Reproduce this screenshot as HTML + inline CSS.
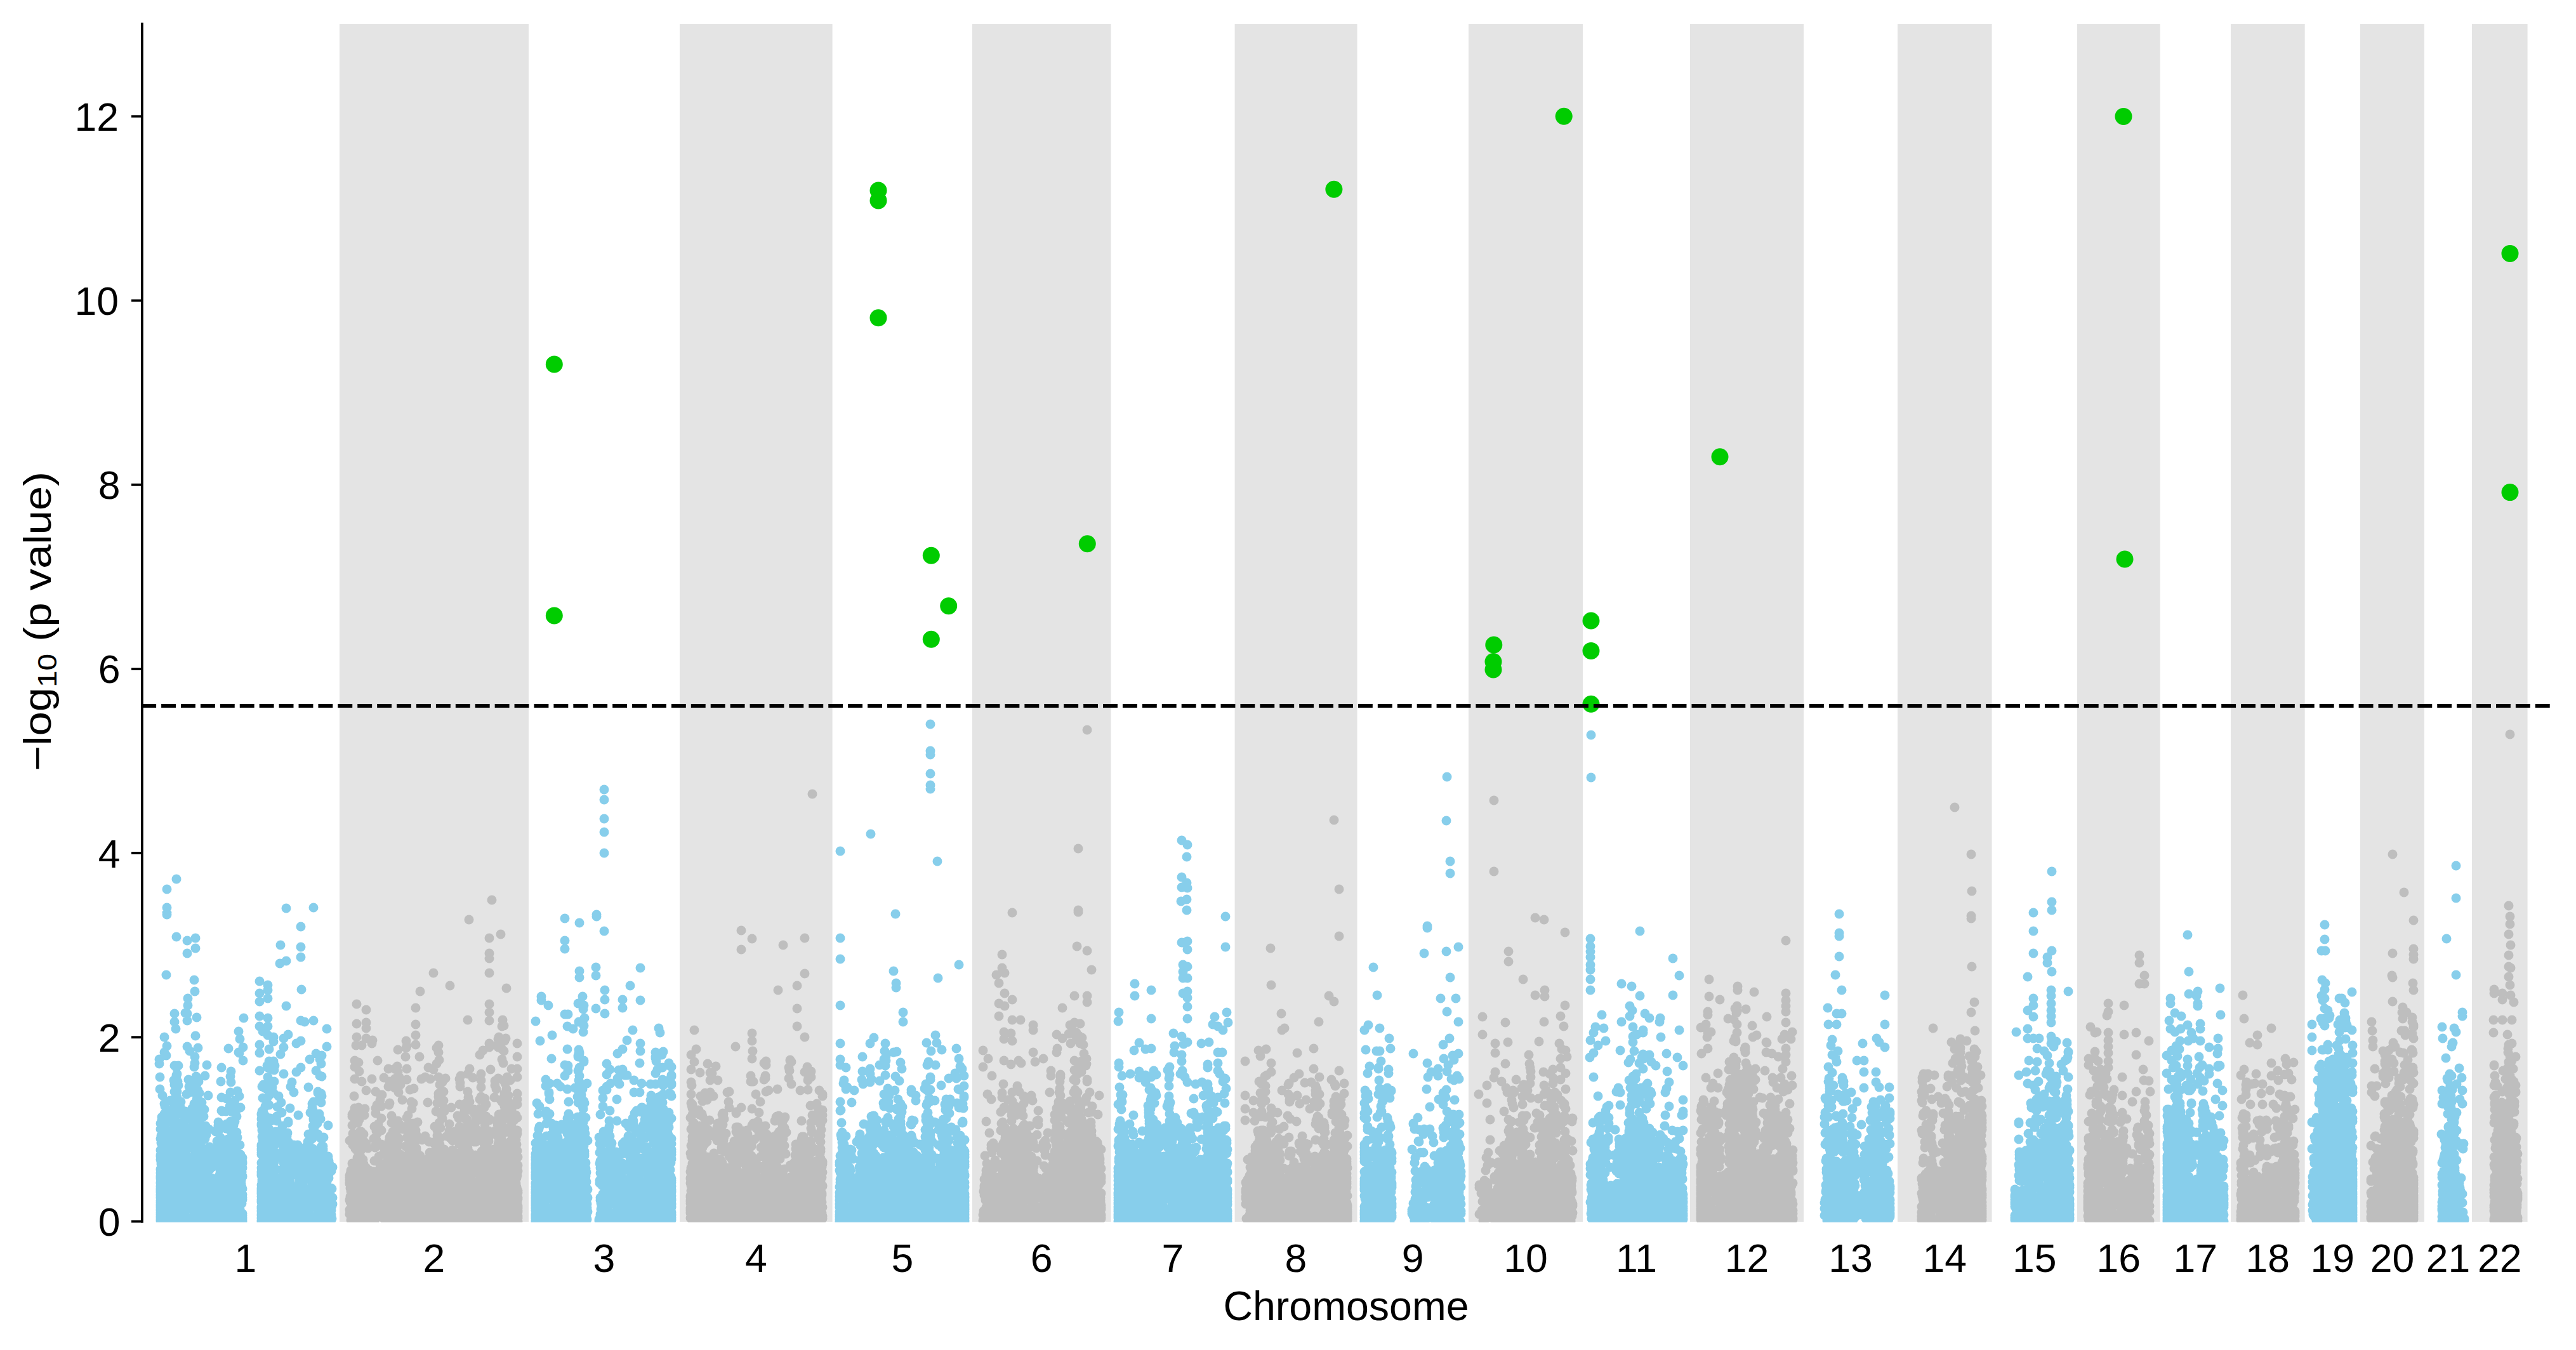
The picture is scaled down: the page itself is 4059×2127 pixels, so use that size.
<!DOCTYPE html><html><head><meta charset="utf-8"><style>html,body{margin:0;padding:0;background:#fff;width:4059px;height:2127px}svg{display:block}text{font-family:"Liberation Sans",sans-serif;fill:#000}</style></head><body><svg width="4059" height="2127" viewBox="0 0 4059 2127"><defs><clipPath id="ax"><rect x="224" y="38" width="3794" height="1887.7"/></clipPath></defs><rect x="535.0" y="38" width="298.0" height="1887.0" fill="#e4e4e4"/><rect x="1071.0" y="38" width="240.6" height="1887.0" fill="#e4e4e4"/><rect x="1532.0" y="38" width="218.5" height="1887.0" fill="#e4e4e4"/><rect x="1945.6" y="38" width="192.9" height="1887.0" fill="#e4e4e4"/><rect x="2314.0" y="38" width="180.0" height="1887.0" fill="#e4e4e4"/><rect x="2663.0" y="38" width="179.0" height="1887.0" fill="#e4e4e4"/><rect x="2990.0" y="38" width="148.6" height="1887.0" fill="#e4e4e4"/><rect x="3273.0" y="38" width="130.7" height="1887.0" fill="#e4e4e4"/><rect x="3515.0" y="38" width="116.7" height="1887.0" fill="#e4e4e4"/><rect x="3719.0" y="38" width="101.0" height="1887.0" fill="#e4e4e4"/><rect x="3895.0" y="38" width="87.6" height="1887.0" fill="#e4e4e4"/><g clip-path="url(#ax)"><path fill="#87ceeb" d=""/><path fill="#bebebe" d=""/><path fill="none" stroke-linecap="round" stroke-width="15" stroke="#87ceeb" d="M278 1385h0M263 1401h0M263 1430h0M263 1438h0M263 1441h0M278 1476h0M295 1482h0M308 1478h0M308 1494h0M295 1502h0M262 1536h0M306 1544h0M307 1562h0M296 1573h0M296 1584h0M295 1597h0M295 1608h0M275 1597h0M275 1610h0M277 1621h0M295 1649h0M262 1663h0M251 1669h0M251 1676h0M252 1697h0M252 1716h0M307 1675h0M326 1678h0M349 1682h0M323 1695h0M348 1704h0M349 1729h0M313 1704h0M384 1604h0M360 1652h0M378 1637h0M383 1650h0M377 1659h0M383 1671h0M451 1431h0M494 1430h0M474 1460h0M442 1489h0M474 1492h0M474 1508h0M451 1514h0M441 1518h0M475 1559h0M409 1546h0M409 1565h0M409 1578h0M409 1601h0M409 1617h0M422 1552h0M422 1560h0M422 1573h0M422 1604h0M422 1617h0M422 1631h0M451 1585h0M474 1608h0M480 1610h0M494 1608h0M515 1621h0M515 1649h0M498 1660h0M447 1636h0M454 1630h0M447 1650h0M467 1644h0M474 1640h0M409 1646h0M409 1659h0M424 1653h0M431 1672h0M409 1687h0M422 1682h0M447 1692h0M467 1689h0M474 1682h0M498 1687h0M506 1676h0M324 1902h0M285 1915h0M423 1914h0M504 1908h0M342 1828h0M373 1808h0M473 1868h0M317 1860h0M479 1911h0M414 1859h0M261 1894h0M279 1712h0M306 1911h0M415 1830h0M500 1921h0M365 1921h0M486 1848h0M457 1807h0M309 1905h0M507 1921h0M278 1910h0M304 1868h0M507 1727h0M254 1868h0M452 1921h0M271 1910h0M369 1859h0M376 1898h0M420 1880h0M254 1897h0M345 1909h0M448 1883h0M268 1904h0M258 1924h0M470 1835h0M289 1879h0M332 1860h0M253 1901h0M280 1888h0M312 1873h0M368 1922h0M304 1849h0M312 1907h0M379 1819h0M293 1816h0M267 1768h0M256 1919h0M280 1873h0M428 1783h0M307 1907h0M291 1904h0M281 1867h0M449 1922h0M261 1897h0M450 1908h0M260 1918h0M309 1912h0M445 1913h0M273 1917h0M312 1891h0M378 1823h0M301 1889h0M368 1888h0M259 1902h0M276 1905h0M372 1890h0M261 1903h0M423 1903h0M451 1916h0M484 1838h0M254 1917h0M282 1897h0M434 1923h0M325 1910h0M298 1872h0M416 1911h0M278 1886h0M255 1914h0M502 1886h0M310 1854h0M280 1777h0M349 1906h0M304 1879h0M413 1916h0M302 1858h0M278 1804h0M438 1923h0M293 1906h0M270 1888h0M428 1917h0M259 1892h0M493 1917h0M280 1921h0M457 1917h0M300 1898h0M485 1799h0M259 1815h0M283 1889h0M307 1923h0M322 1902h0M255 1891h0M292 1924h0M479 1901h0M350 1914h0M426 1793h0M372 1877h0M447 1898h0M330 1864h0M318 1777h0M299 1789h0M498 1916h0M310 1920h0M278 1907h0M487 1873h0M309 1898h0M313 1846h0M281 1899h0M277 1780h0M499 1897h0M285 1900h0M419 1804h0M413 1819h0M253 1919h0M299 1899h0M412 1819h0M328 1906h0M442 1920h0M502 1923h0M448 1868h0M348 1922h0M289 1895h0M273 1851h0M451 1923h0M269 1858h0M502 1905h0M497 1903h0M435 1923h0M416 1814h0M460 1919h0M300 1808h0M376 1876h0M329 1915h0M283 1834h0M365 1860h0M423 1874h0M254 1921h0M281 1894h0M304 1867h0M354 1914h0M433 1858h0M319 1912h0M368 1916h0M418 1785h0M292 1915h0M311 1882h0M264 1923h0M317 1849h0M300 1851h0M276 1920h0M288 1851h0M302 1918h0M301 1882h0M253 1895h0M282 1831h0M277 1853h0M466 1914h0M412 1892h0M511 1910h0M369 1907h0M441 1864h0M470 1886h0M305 1767h0M304 1859h0M497 1888h0M279 1738h0M282 1861h0M354 1901h0M289 1804h0M353 1913h0M417 1714h0M303 1922h0M298 1839h0M372 1919h0M455 1870h0M308 1841h0M447 1882h0M486 1908h0M330 1907h0M330 1909h0M413 1855h0M423 1843h0M306 1864h0M300 1922h0M424 1857h0M488 1895h0M376 1850h0M413 1763h0M414 1750h0M465 1919h0M275 1856h0M424 1923h0M299 1656h0M513 1879h0M321 1921h0M265 1915h0M281 1921h0M254 1841h0M447 1881h0M509 1844h0M272 1858h0M415 1924h0M286 1837h0M428 1826h0M466 1903h0M429 1798h0M255 1837h0M452 1906h0M502 1857h0M422 1854h0M276 1922h0M280 1877h0M429 1902h0M329 1886h0M501 1922h0M308 1840h0M299 1924h0M450 1923h0M371 1884h0M449 1923h0M346 1894h0M274 1844h0M256 1904h0M333 1921h0M506 1723h0M275 1876h0M271 1876h0M292 1810h0M519 1902h0M417 1821h0M275 1904h0M289 1832h0M366 1889h0M450 1846h0M510 1924h0M276 1864h0M512 1887h0M301 1783h0M276 1762h0M290 1894h0M506 1886h0M494 1875h0M282 1864h0M378 1901h0M503 1886h0M286 1890h0M453 1923h0M290 1882h0M357 1830h0M453 1909h0M441 1910h0M355 1870h0M257 1812h0M373 1893h0M296 1802h0M362 1924h0M259 1800h0M298 1840h0M255 1851h0M315 1868h0M342 1897h0M343 1900h0M260 1885h0M288 1874h0M327 1855h0M511 1920h0M296 1924h0M257 1923h0M319 1840h0M314 1923h0M510 1846h0M271 1801h0M423 1901h0M489 1878h0M492 1794h0M293 1858h0M268 1734h0M519 1906h0M449 1811h0M284 1923h0M419 1860h0M276 1769h0M257 1834h0M426 1907h0M253 1899h0M492 1880h0M505 1898h0M330 1817h0M258 1864h0M349 1924h0M280 1807h0M477 1920h0M378 1907h0M351 1924h0M501 1722h0M268 1889h0M259 1924h0M275 1792h0M255 1884h0M437 1905h0M426 1762h0M339 1875h0M275 1838h0M450 1867h0M493 1883h0M282 1923h0M267 1851h0M520 1898h0M292 1811h0M434 1907h0M424 1881h0M376 1746h0M279 1829h0M347 1815h0M319 1885h0M468 1868h0M295 1924h0M367 1916h0M458 1899h0M273 1904h0M337 1883h0M482 1887h0M428 1923h0M466 1907h0M412 1763h0M476 1894h0M286 1779h0M362 1919h0M489 1753h0M292 1861h0M275 1900h0M281 1924h0M377 1888h0M361 1893h0M319 1860h0M336 1876h0M279 1812h0M325 1847h0M279 1749h0M273 1866h0M365 1904h0M414 1890h0M266 1881h0M316 1879h0M502 1839h0M258 1868h0M263 1874h0M257 1860h0M322 1896h0M258 1822h0M429 1801h0M518 1923h0M420 1882h0M423 1887h0M338 1920h0M308 1817h0M497 1883h0M477 1910h0M499 1863h0M333 1890h0M297 1795h0M495 1859h0M377 1822h0M445 1862h0M451 1876h0M413 1919h0M279 1752h0M361 1833h0M282 1805h0M367 1910h0M457 1890h0M334 1831h0M417 1831h0M325 1886h0M413 1903h0M298 1848h0M292 1837h0M523 1920h0M454 1769h0M277 1715h0M437 1919h0M415 1771h0M458 1923h0M277 1840h0M459 1924h0M460 1887h0M363 1696h0M421 1898h0M343 1892h0M306 1822h0M428 1863h0M370 1734h0M369 1887h0M431 1641h0M272 1798h0M430 1866h0M424 1876h0M302 1836h0M345 1924h0M429 1869h0M308 1924h0M318 1837h0M517 1924h0M482 1911h0M432 1901h0M258 1853h0M379 1915h0M520 1902h0M425 1852h0M415 1831h0M423 1924h0M315 1807h0M375 1879h0M376 1920h0M270 1826h0M414 1914h0M337 1882h0M366 1907h0M255 1906h0M463 1893h0M371 1894h0M450 1872h0M501 1787h0M377 1823h0M500 1841h0M420 1838h0M451 1854h0M453 1862h0M357 1882h0M416 1924h0M352 1874h0M364 1877h0M499 1847h0M253 1875h0M427 1924h0M319 1815h0M450 1873h0M360 1887h0M417 1860h0M343 1877h0M447 1877h0M439 1883h0M420 1860h0M287 1924h0M488 1920h0M257 1810h0M449 1800h0M432 1827h0M414 1898h0M501 1923h0M377 1727h0M428 1823h0M276 1924h0M345 1859h0M510 1850h0M376 1868h0M341 1910h0M311 1815h0M253 1887h0M350 1878h0M365 1796h0M297 1836h0M324 1843h0M367 1867h0M338 1875h0M298 1712h0M297 1752h0M421 1893h0M328 1886h0M478 1855h0M359 1863h0M412 1873h0M263 1861h0M279 1843h0M494 1853h0M305 1789h0M445 1854h0M335 1878h0M478 1824h0M305 1768h0M520 1903h0M413 1870h0M324 1923h0M472 1817h0M279 1924h0M306 1681h0M308 1827h0M311 1753h0M331 1924h0M423 1889h0M271 1835h0M347 1884h0M276 1759h0M339 1868h0M285 1736h0M493 1855h0M259 1838h0M286 1840h0M376 1922h0M305 1830h0M513 1881h0M300 1824h0M471 1851h0M462 1887h0M256 1802h0M382 1920h0M298 1777h0M254 1908h0M273 1923h0M279 1826h0M361 1839h0M254 1870h0M519 1895h0M514 1895h0M304 1808h0M447 1923h0M258 1843h0M413 1881h0M348 1833h0M423 1845h0M254 1794h0M413 1878h0M449 1894h0M465 1921h0M447 1848h0M381 1896h0M363 1838h0M256 1861h0M253 1874h0M254 1834h0M284 1770h0M253 1892h0M427 1898h0M289 1781h0M381 1870h0M341 1903h0M285 1785h0M287 1812h0M310 1767h0M303 1924h0M468 1873h0M519 1894h0M323 1897h0M454 1867h0M477 1867h0M488 1923h0M341 1822h0M288 1797h0M412 1880h0M254 1815h0M433 1875h0M278 1814h0M495 1848h0M434 1790h0M313 1762h0M254 1911h0M496 1838h0M471 1856h0M448 1894h0M329 1898h0M310 1802h0M278 1786h0M345 1860h0M254 1801h0M492 1865h0M521 1901h0M436 1900h0M522 1922h0M490 1792h0M412 1890h0M337 1810h0M509 1924h0M444 1802h0M366 1924h0M358 1904h0M278 1713h0M312 1801h0M253 1794h0M309 1924h0M433 1870h0M257 1856h0M276 1815h0M259 1658h0M470 1923h0M379 1921h0M425 1762h0M274 1752h0M304 1791h0M432 1704h0M272 1924h0M293 1827h0M374 1922h0M280 1819h0M272 1748h0M313 1795h0M282 1827h0M337 1829h0M313 1755h0M421 1800h0M507 1663h0M412 1919h0M449 1827h0M428 1898h0M258 1834h0M380 1895h0M522 1845h0M499 1922h0M503 1876h0M291 1818h0M305 1771h0M253 1855h0M274 1924h0M381 1924h0M336 1872h0M429 1890h0M501 1871h0M255 1922h0M445 1774h0M494 1833h0M479 1860h0M328 1844h0M306 1784h0M254 1904h0M353 1899h0M350 1775h0M255 1764h0M318 1737h0M412 1872h0M512 1916h0M418 1924h0M502 1865h0M471 1862h0M446 1791h0M275 1777h0M429 1804h0M412 1852h0M454 1767h0M412 1881h0M277 1725h0M254 1884h0M253 1903h0M431 1855h0M382 1854h0M269 1752h0M382 1887h0M312 1750h0M412 1907h0M302 1795h0M310 1831h0M380 1881h0M485 1829h0M255 1813h0M449 1842h0M323 1924h0M253 1898h0M378 1910h0M312 1722h0M425 1827h0M368 1825h0M492 1812h0M253 1857h0M253 1911h0M370 1846h0M454 1882h0M363 1721h0M439 1898h0M264 1750h0M522 1914h0M360 1858h0M438 1891h0M382 1831h0M414 1793h0M471 1874h0M450 1850h0M455 1863h0M357 1888h0M481 1880h0M374 1792h0M314 1790h0M255 1812h0M434 1886h0M350 1865h0M298 1762h0M412 1875h0M263 1924h0M432 1856h0M382 1873h0M429 1833h0M265 1924h0M412 1904h0M364 1688h0M505 1839h0M361 1840h0M433 1679h0M504 1669h0M305 1756h0M325 1870h0M255 1792h0M456 1858h0M360 1838h0M464 1841h0M429 1713h0M342 1798h0M330 1807h0M314 1782h0M505 1876h0M454 1923h0M456 1855h0M328 1855h0M362 1854h0M421 1782h0M323 1880h0M328 1810h0M257 1794h0M356 1848h0M414 1815h0M444 1753h0M371 1836h0M420 1850h0M256 1806h0M423 1819h0M492 1837h0M439 1859h0M319 1924h0M445 1872h0M315 1761h0M363 1829h0M493 1810h0M370 1807h0M254 1832h0M270 1786h0M422 1697h0M431 1854h0M269 1844h0M255 1865h0M321 1759h0M412 1804h0M361 1829h0M426 1766h0M256 1924h0M429 1816h0M505 1819h0M257 1830h0M467 1839h0M333 1825h0M367 1740h0M498 1820h0M376 1658h0M442 1661h0M523 1873h0M349 1858h0M452 1811h0M254 1924h0M482 1842h0M448 1813h0M318 1809h0M253 1914h0M424 1711h0M348 1799h0M425 1812h0M275 1741h0M510 1855h0M377 1866h0M412 1851h0M420 1924h0M413 1776h0M446 1785h0M415 1709h0M315 1815h0M452 1790h0M322 1748h0M449 1840h0M310 1725h0M427 1844h0M511 1861h0M484 1920h0M504 1695h0M448 1826h0M350 1751h0M253 1827h0M452 1794h0M417 1837h0M253 1917h0M255 1863h0M345 1819h0M424 1672h0M463 1804h0M413 1768h0M521 1924h0M456 1877h0M482 1807h0M277 1810h0M416 1846h0M313 1802h0M505 1823h0M501 1720h0M382 1824h0M253 1906h0M266 1813h0M494 1782h0M333 1856h0M461 1877h0M455 1800h0M429 1820h0M484 1833h0M253 1910h0M432 1847h0M348 1836h0M456 1860h0M284 1924h0M430 1808h0M368 1745h0M473 1923h0M451 1833h0M413 1915h0M344 1828h0M480 1812h0M364 1751h0M304 1774h0M309 1696h0M479 1857h0M428 1924h0M329 1924h0M506 1794h0M346 1924h0M413 1862h0M433 1800h0M307 1824h0M320 1924h0M452 1846h0M519 1834h0M512 1851h0M466 1924h0M258 1797h0M253 1872h0M485 1857h0M290 1770h0M350 1830h0M439 1727h0M492 1832h0M521 1905h0M381 1915h0M256 1783h0M261 1779h0M412 1756h0M309 1750h0M412 1924h0M255 1822h0M434 1787h0M253 1877h0M267 1760h0M312 1924h0M364 1771h0M437 1744h0M412 1923h0M257 1805h0M378 1905h0M303 1746h0M284 1744h0M450 1840h0M290 1757h0M323 1794h0M509 1812h0M280 1704h0M521 1899h0M524 1897h0M501 1766h0M253 1863h0M412 1848h0M435 1822h0M463 1839h0M279 1729h0M378 1804h0M412 1903h0M279 1692h0M360 1807h0M344 1923h0M415 1824h0M446 1811h0M412 1806h0M356 1778h0M253 1907h0M256 1763h0M339 1782h0M344 1924h0M448 1840h0M445 1796h0M378 1864h0M412 1846h0M307 1665h0M254 1882h0M493 1749h0M253 1879h0M370 1818h0M412 1915h0M364 1783h0M507 1924h0M412 1867h0M461 1851h0M308 1632h0M453 1820h0M522 1872h0M268 1796h0M327 1849h0M253 1842h0M353 1814h0M357 1771h0M412 1893h0M506 1809h0M316 1800h0M485 1921h0M371 1785h0M306 1924h0M433 1924h0M344 1782h0M462 1816h0M516 1870h0M418 1758h0M364 1821h0M337 1836h0M435 1817h0M290 1758h0M382 1853h0M368 1773h0M448 1827h0M499 1827h0M320 1820h0M412 1773h0M504 1834h0M512 1836h0M275 1679h0M498 1814h0M371 1841h0M373 1784h0M507 1696h0M518 1924h0M478 1831h0M455 1924h0M443 1737h0M506 1870h0M415 1752h0M521 1908h0M504 1828h0M329 1841h0M355 1924h0M412 1902h0M506 1807h0M376 1625h0M372 1805h0M493 1774h0M414 1841h0M348 1857h0M364 1813h0M259 1739h0M460 1705h0M377 1836h0M278 1682h0M259 1794h0M278 1694h0M314 1749h0M347 1839h0M313 1924h0M356 1822h0M278 1695h0M347 1847h0M381 1882h0M254 1812h0M423 1727h0M344 1768h0M500 1770h0M522 1894h0M495 1777h0M463 1721h0M367 1750h0M347 1792h0M505 1763h0M492 1739h0M255 1760h0M456 1830h0M313 1734h0M412 1913h0M412 1879h0M517 1773h0M413 1712h0M253 1779h0M417 1769h0M426 1924h0M436 1759h0M344 1773h0M412 1816h0M412 1810h0M479 1822h0M428 1839h0M457 1746h0M354 1808h0M278 1710h0M299 1721h0M513 1888h0M345 1853h0M416 1836h0M254 1800h0M521 1902h0M522 1907h0M310 1603h0M260 1738h0M510 1792h0M481 1847h0M382 1840h0M432 1831h0M472 1828h0M292 1789h0M323 1840h0M271 1924h0M361 1796h0M312 1731h0M432 1686h0M349 1750h0M292 1751h0M476 1923h0M492 1923h0M312 1826h0M412 1812h0M311 1718h0M314 1722h0M352 1924h0M381 1847h0M310 1770h0M382 1924h0M431 1634h0M486 1713h0M459 1826h0M347 1841h0M414 1730h0M434 1842h0M412 1755h0M498 1923h0M507 1820h0M340 1783h0M412 1909h0M515 1862h0M253 1848h0M512 1896h0M495 1823h0M260 1743h0M479 1849h0M494 1762h0M486 1787h0M503 1755h0M435 1783h0M418 1743h0M259 1634h0M510 1831h0M524 1839h0M522 1886h0M266 1789h0M382 1918h0M292 1596h0M494 1764h0M315 1833h0M297 1722h0M378 1923h0M413 1791h0M453 1924h0M356 1751h0M424 1779h0M253 1923h0M447 1844h0M312 1765h0M260 1803h0M253 1812h0M492 1745h0M254 1820h0M517 1825h0M279 1720h0M353 1805h0M314 1766h0M478 1842h0M381 1846h0M415 1829h0M325 1788h0M432 1805h0M331 1829h0M451 1818h0M469 1804h0M471 1924h0M266 1924h0M256 1726h0M414 1797h0M342 1923h0M494 1817h0M431 1722h0M253 1882h0M363 1767h0M517 1822h0M370 1767h0M382 1915h0M509 1810h0M257 1772h0M281 1679h0M317 1772h0M362 1743h0M359 1795h0M429 1722h0M444 1843h0M257 1760h0M381 1850h0M412 1840h0M414 1625h0M253 1853h0M331 1828h0M493 1824h0M380 1865h0M424 1741h0M523 1888h0M493 1823h0M487 1823h0M412 1771h0M494 1736h0M518 1829h0M347 1812h0M255 1776h0M315 1826h0M253 1820h0M470 1924h0M281 1710h0M253 1921h0M318 1798h0M487 1803h0M263 1648h0M523 1887h0M503 1732h0M431 1836h0M505 1924h0M254 1789h0M297 1701h0M306 1703h0M382 1912h0M470 1757h0M412 1920h0M310 1708h0M413 1751h0M435 1924h0M380 1860h0M312 1651h0M312 1718h0M367 1766h0M447 1840h0M414 1834h0M412 1894h0M523 1900h0M310 1732h0M478 1923h0M309 1713h0M357 1731h0M319 1780h0M436 1766h0M336 1838h0M412 1832h0M419 1715h0M346 1806h0M369 1924h0M415 1789h0M443 1824h0M306 1739h0M329 1779h0M382 1922h0M412 1901h0M317 1924h0M524 1887h0M331 1842h0M253 1884h0M518 1856h0M428 1684h0M253 1822h0M324 1774h0M259 1755h0M253 1770h0M413 1781h0M382 1833h0M323 1838h0M374 1719h0M447 1832h0M518 1850h0M465 1825h0M253 1843h0M509 1806h0M274 1702h0M253 1869h0M488 1669h0M320 1830h0M253 1864h0M412 1885h0M422 1739h0M382 1882h0M294 1724h0M458 1712h0M373 1759h0M328 1726h0M382 1890h0M453 1785h0M506 1737h0M379 1745h0M275 1709h0M275 1720h0M412 1877h0M364 1705h0M413 1859h0M421 1679h0M427 1766h0M952 1244h0M952 1260h0M952 1290h0M952 1311h0M952 1344h0M890 1447h0M890 1482h0M890 1495h0M913 1454h0M940 1441h0M940 1444h0M952 1467h0M913 1530h0M913 1540h0M939 1524h0M939 1537h0M1009 1525h0M993 1553h0M853 1570h0M853 1576h0M918 1570h0M911 1581h0M953 1560h0M953 1575h0M939 1589h0M953 1597h0M981 1575h0M981 1588h0M1009 1576h0M890 1598h0M895 1598h0M894 1617h0M903 1621h0M997 1623h0M988 1639h0M981 1653h0M1009 1644h0M1009 1656h0M1038 1620h0M1040 1627h0M894 1653h0M913 1660h0M869 1668h0M890 1678h0M895 1679h0M890 1695h0M895 1687h0M913 1682h0M913 1695h0M860 1701h0M860 1711h0M878 1707h0M961 1685h0M981 1685h0M988 1694h0M999 1702h0M1011 1707h0M999 1721h0M1008 1721h0M1025 1708h0M1036 1685h0M1044 1682h0M1044 1701h0M1058 1681h0M1058 1694h0M1058 1707h0M962 1707h0M906 1714h0M916 1717h0M925 1707h0M950 1718h0M950 1730h0M950 1743h0M972 1732h0M1026 1742h0M1046 1753h0M1018 1766h0M998 1766h0M1007 1782h0M1052 1863h0M865 1889h0M1026 1910h0M1007 1901h0M871 1912h0M851 1855h0M1008 1921h0M1035 1893h0M910 1900h0M911 1885h0M1026 1896h0M1041 1900h0M965 1849h0M1039 1917h0M914 1909h0M1032 1898h0M1033 1898h0M989 1859h0M921 1914h0M881 1890h0M911 1919h0M872 1900h0M1043 1814h0M1044 1885h0M1040 1839h0M1035 1910h0M845 1860h0M891 1867h0M1041 1904h0M897 1922h0M872 1923h0M1038 1911h0M898 1780h0M992 1871h0M969 1896h0M846 1889h0M920 1890h0M893 1871h0M879 1909h0M869 1913h0M848 1902h0M915 1869h0M960 1909h0M981 1906h0M1035 1888h0M847 1918h0M1032 1889h0M1016 1769h0M920 1910h0M1029 1909h0M1054 1891h0M978 1858h0M1030 1922h0M958 1910h0M1039 1870h0M919 1868h0M956 1896h0M891 1917h0M860 1921h0M980 1897h0M845 1901h0M852 1922h0M1054 1904h0M879 1912h0M1042 1882h0M1029 1854h0M1028 1740h0M1045 1918h0M868 1884h0M912 1659h0M979 1921h0M865 1906h0M992 1921h0M961 1812h0M880 1826h0M894 1762h0M1032 1843h0M1045 1912h0M984 1896h0M992 1900h0M918 1905h0M887 1911h0M921 1876h0M1052 1906h0M1022 1859h0M846 1851h0M879 1874h0M876 1903h0M904 1917h0M844 1907h0M1056 1869h0M913 1906h0M1045 1895h0M888 1921h0M1053 1892h0M975 1854h0M894 1911h0M1037 1924h0M946 1916h0M1058 1819h0M907 1873h0M964 1842h0M1032 1803h0M847 1871h0M1039 1922h0M1002 1871h0M844 1924h0M896 1870h0M897 1759h0M868 1913h0M880 1824h0M1058 1696h0M1043 1793h0M1051 1920h0M891 1841h0M1020 1771h0M899 1843h0M883 1828h0M915 1829h0M984 1916h0M1033 1812h0M948 1917h0M1023 1896h0M844 1880h0M921 1921h0M1007 1921h0M858 1898h0M1021 1846h0M1001 1819h0M917 1844h0M971 1887h0M915 1888h0M1050 1908h0M923 1832h0M1048 1888h0M857 1902h0M1054 1902h0M991 1873h0M993 1874h0M865 1768h0M912 1776h0M1012 1864h0M914 1922h0M910 1830h0M918 1901h0M906 1917h0M846 1897h0M896 1861h0M861 1920h0M1044 1921h0M976 1708h0M844 1899h0M893 1911h0M874 1888h0M960 1877h0M908 1910h0M1037 1845h0M1025 1782h0M917 1922h0M911 1881h0M847 1889h0M1056 1903h0M909 1851h0M879 1899h0M913 1775h0M961 1824h0M851 1909h0M959 1884h0M1043 1846h0M920 1850h0M949 1868h0M1043 1662h0M1003 1902h0M981 1813h0M1019 1842h0M1023 1899h0M854 1910h0M1003 1919h0M849 1858h0M872 1872h0M881 1924h0M1042 1864h0M861 1751h0M1032 1881h0M876 1782h0M948 1904h0M882 1893h0M887 1900h0M1050 1876h0M1044 1873h0M953 1836h0M901 1914h0M1037 1767h0M1042 1840h0M888 1823h0M898 1828h0M873 1881h0M877 1880h0M844 1923h0M1051 1781h0M972 1841h0M958 1869h0M909 1863h0M1005 1922h0M966 1920h0M891 1921h0M922 1901h0M860 1819h0M921 1913h0M944 1923h0M910 1904h0M983 1912h0M883 1861h0M912 1610h0M871 1923h0M1028 1836h0M1031 1924h0M1014 1891h0M1037 1745h0M1043 1763h0M1056 1912h0M1058 1876h0M895 1848h0M956 1869h0M869 1923h0M1029 1921h0M878 1924h0M866 1829h0M1019 1849h0M872 1850h0M959 1900h0M957 1889h0M919 1776h0M873 1923h0M1042 1923h0M850 1890h0M986 1911h0M895 1877h0M922 1911h0M874 1865h0M899 1873h0M844 1902h0M987 1843h0M903 1840h0M884 1889h0M1040 1860h0M859 1836h0M1055 1816h0M984 1921h0M844 1801h0M916 1782h0M1011 1745h0M1046 1827h0M868 1809h0M846 1872h0M922 1847h0M953 1865h0M1024 1916h0M898 1815h0M875 1819h0M909 1836h0M891 1897h0M846 1810h0M1041 1825h0M964 1846h0M845 1887h0M1057 1724h0M956 1712h0M1057 1909h0M895 1900h0M978 1849h0M904 1875h0M912 1861h0M897 1819h0M922 1786h0M918 1878h0M1023 1872h0M844 1919h0M1034 1810h0M1013 1889h0M1039 1873h0M992 1876h0M904 1919h0M1021 1918h0M967 1859h0M988 1923h0M945 1860h0M978 1835h0M1023 1895h0M898 1829h0M925 1903h0M1023 1859h0M1018 1917h0M1012 1914h0M919 1836h0M866 1732h0M866 1923h0M923 1868h0M959 1802h0M925 1886h0M923 1882h0M960 1861h0M911 1892h0M899 1820h0M920 1805h0M897 1851h0M844 1839h0M888 1891h0M889 1830h0M1050 1922h0M998 1922h0M854 1815h0M885 1772h0M904 1920h0M1016 1917h0M979 1922h0M1014 1901h0M846 1865h0M945 1920h0M873 1820h0M1021 1923h0M1058 1902h0M1031 1757h0M1038 1867h0M853 1795h0M960 1797h0M1057 1861h0M956 1876h0M844 1898h0M1015 1913h0M969 1872h0M865 1888h0M1056 1843h0M910 1728h0M846 1869h0M911 1897h0M1036 1800h0M945 1816h0M894 1922h0M1036 1858h0M847 1863h0M1030 1891h0M866 1856h0M846 1893h0M866 1840h0M979 1896h0M1006 1904h0M857 1831h0M908 1895h0M904 1851h0M946 1756h0M1047 1836h0M909 1791h0M846 1886h0M909 1923h0M1043 1813h0M846 1857h0M894 1786h0M862 1885h0M956 1924h0M955 1923h0M996 1875h0M994 1900h0M897 1909h0M945 1864h0M1026 1816h0M1040 1850h0M1057 1912h0M920 1735h0M967 1915h0M990 1888h0M892 1924h0M957 1786h0M959 1781h0M1001 1920h0M920 1778h0M845 1913h0M895 1861h0M897 1907h0M1004 1811h0M870 1799h0M1007 1915h0M1034 1832h0M909 1904h0M1028 1891h0M1028 1890h0M869 1883h0M1019 1818h0M1017 1868h0M844 1884h0M915 1923h0M867 1876h0M885 1876h0M920 1893h0M975 1822h0M1047 1842h0M1043 1923h0M874 1852h0M997 1916h0M872 1827h0M1058 1913h0M1047 1754h0M1054 1807h0M1002 1917h0M1040 1818h0M857 1826h0M1020 1833h0M859 1846h0M845 1868h0M993 1921h0M1006 1887h0M904 1923h0M844 1879h0M963 1804h0M1029 1868h0M986 1882h0M872 1836h0M869 1842h0M849 1881h0M902 1895h0M976 1833h0M966 1854h0M976 1891h0M920 1923h0M1049 1861h0M919 1824h0M892 1811h0M874 1784h0M1032 1924h0M1055 1921h0M955 1843h0M893 1924h0M1052 1884h0M1025 1907h0M970 1828h0M1053 1788h0M986 1770h0M871 1810h0M996 1863h0M844 1889h0M917 1758h0M1046 1830h0M846 1738h0M1026 1740h0M885 1844h0M964 1841h0M919 1924h0M862 1818h0M1045 1846h0M865 1723h0M1018 1924h0M967 1827h0M864 1924h0M958 1924h0M993 1845h0M1056 1878h0M1005 1898h0M994 1843h0M1022 1882h0M1005 1847h0M923 1850h0M972 1766h0M855 1817h0M913 1658h0M844 1870h0M1058 1857h0M1043 1808h0M852 1843h0M918 1791h0M1008 1923h0M881 1820h0M1004 1877h0M1050 1858h0M905 1829h0M948 1846h0M995 1895h0M923 1872h0M917 1856h0M998 1909h0M975 1911h0M965 1838h0M1000 1820h0M1033 1814h0M849 1880h0M964 1801h0M918 1858h0M910 1890h0M874 1782h0M870 1869h0M981 1923h0M1058 1914h0M1011 1923h0M1056 1920h0M876 1779h0M972 1899h0M918 1862h0M901 1817h0M1040 1786h0M1033 1785h0M1054 1830h0M1009 1848h0M921 1919h0M973 1903h0M851 1840h0M994 1817h0M907 1855h0M957 1887h0M1057 1887h0M1037 1799h0M1055 1851h0M851 1922h0M987 1866h0M926 1874h0M1046 1726h0M921 1858h0M923 1847h0M851 1923h0M1055 1722h0M1019 1860h0M973 1906h0M847 1923h0M962 1880h0M1058 1896h0M851 1640h0M924 1910h0M910 1760h0M1034 1672h0M865 1805h0M862 1809h0M1054 1924h0M1011 1836h0M859 1885h0M900 1784h0M947 1912h0M1009 1842h0M914 1815h0M871 1843h0M844 1887h0M1007 1858h0M872 1800h0M956 1791h0M1050 1825h0M1020 1831h0M1057 1871h0M981 1833h0M908 1892h0M975 1886h0M861 1864h0M988 1867h0M1035 1924h0M920 1840h0M921 1818h0M915 1818h0M1030 1769h0M901 1815h0M881 1850h0M1045 1924h0M997 1888h0M848 1828h0M849 1865h0M1004 1784h0M919 1590h0M913 1923h0M858 1921h0M848 1755h0M844 1864h0M906 1826h0M919 1801h0M1051 1923h0M975 1864h0M846 1853h0M950 1900h0M849 1823h0M845 1837h0M1023 1828h0M969 1920h0M981 1818h0M1040 1924h0M908 1882h0M954 1892h0M966 1825h0M1058 1762h0M945 1802h0M953 1844h0M1033 1751h0M962 1811h0M863 1852h0M1052 1785h0M1043 1924h0M1058 1922h0M918 1808h0M961 1826h0M865 1877h0M897 1774h0M899 1773h0M971 1821h0M1039 1793h0M975 1686h0M849 1779h0M1021 1871h0M920 1924h0M958 1861h0M1058 1897h0M961 1858h0M859 1884h0M921 1896h0M1009 1779h0M896 1855h0M846 1854h0M920 1823h0M960 1848h0M923 1761h0M895 1882h0M849 1818h0M857 1871h0M1008 1859h0M1057 1923h0M1045 1724h0M893 1778h0M1019 1807h0M886 1863h0M1018 1876h0M864 1584h0M902 1800h0M1017 1877h0M991 1922h0M993 1842h0M882 1803h0M1058 1919h0M971 1874h0M875 1847h0M1014 1923h0M1034 1831h0M920 1798h0M1054 1827h0M844 1827h0M1038 1823h0M924 1920h0M989 1817h0M991 1776h0M846 1834h0M855 1923h0M872 1924h0M1057 1886h0M952 1886h0M918 1716h0M844 1851h0M1028 1737h0M988 1859h0M996 1923h0M913 1705h0M946 1840h0M1057 1893h0M1052 1804h0M908 1890h0M954 1924h0M848 1923h0M997 1855h0M946 1800h0M1057 1803h0M1057 1809h0M848 1789h0M980 1886h0M890 1815h0M871 1811h0M850 1775h0M1026 1922h0M884 1779h0M875 1796h0M848 1790h0M998 1776h0M894 1896h0M919 1768h0M1054 1795h0M1058 1869h0M844 1917h0M915 1764h0M845 1833h0M993 1824h0M968 1924h0M947 1809h0M917 1806h0M896 1736h0M1058 1910h0M858 1923h0M1054 1675h0M946 1829h0M1019 1827h0M1010 1802h0M995 1811h0M990 1819h0M917 1742h0M916 1767h0M919 1747h0M1010 1825h0M1040 1784h0M997 1762h0M1044 1737h0M874 1811h0M906 1923h0M990 1790h0M1058 1811h0M898 1894h0M921 1788h0M959 1855h0M973 1820h0M1053 1838h0M1057 1799h0M957 1827h0M978 1864h0M1057 1888h0M1028 1924h0M922 1891h0M925 1907h0M911 1803h0M946 1891h0M957 1861h0M891 1805h0M845 1857h0M879 1808h0M1033 1658h0M1058 1874h0M883 1843h0M1017 1882h0M875 1924h0M896 1923h0M971 1815h0M871 1786h0M1033 1763h0M1010 1780h0M1035 1781h0M976 1880h0M911 1663h0M898 1868h0M1034 1821h0M923 1841h0M922 1895h0M949 1856h0M894 1924h0M949 1900h0M1002 1832h0M948 1897h0M866 1707h0M846 1824h0M844 1878h0M924 1898h0M845 1856h0M1058 1709h0M997 1796h0M1045 1751h0M905 1924h0M912 1702h0M1019 1924h0M982 1805h0M923 1862h0M1058 1877h0M1052 1771h0M1049 1923h0M844 1904h0M984 1694h0M921 1821h0M944 1792h0M896 1889h0M979 1923h0M956 1676h0M949 1888h0M1057 1884h0M1030 1798h0M845 1821h0M999 1778h0M1025 1746h0M844 1835h0M922 1855h0M904 1800h0M1023 1761h0M1000 1754h0M920 1796h0M891 1804h0M967 1924h0M920 1739h0M975 1874h0M889 1850h0M921 1796h0M1057 1883h0M902 1923h0M921 1778h0M906 1781h0M911 1718h0M944 1922h0M908 1776h0M1054 1762h0M1038 1801h0M1025 1744h0M960 1775h0M844 1896h0M861 1790h0M844 1847h0M1058 1901h0M1058 1727h0M844 1915h0M844 1823h0M1006 1924h0M1010 1875h0M860 1755h0M1055 1679h0M924 1862h0M866 1755h0M870 1631h0M912 1734h0M844 1914h0M847 1789h0M1020 1749h0M1025 1733h0M1014 1772h0M1009 1783h0M990 1813h0M978 1869h0M970 1924h0M844 1892h0M1005 1801h0M844 1841h0M995 1806h0M973 1699h0M912 1736h0M887 1836h0M1033 1665h0M1049 1924h0M862 1759h0M1058 1863h0M894 1716h0M1002 1843h0M946 1913h0M899 1924h0M1057 1828h0M999 1773h0M918 1610h0M1026 1726h0M979 1852h0M1033 1691h0M948 1901h0M903 1814h0M876 1773h0M844 1894h0M1058 1794h0M1035 1771h0M924 1877h0M886 1801h0M993 1830h0M1058 1915h0M844 1856h0M1030 1786h0M844 1913h0M1025 1787h0M947 1857h0M845 1810h0M1050 1801h0M884 1836h0M844 1824h0M944 1921h0M894 1807h0M1041 1727h0M849 1812h0M896 1762h0M973 1660h0M990 1841h0M1021 1779h0M851 1811h0M1008 1675h0M849 1800h0M961 1750h0M946 1887h0M920 1673h0M1057 1906h0M844 1865h0M922 1837h0M1045 1750h0M1053 1758h0M1033 1667h0M1044 1756h0M1023 1924h0M956 1693h0M844 1836h0M1054 1753h0M920 1616h0M844 1874h0M951 1783h0M916 1725h0M872 1778h0M1053 1835h0M1010 1752h0M945 1833h0M926 1887h0M860 1805h0M911 1687h0M1058 1815h0M947 1814h0M1058 1860h0M1050 1774h0M911 1737h0M946 1848h0M1016 1768h0M895 1797h0M911 1665h0M861 1770h0M987 1873h0M953 1819h0M897 1758h0M920 1814h0M904 1772h0M865 1721h0M925 1909h0M1013 1810h0M871 1924h0M924 1893h0M921 1814h0M1058 1878h0M1058 1884h0M1025 1924h0M926 1797h0M1003 1750h0M1051 1775h0M950 1886h0M920 1671h0M921 1738h0M1036 1777h0M867 1789h0M845 1924h0M1045 1767h0M919 1626h0M1010 1796h0M950 1881h0M845 1818h0M844 1833h0M1058 1891h0M1018 1792h0M900 1924h0M866 1924h0M1058 1898h0M913 1610h0M1037 1729h0M1019 1760h0M1057 1832h0M846 1924h0M924 1847h0M947 1896h0M984 1799h0M850 1743h0M1016 1764h0M912 1654h0M852 1923h0M924 1922h0M844 1818h0M923 1859h0M994 1850h0M844 1853h0M978 1924h0M882 1924h0M1058 1802h0M844 1609h0M920 1584h0M981 1802h0M945 1923h0M925 1897h0M1058 1918h0M876 1789h0M896 1755h0M1013 1924h0M1045 1710h0M1055 1701h0M947 1905h0M1002 1783h0M1045 1747h0M1058 1889h0M924 1915h0M883 1712h0M1058 1826h0M1054 1776h0M1045 1657h0M902 1795h0M926 1909h0M923 1853h0M923 1844h0M956 1717h0M961 1790h0M921 1604h0M869 1770h0M1054 1767h0M925 1921h0M844 1920h0M1057 1854h0M1033 1708h0M1033 1737h0M1012 1745h0M960 1766h0M879 1792h0M1466 1141h0M1466 1183h0M1466 1189h0M1466 1219h0M1466 1237h0M1466 1243h0M1372 1314h0M1324 1341h0M1477 1357h0M1411 1440h0M1324 1478h0M1324 1511h0M1511 1520h0M1478 1541h0M1408 1530h0M1412 1549h0M1412 1556h0M1324 1584h0M1423 1595h0M1423 1610h0M1324 1644h0M1371 1644h0M1395 1644h0M1408 1658h0M1460 1643h0M1474 1631h0M1467 1656h0M1474 1678h0M1324 1669h0M1324 1678h0M1333 1682h0M1371 1684h0M1371 1692h0M1371 1705h0M1358 1701h0M1386 1678h0M1396 1671h0M1466 1697h0M1466 1701h0M1483 1710h0M1466 1717h0M1330 1702h0M1333 1716h0M1346 1718h0M1410 1718h0M1443 1734h0M1519 1729h0M1511 1745h0M1324 1736h0M1324 1750h0M1342 1737h0M1491 1732h0M1497 1732h0M1339 1844h0M1332 1823h0M1457 1913h0M1328 1874h0M1403 1858h0M1373 1906h0M1372 1856h0M1373 1874h0M1372 1837h0M1394 1920h0M1371 1904h0M1373 1914h0M1507 1882h0M1373 1922h0M1477 1903h0M1327 1913h0M1487 1909h0M1457 1903h0M1476 1909h0M1510 1846h0M1461 1757h0M1509 1882h0M1519 1852h0M1464 1924h0M1372 1853h0M1466 1907h0M1373 1880h0M1417 1801h0M1451 1855h0M1325 1883h0M1500 1882h0M1334 1923h0M1392 1864h0M1491 1824h0M1363 1899h0M1498 1866h0M1509 1831h0M1461 1836h0M1358 1902h0M1416 1903h0M1515 1804h0M1489 1924h0M1517 1902h0M1461 1913h0M1370 1774h0M1500 1910h0M1325 1823h0M1396 1769h0M1501 1863h0M1412 1915h0M1467 1920h0M1482 1846h0M1490 1870h0M1327 1884h0M1517 1914h0M1377 1908h0M1396 1911h0M1409 1883h0M1465 1908h0M1458 1908h0M1398 1896h0M1367 1901h0M1466 1904h0M1328 1862h0M1517 1916h0M1441 1864h0M1374 1919h0M1424 1887h0M1459 1870h0M1373 1907h0M1420 1888h0M1376 1904h0M1373 1913h0M1516 1915h0M1410 1896h0M1422 1918h0M1472 1892h0M1419 1923h0M1428 1876h0M1421 1886h0M1458 1860h0M1323 1835h0M1465 1845h0M1433 1838h0M1366 1898h0M1375 1844h0M1393 1924h0M1520 1893h0M1405 1896h0M1477 1880h0M1470 1924h0M1357 1910h0M1375 1819h0M1501 1887h0M1445 1912h0M1518 1913h0M1445 1923h0M1461 1796h0M1418 1917h0M1517 1887h0M1372 1909h0M1420 1904h0M1483 1907h0M1421 1839h0M1487 1911h0M1330 1815h0M1409 1889h0M1495 1915h0M1518 1875h0M1415 1883h0M1478 1916h0M1496 1839h0M1434 1859h0M1400 1890h0M1391 1922h0M1514 1919h0M1421 1904h0M1421 1855h0M1376 1892h0M1428 1881h0M1440 1920h0M1484 1878h0M1434 1866h0M1436 1924h0M1461 1834h0M1482 1890h0M1382 1918h0M1465 1834h0M1399 1836h0M1464 1882h0M1384 1905h0M1512 1863h0M1377 1865h0M1363 1864h0M1519 1851h0M1337 1918h0M1511 1832h0M1387 1876h0M1486 1881h0M1380 1877h0M1428 1902h0M1507 1831h0M1488 1873h0M1409 1905h0M1344 1898h0M1363 1921h0M1412 1921h0M1375 1922h0M1340 1811h0M1452 1910h0M1515 1916h0M1500 1861h0M1366 1878h0M1407 1917h0M1371 1897h0M1498 1865h0M1366 1920h0M1509 1818h0M1391 1920h0M1389 1917h0M1515 1920h0M1453 1830h0M1492 1902h0M1330 1895h0M1520 1886h0M1328 1808h0M1456 1915h0M1367 1824h0M1462 1874h0M1439 1886h0M1508 1912h0M1401 1866h0M1476 1920h0M1429 1895h0M1440 1883h0M1471 1889h0M1361 1893h0M1374 1887h0M1367 1879h0M1507 1873h0M1375 1900h0M1376 1890h0M1490 1892h0M1334 1830h0M1520 1905h0M1458 1812h0M1486 1885h0M1485 1896h0M1423 1921h0M1418 1811h0M1399 1823h0M1518 1746h0M1420 1895h0M1392 1923h0M1434 1924h0M1395 1694h0M1420 1910h0M1412 1922h0M1345 1890h0M1462 1901h0M1393 1899h0M1508 1863h0M1375 1898h0M1336 1886h0M1362 1859h0M1418 1795h0M1433 1869h0M1373 1791h0M1346 1921h0M1385 1903h0M1357 1839h0M1461 1920h0M1377 1922h0M1507 1921h0M1349 1906h0M1448 1916h0M1496 1923h0M1372 1812h0M1435 1921h0M1373 1867h0M1447 1898h0M1393 1833h0M1346 1922h0M1359 1896h0M1391 1878h0M1516 1920h0M1515 1895h0M1397 1911h0M1501 1869h0M1415 1856h0M1482 1835h0M1398 1901h0M1368 1884h0M1492 1892h0M1355 1839h0M1350 1914h0M1440 1897h0M1374 1853h0M1367 1916h0M1331 1866h0M1445 1890h0M1422 1878h0M1514 1898h0M1379 1895h0M1392 1862h0M1468 1924h0M1409 1829h0M1409 1851h0M1393 1808h0M1368 1909h0M1396 1923h0M1359 1688h0M1400 1882h0M1324 1895h0M1381 1891h0M1457 1875h0M1391 1845h0M1436 1822h0M1327 1861h0M1438 1911h0M1520 1891h0M1399 1811h0M1359 1857h0M1383 1899h0M1359 1899h0M1463 1883h0M1500 1889h0M1458 1872h0M1452 1919h0M1417 1875h0M1326 1769h0M1492 1893h0M1371 1843h0M1395 1892h0M1495 1896h0M1339 1879h0M1518 1896h0M1515 1849h0M1331 1909h0M1485 1790h0M1508 1833h0M1375 1924h0M1366 1888h0M1392 1845h0M1515 1856h0M1468 1879h0M1513 1904h0M1444 1837h0M1376 1841h0M1519 1711h0M1476 1874h0M1421 1915h0M1467 1873h0M1519 1919h0M1511 1899h0M1434 1873h0M1443 1923h0M1490 1917h0M1328 1905h0M1323 1917h0M1466 1896h0M1493 1865h0M1358 1841h0M1490 1871h0M1452 1852h0M1489 1866h0M1467 1841h0M1512 1823h0M1440 1900h0M1326 1860h0M1358 1888h0M1507 1855h0M1476 1849h0M1509 1828h0M1482 1920h0M1498 1844h0M1329 1859h0M1395 1802h0M1421 1924h0M1488 1850h0M1326 1922h0M1331 1848h0M1498 1862h0M1515 1865h0M1489 1840h0M1385 1834h0M1479 1780h0M1454 1858h0M1377 1859h0M1506 1888h0M1432 1924h0M1332 1907h0M1389 1878h0M1407 1864h0M1378 1923h0M1390 1860h0M1442 1837h0M1517 1880h0M1493 1902h0M1488 1822h0M1331 1874h0M1378 1886h0M1353 1913h0M1325 1923h0M1330 1857h0M1440 1882h0M1463 1867h0M1326 1901h0M1453 1874h0M1465 1736h0M1465 1858h0M1372 1773h0M1487 1855h0M1371 1789h0M1354 1901h0M1518 1860h0M1441 1832h0M1393 1743h0M1510 1902h0M1491 1924h0M1454 1924h0M1323 1870h0M1397 1845h0M1465 1832h0M1382 1797h0M1417 1798h0M1420 1778h0M1467 1857h0M1459 1884h0M1496 1783h0M1467 1849h0M1342 1812h0M1390 1892h0M1463 1855h0M1442 1877h0M1519 1908h0M1460 1900h0M1497 1875h0M1399 1715h0M1385 1861h0M1490 1749h0M1500 1922h0M1459 1759h0M1368 1921h0M1355 1844h0M1423 1924h0M1430 1793h0M1390 1923h0M1459 1898h0M1393 1854h0M1371 1814h0M1375 1836h0M1448 1924h0M1398 1887h0M1440 1861h0M1394 1656h0M1472 1860h0M1494 1899h0M1502 1847h0M1376 1835h0M1434 1862h0M1327 1839h0M1374 1807h0M1329 1809h0M1428 1854h0M1423 1907h0M1356 1854h0M1520 1885h0M1392 1738h0M1467 1833h0M1399 1879h0M1460 1788h0M1331 1904h0M1394 1827h0M1412 1780h0M1401 1837h0M1456 1870h0M1338 1878h0M1461 1817h0M1518 1920h0M1485 1866h0M1518 1922h0M1383 1920h0M1377 1817h0M1467 1868h0M1484 1788h0M1508 1834h0M1444 1869h0M1498 1812h0M1419 1815h0M1489 1850h0M1377 1635h0M1487 1832h0M1381 1848h0M1426 1918h0M1355 1848h0M1373 1777h0M1510 1921h0M1430 1907h0M1458 1897h0M1324 1858h0M1426 1870h0M1400 1853h0M1485 1787h0M1458 1824h0M1382 1872h0M1495 1796h0M1520 1924h0M1326 1793h0M1428 1838h0M1391 1924h0M1475 1846h0M1360 1831h0M1408 1775h0M1470 1864h0M1415 1732h0M1338 1877h0M1461 1823h0M1492 1803h0M1520 1918h0M1453 1803h0M1485 1864h0M1505 1909h0M1446 1924h0M1484 1824h0M1439 1924h0M1466 1836h0M1460 1807h0M1323 1879h0M1373 1797h0M1518 1858h0M1376 1828h0M1482 1870h0M1470 1827h0M1443 1885h0M1359 1875h0M1512 1717h0M1427 1817h0M1486 1924h0M1425 1817h0M1392 1889h0M1393 1870h0M1408 1869h0M1505 1834h0M1464 1807h0M1366 1831h0M1463 1673h0M1386 1830h0M1489 1821h0M1419 1759h0M1374 1789h0M1358 1890h0M1417 1839h0M1326 1902h0M1361 1797h0M1519 1913h0M1408 1871h0M1467 1796h0M1464 1819h0M1435 1843h0M1399 1922h0M1506 1780h0M1345 1922h0M1520 1906h0M1461 1842h0M1485 1863h0M1452 1899h0M1452 1860h0M1509 1822h0M1495 1797h0M1457 1924h0M1520 1838h0M1378 1800h0M1520 1851h0M1378 1780h0M1413 1865h0M1358 1840h0M1421 1847h0M1412 1770h0M1416 1746h0M1401 1921h0M1447 1892h0M1327 1800h0M1485 1861h0M1375 1766h0M1422 1830h0M1372 1787h0M1325 1866h0M1379 1884h0M1420 1825h0M1459 1842h0M1419 1864h0M1484 1862h0M1479 1842h0M1433 1792h0M1468 1819h0M1420 1861h0M1499 1858h0M1517 1863h0M1433 1882h0M1444 1887h0M1461 1762h0M1356 1850h0M1518 1867h0M1380 1923h0M1440 1857h0M1323 1914h0M1413 1924h0M1386 1826h0M1406 1845h0M1371 1849h0M1398 1924h0M1329 1802h0M1384 1791h0M1375 1774h0M1509 1922h0M1332 1902h0M1394 1786h0M1500 1907h0M1338 1849h0M1354 1916h0M1461 1738h0M1464 1771h0M1360 1877h0M1359 1848h0M1501 1924h0M1514 1817h0M1467 1924h0M1474 1924h0M1419 1780h0M1440 1766h0M1493 1820h0M1374 1806h0M1437 1765h0M1513 1789h0M1493 1924h0M1362 1870h0M1324 1863h0M1436 1789h0M1510 1897h0M1508 1901h0M1349 1894h0M1393 1799h0M1361 1771h0M1403 1922h0M1459 1892h0M1370 1923h0M1466 1789h0M1434 1836h0M1332 1866h0M1462 1768h0M1392 1825h0M1359 1665h0M1323 1924h0M1509 1824h0M1512 1810h0M1507 1826h0M1518 1862h0M1457 1837h0M1367 1805h0M1416 1763h0M1444 1847h0M1488 1816h0M1378 1924h0M1456 1847h0M1520 1909h0M1327 1849h0M1399 1924h0M1458 1822h0M1396 1664h0M1509 1801h0M1485 1856h0M1400 1736h0M1495 1743h0M1395 1679h0M1520 1796h0M1508 1698h0M1400 1824h0M1419 1771h0M1436 1800h0M1435 1855h0M1420 1824h0M1458 1889h0M1519 1846h0M1346 1871h0M1324 1924h0M1415 1799h0M1490 1787h0M1325 1788h0M1517 1739h0M1324 1911h0M1323 1885h0M1519 1871h0M1338 1916h0M1444 1885h0M1326 1905h0M1410 1841h0M1497 1820h0M1325 1906h0M1369 1821h0M1458 1885h0M1492 1829h0M1511 1922h0M1373 1700h0M1396 1766h0M1507 1652h0M1341 1888h0M1486 1764h0M1485 1830h0M1349 1859h0M1456 1883h0M1393 1724h0M1323 1844h0M1519 1898h0M1508 1791h0M1417 1703h0M1476 1643h0M1520 1835h0M1461 1718h0M1404 1807h0M1339 1883h0M1520 1923h0M1327 1816h0M1340 1865h0M1373 1759h0M1520 1920h0M1462 1753h0M1508 1923h0M1358 1919h0M1511 1668h0M1484 1924h0M1515 1812h0M1430 1824h0M1444 1924h0M1369 1792h0M1520 1913h0M1416 1923h0M1350 1885h0M1421 1752h0M1462 1770h0M1435 1771h0M1358 1817h0M1323 1897h0M1384 1799h0M1415 1807h0M1520 1903h0M1333 1908h0M1328 1923h0M1355 1873h0M1412 1923h0M1325 1749h0M1508 1738h0M1511 1828h0M1417 1804h0M1490 1782h0M1323 1909h0M1359 1865h0M1459 1708h0M1453 1827h0M1520 1823h0M1520 1819h0M1446 1847h0M1436 1721h0M1417 1826h0M1381 1775h0M1409 1924h0M1338 1843h0M1355 1846h0M1515 1806h0M1332 1923h0M1368 1809h0M1419 1767h0M1473 1734h0M1404 1923h0M1461 1770h0M1437 1793h0M1462 1924h0M1451 1843h0M1461 1678h0M1484 1808h0M1371 1924h0M1520 1900h0M1338 1904h0M1464 1813h0M1517 1769h0M1375 1805h0M1520 1870h0M1336 1908h0M1419 1794h0M1458 1780h0M1419 1786h0M1476 1825h0M1333 1790h0M1330 1808h0M1460 1741h0M1346 1856h0M1423 1788h0M1431 1800h0M1354 1877h0M1327 1808h0M1384 1800h0M1419 1674h0M1396 1924h0M1406 1797h0M1401 1796h0M1485 1806h0M1461 1786h0M1473 1768h0M1465 1788h0M1486 1777h0M1339 1840h0M1400 1924h0M1520 1887h0M1520 1863h0M1329 1924h0M1360 1708h0M1412 1817h0M1519 1727h0M1471 1924h0M1490 1748h0M1457 1715h0M1520 1914h0M1360 1807h0M1323 1831h0M1465 1772h0M1445 1821h0M1413 1746h0M1325 1856h0M1386 1703h0M1371 1779h0M1380 1821h0M1520 1899h0M1405 1817h0M1436 1717h0M1510 1716h0M1519 1695h0M1469 1799h0M1495 1699h0M1486 1768h0M1520 1814h0M1496 1754h0M1443 1726h0M1329 1794h0M1520 1830h0M1377 1802h0M1499 1776h0M1519 1875h0M1399 1761h0M1459 1779h0M1489 1802h0M1453 1924h0M1339 1915h0M1413 1748h0M1436 1821h0M1394 1671h0M1436 1772h0M1356 1805h0M1373 1924h0M1509 1809h0M1510 1924h0M1485 1792h0M1463 1784h0M1392 1824h0M1491 1762h0M1500 1924h0M1505 1826h0M1382 1765h0M1413 1657h0M1335 1713h0M1489 1740h0M1340 1844h0M1398 1769h0M1441 1800h0M1507 1699h0M1419 1809h0M1390 1804h0M1393 1781h0M1421 1684h0M1355 1828h0M1459 1797h0M1464 1730h0M1341 1820h0M1426 1810h0M1357 1921h0M1434 1820h0M1411 1696h0M1458 1924h0M1402 1746h0M1455 1805h0M1516 1684h0M1438 1818h0M1355 1787h0M1324 1847h0M1340 1861h0M1459 1765h0M1374 1765h0M1344 1826h0M1382 1789h0M1324 1821h0M1323 1902h0M1479 1804h0M1505 1691h0M1439 1815h0M1401 1726h0M1354 1839h0M1329 1707h0M1460 1792h0M1420 1783h0M1353 1798h0M1358 1921h0M1466 1784h0M1323 1921h0M1454 1806h0M1376 1758h0M1350 1799h0M1459 1796h0M1417 1785h0M1323 1891h0M1484 1654h0M1449 1803h0M1330 1803h0M1520 1881h0M1519 1812h0M1393 1669h0M1516 1769h0M1377 1758h0M1517 1923h0M1458 1791h0M1486 1771h0M1354 1793h0M1464 1763h0M1520 1853h0M1432 1804h0M1405 1788h0M1419 1739h0M1365 1923h0M1422 1744h0M1382 1786h0M1520 1897h0M1402 1769h0M1327 1784h0M1513 1680h0M1517 1767h0M1862 1324h0M1871 1331h0M1870 1350h0M1862 1382h0M1870 1391h0M1862 1398h0M1871 1399h0M1861 1420h0M1870 1417h0M1870 1434h0M1862 1485h0M1871 1483h0M1871 1496h0M1864 1520h0M1871 1523h0M1864 1531h0M1864 1541h0M1871 1541h0M1864 1565h0M1871 1562h0M1871 1572h0M1871 1586h0M1871 1605h0M1931 1444h0M1931 1492h0M1788 1550h0M1788 1569h0M1814 1560h0M1814 1605h0M1914 1602h0M1911 1614h0M1919 1617h0M1927 1623h0M1933 1595h0M1935 1611h0M1849 1628h0M1862 1633h0M1871 1642h0M1795 1643h0M1787 1655h0M1805 1653h0M1814 1652h0M1893 1644h0M1862 1662h0M1862 1672h0M1860 1692h0M1763 1675h0M1763 1681h0M1768 1695h0M1781 1692h0M1795 1688h0M1795 1698h0M1805 1694h0M1805 1705h0M1814 1697h0M1903 1682h0M1919 1658h0M1926 1658h0M1919 1675h0M1919 1687h0M1931 1700h0M1764 1713h0M1842 1727h0M1871 1705h0M1884 1708h0M1894 1705h0M1903 1708h0M1896 1726h0M1909 1727h0M1919 1729h0M1929 1723h0M1896 1924h0M1925 1895h0M1768 1923h0M1879 1874h0M1897 1904h0M1903 1742h0M1828 1892h0M1821 1913h0M1870 1923h0M1853 1786h0M1917 1902h0M1882 1924h0M1927 1811h0M1762 1891h0M1845 1831h0M1888 1922h0M1780 1893h0M1928 1917h0M1781 1828h0M1843 1850h0M1813 1922h0M1914 1894h0M1870 1902h0M1813 1921h0M1930 1887h0M1864 1923h0M1928 1873h0M1922 1912h0M1913 1916h0M1908 1794h0M1864 1862h0M1837 1884h0M1844 1888h0M1909 1897h0M1862 1921h0M1857 1903h0M1762 1918h0M1910 1885h0M1780 1871h0M1822 1923h0M1849 1907h0M1928 1908h0M1907 1831h0M1843 1921h0M1774 1911h0M1902 1747h0M1851 1856h0M1829 1908h0M1910 1923h0M1820 1923h0M1813 1874h0M1866 1838h0M1914 1884h0M1766 1910h0M1774 1889h0M1842 1913h0M1843 1755h0M1893 1795h0M1920 1892h0M1847 1871h0M1892 1921h0M1934 1811h0M1903 1904h0M1815 1912h0M1933 1837h0M1920 1818h0M1824 1917h0M1793 1823h0M1794 1916h0M1920 1914h0M1767 1922h0M1908 1734h0M1843 1914h0M1902 1804h0M1833 1858h0M1864 1883h0M1783 1901h0M1869 1822h0M1912 1856h0M1842 1711h0M1818 1896h0M1885 1900h0M1876 1914h0M1762 1902h0M1850 1912h0M1899 1921h0M1911 1920h0M1769 1832h0M1926 1840h0M1778 1900h0M1775 1877h0M1925 1880h0M1772 1911h0M1814 1895h0M1772 1921h0M1824 1847h0M1829 1914h0M1762 1852h0M1903 1912h0M1763 1873h0M1810 1924h0M1910 1893h0M1900 1916h0M1808 1923h0M1831 1922h0M1804 1882h0M1770 1886h0M1928 1897h0M1913 1800h0M1851 1832h0M1772 1868h0M1762 1914h0M1826 1876h0M1852 1923h0M1879 1923h0M1890 1909h0M1933 1801h0M1905 1924h0M1931 1774h0M1925 1838h0M1812 1909h0M1914 1919h0M1862 1880h0M1776 1877h0M1765 1883h0M1823 1832h0M1849 1924h0M1800 1782h0M1934 1915h0M1818 1821h0M1815 1911h0M1904 1878h0M1908 1800h0M1800 1877h0M1902 1909h0M1779 1892h0M1827 1896h0M1808 1924h0M1928 1896h0M1858 1868h0M1833 1908h0M1851 1902h0M1819 1838h0M1841 1882h0M1852 1902h0M1915 1781h0M1863 1900h0M1882 1848h0M1813 1887h0M1813 1714h0M1904 1796h0M1800 1881h0M1822 1726h0M1772 1902h0M1819 1793h0M1866 1918h0M1906 1804h0M1812 1897h0M1811 1805h0M1880 1922h0M1767 1924h0M1923 1865h0M1872 1883h0M1915 1841h0M1779 1906h0M1835 1832h0M1874 1922h0M1822 1881h0M1764 1901h0M1821 1826h0M1864 1907h0M1827 1892h0M1782 1865h0M1814 1888h0M1762 1841h0M1763 1798h0M1907 1860h0M1912 1908h0M1787 1898h0M1808 1906h0M1847 1897h0M1875 1890h0M1824 1924h0M1874 1840h0M1832 1898h0M1816 1877h0M1796 1867h0M1929 1891h0M1875 1860h0M1926 1916h0M1822 1874h0M1887 1901h0M1899 1889h0M1782 1912h0M1886 1913h0M1822 1863h0M1807 1862h0M1907 1865h0M1927 1900h0M1864 1853h0M1925 1924h0M1861 1900h0M1858 1881h0M1873 1835h0M1763 1922h0M1934 1897h0M1840 1882h0M1871 1923h0M1924 1869h0M1806 1889h0M1773 1897h0M1934 1912h0M1921 1922h0M1905 1870h0M1917 1923h0M1799 1861h0M1784 1819h0M1842 1905h0M1913 1883h0M1842 1683h0M1774 1885h0M1827 1910h0M1838 1889h0M1863 1889h0M1886 1866h0M1862 1916h0M1774 1844h0M1869 1845h0M1813 1914h0M1818 1900h0M1813 1856h0M1771 1786h0M1785 1881h0M1911 1817h0M1921 1838h0M1869 1791h0M1850 1658h0M1877 1908h0M1763 1899h0M1888 1878h0M1900 1896h0M1860 1861h0M1817 1841h0M1881 1753h0M1862 1899h0M1909 1868h0M1796 1844h0M1810 1800h0M1854 1811h0M1834 1837h0M1934 1916h0M1906 1852h0M1795 1877h0M1921 1864h0M1836 1869h0M1810 1748h0M1870 1852h0M1932 1887h0M1783 1916h0M1833 1854h0M1769 1794h0M1842 1746h0M1903 1882h0M1904 1795h0M1774 1855h0M1932 1715h0M1875 1869h0M1791 1831h0M1848 1850h0M1848 1840h0M1810 1864h0M1779 1921h0M1804 1892h0M1869 1883h0M1781 1806h0M1884 1896h0M1768 1855h0M1776 1855h0M1768 1924h0M1779 1888h0M1847 1845h0M1855 1897h0M1854 1886h0M1781 1921h0M1872 1923h0M1853 1874h0M1908 1882h0M1923 1877h0M1806 1878h0M1904 1740h0M1769 1829h0M1867 1863h0M1845 1854h0M1841 1802h0M1858 1921h0M1777 1851h0M1763 1830h0M1792 1905h0M1846 1860h0M1924 1842h0M1763 1924h0M1764 1905h0M1766 1924h0M1905 1878h0M1845 1824h0M1824 1823h0M1805 1840h0M1780 1924h0M1810 1753h0M1792 1823h0M1891 1922h0M1846 1792h0M1871 1880h0M1905 1827h0M1904 1716h0M1808 1914h0M1874 1879h0M1912 1923h0M1930 1919h0M1880 1879h0M1877 1887h0M1762 1897h0M1838 1787h0M1884 1893h0M1846 1795h0M1806 1902h0M1889 1767h0M1822 1776h0M1782 1826h0M1864 1866h0M1915 1874h0M1785 1858h0M1785 1819h0M1801 1855h0M1903 1825h0M1874 1905h0M1868 1801h0M1926 1855h0M1928 1869h0M1887 1867h0M1926 1844h0M1811 1866h0M1792 1894h0M1790 1889h0M1901 1713h0M1825 1796h0M1868 1901h0M1880 1833h0M1867 1872h0M1913 1924h0M1763 1905h0M1828 1806h0M1928 1829h0M1870 1895h0M1847 1860h0M1835 1881h0M1770 1923h0M1866 1825h0M1877 1900h0M1811 1780h0M1796 1883h0M1764 1815h0M1854 1885h0M1910 1756h0M1815 1840h0M1811 1797h0M1763 1877h0M1934 1874h0M1810 1831h0M1878 1923h0M1891 1827h0M1816 1841h0M1811 1794h0M1824 1862h0M1825 1871h0M1921 1810h0M1765 1855h0M1897 1895h0M1824 1810h0M1771 1782h0M1803 1902h0M1839 1743h0M1762 1873h0M1817 1922h0M1811 1766h0M1762 1905h0M1858 1922h0M1868 1825h0M1863 1845h0M1932 1868h0M1838 1857h0M1900 1825h0M1910 1853h0M1887 1924h0M1770 1816h0M1902 1869h0M1764 1863h0M1861 1778h0M1884 1891h0M1889 1855h0M1844 1883h0M1888 1856h0M1873 1923h0M1874 1924h0M1922 1859h0M1822 1804h0M1809 1742h0M1804 1823h0M1867 1697h0M1790 1924h0M1762 1908h0M1852 1817h0M1921 1923h0M1918 1846h0M1920 1831h0M1762 1887h0M1770 1838h0M1932 1918h0M1822 1856h0M1762 1806h0M1836 1792h0M1790 1866h0M1845 1846h0M1843 1848h0M1844 1821h0M1904 1837h0M1823 1772h0M1855 1819h0M1930 1852h0M1907 1841h0M1903 1880h0M1812 1777h0M1902 1923h0M1932 1862h0M1842 1844h0M1801 1877h0M1887 1776h0M1835 1827h0M1843 1766h0M1930 1905h0M1762 1846h0M1865 1820h0M1765 1799h0M1934 1898h0M1799 1907h0M1930 1738h0M1807 1802h0M1762 1880h0M1762 1840h0M1762 1924h0M1933 1922h0M1880 1845h0M1863 1815h0M1764 1771h0M1762 1901h0M1922 1820h0M1854 1821h0M1933 1817h0M1805 1806h0M1902 1870h0M1810 1749h0M1905 1642h0M1888 1854h0M1773 1832h0M1887 1875h0M1886 1767h0M1766 1776h0M1840 1920h0M1810 1819h0M1934 1876h0M1922 1924h0M1823 1816h0M1892 1890h0M1901 1865h0M1765 1766h0M1762 1895h0M1903 1863h0M1917 1830h0M1845 1809h0M1805 1921h0M1762 1854h0M1822 1812h0M1908 1803h0M1844 1922h0M1893 1859h0M1843 1807h0M1801 1866h0M1822 1693h0M1907 1924h0M1762 1881h0M1808 1816h0M1901 1776h0M1934 1909h0M1910 1757h0M1909 1924h0M1851 1648h0M1803 1805h0M1932 1796h0M1886 1845h0M1810 1855h0M1820 1851h0M1843 1693h0M1847 1789h0M1836 1777h0M1763 1863h0M1767 1733h0M1886 1924h0M1934 1920h0M1904 1818h0M1763 1595h0M1901 1923h0M1903 1771h0M1864 1826h0M1783 1817h0M1847 1777h0M1811 1791h0M1888 1874h0M1884 1843h0M1810 1816h0M1865 1645h0M1934 1919h0M1865 1799h0M1897 1850h0M1821 1924h0M1762 1879h0M1861 1923h0M1848 1924h0M1884 1924h0M1864 1832h0M1775 1830h0M1764 1807h0M1878 1828h0M1782 1872h0M1763 1857h0M1876 1924h0M1863 1802h0M1781 1840h0M1770 1821h0M1864 1849h0M1791 1839h0M1931 1842h0M1924 1789h0M1787 1860h0M1891 1848h0M1800 1852h0M1762 1916h0M1762 1609h0M1762 1867h0M1766 1773h0M1762 1919h0M1834 1849h0M1895 1760h0M1846 1924h0M1933 1797h0M1897 1924h0M1817 1778h0M1888 1837h0M1911 1762h0M1818 1687h0M1879 1794h0M1823 1779h0M1762 1913h0M1817 1781h0M1852 1761h0M1773 1922h0M1766 1725h0M1885 1808h0M1912 1753h0M1811 1924h0M1908 1825h0M1799 1837h0M1856 1811h0M1880 1924h0M1795 1823h0M1796 1835h0M1870 1804h0M1841 1809h0M1901 1810h0M1904 1771h0M1812 1754h0M1806 1801h0M1852 1809h0M1816 1924h0M1780 1855h0M1867 1819h0M1764 1803h0M1814 1924h0M1920 1810h0M1823 1845h0M1859 1833h0M1842 1742h0M1901 1843h0M1763 1825h0M1812 1774h0M1853 1790h0M1766 1811h0M1858 1923h0M1811 1756h0M1885 1775h0M1807 1923h0M1934 1908h0M1817 1770h0M1820 1781h0M1894 1866h0M1863 1687h0M1888 1886h0M1763 1796h0M1895 1889h0M1762 1909h0M1835 1922h0M1762 1883h0M1811 1770h0M1843 1740h0M1914 1754h0M1832 1845h0M1768 1736h0M1840 1922h0M1932 1880h0M1816 1719h0M1897 1886h0M1772 1793h0M1934 1893h0M1780 1771h0M1901 1924h0M1903 1784h0M1852 1856h0M1844 1737h0M1867 1817h0M1908 1812h0M1928 1781h0M1841 1924h0M1842 1803h0M1901 1743h0M1777 1802h0M1852 1844h0M1847 1798h0M1807 1855h0M1915 1789h0M1934 1887h0M1864 1784h0M1851 1854h0M1871 1825h0M1829 1837h0M1842 1824h0M1911 1924h0M1843 1681h0M1930 1778h0M1821 1722h0M1811 1717h0M1811 1777h0M1920 1777h0M1814 1729h0M1916 1795h0M1933 1845h0M1904 1757h0M1893 1840h0M1902 1874h0M1902 1875h0M1926 1807h0M1786 1757h0M1877 1823h0M1836 1783h0M1819 1782h0M1795 1802h0M1805 1824h0M1933 1903h0M1903 1790h0M1877 1816h0M1881 1731h0M1901 1742h0M1774 1803h0M1878 1924h0M1910 1781h0M1824 1789h0M1785 1783h0M1882 1757h0M1930 1699h0M1928 1924h0M1934 1846h0M1800 1815h0M1783 1849h0M1786 1788h0M1934 1859h0M1934 1924h0M1917 1794h0M1770 1810h0M1934 1881h0M1767 1748h0M1767 1791h0M1916 1751h0M1823 1817h0M1918 1752h0M1827 1798h0M1875 1777h0M1929 1924h0M1820 1924h0M1880 1810h0M1813 1747h0M1841 1737h0M1779 1924h0M1834 1822h0M1763 1860h0M1817 1848h0M1772 1774h0M1780 1816h0M1840 1686h0M1762 1740h0M1934 1847h0M1878 1820h0M1924 1798h0M1875 1782h0M1876 1788h0M1808 1850h0M1817 1764h0M1810 1794h0M1863 1795h0M1769 1725h0M1810 1759h0M1853 1774h0M1866 1923h0M1886 1760h0M1931 1778h0M1934 1907h0M1762 1805h0M1921 1924h0M1903 1677h0M1880 1809h0M1929 1774h0M1912 1738h0M1927 1825h0M1843 1811h0M1884 1830h0M1883 1814h0M1892 1831h0M1813 1733h0M1934 1862h0M1877 1754h0M1855 1769h0M1904 1721h0M1934 1833h0M1904 1924h0M1762 1779h0M1801 1920h0M1842 1699h0M1819 1738h0M1795 1800h0M1762 1860h0M1773 1924h0M1922 1692h0M1784 1803h0M1787 1813h0M1899 1924h0M1927 1704h0M1793 1849h0M2280 1224h0M2279 1293h0M2285 1357h0M2285 1376h0M2249 1459h0M2249 1462h0M2244 1502h0M2279 1499h0M2298 1492h0M2285 1540h0M2270 1573h0M2294 1573h0M2280 1594h0M2298 1610h0M2284 1636h0M2274 1646h0M2298 1660h0M2164 1524h0M2170 1568h0M2156 1615h0M2150 1623h0M2174 1620h0M2189 1636h0M2169 1656h0M2174 1656h0M2155 1691h0M2172 1682h0M2188 1685h0M2188 1691h0M2173 1702h0M2155 1723h0M2172 1724h0M2186 1714h0M2192 1718h0M2227 1660h0M2249 1675h0M2266 1684h0M2250 1697h0M2266 1695h0M2248 1716h0M2267 1732h0M2282 1678h0M2296 1695h0M2299 1700h0M2150 1761h0M2155 1775h0M2234 1761h0M2227 1771h0M2170 1880h0M2295 1877h0M2165 1915h0M2180 1857h0M2183 1867h0M2151 1884h0M2287 1836h0M2282 1892h0M2286 1881h0M2191 1919h0M2154 1889h0M2296 1875h0M2190 1822h0M2167 1919h0M2286 1816h0M2157 1923h0M2289 1916h0M2161 1890h0M2290 1756h0M2255 1916h0M2192 1848h0M2270 1900h0M2156 1915h0M2191 1879h0M2176 1900h0M2154 1797h0M2249 1919h0M2286 1899h0M2171 1878h0M2244 1863h0M2271 1900h0M2290 1910h0M2292 1818h0M2183 1921h0M2169 1898h0M2271 1903h0M2297 1911h0M2152 1880h0M2160 1897h0M2171 1909h0M2267 1907h0M2288 1887h0M2295 1905h0M2153 1892h0M2278 1902h0M2276 1920h0M2190 1878h0M2277 1921h0M2178 1919h0M2186 1912h0M2180 1899h0M2278 1859h0M2266 1901h0M2169 1907h0M2177 1923h0M2285 1912h0M2265 1902h0M2154 1917h0M2291 1702h0M2295 1865h0M2160 1883h0M2280 1878h0M2228 1908h0M2253 1903h0M2175 1847h0M2188 1901h0M2275 1895h0M2290 1900h0M2193 1916h0M2155 1872h0M2296 1921h0M2261 1877h0M2261 1887h0M2157 1842h0M2268 1874h0M2258 1868h0M2182 1891h0M2280 1916h0M2155 1907h0M2151 1889h0M2235 1914h0M2184 1907h0M2290 1849h0M2178 1858h0M2230 1878h0M2190 1839h0M2170 1923h0M2192 1814h0M2296 1923h0M2301 1836h0M2293 1885h0M2250 1859h0M2171 1874h0M2189 1869h0M2270 1815h0M2173 1910h0M2174 1924h0M2153 1911h0M2232 1901h0M2298 1893h0M2294 1872h0M2158 1923h0M2279 1876h0M2262 1885h0M2163 1869h0M2277 1775h0M2281 1883h0M2150 1814h0M2263 1899h0M2296 1880h0M2230 1908h0M2267 1888h0M2162 1854h0M2153 1924h0M2171 1866h0M2150 1808h0M2275 1891h0M2298 1921h0M2298 1914h0M2297 1910h0M2264 1907h0M2174 1891h0M2177 1845h0M2280 1911h0M2302 1853h0M2150 1830h0M2155 1780h0M2176 1890h0M2177 1924h0M2169 1865h0M2175 1874h0M2287 1811h0M2150 1866h0M2154 1898h0M2294 1861h0M2151 1924h0M2150 1910h0M2279 1922h0M2171 1858h0M2157 1902h0M2268 1923h0M2265 1913h0M2296 1897h0M2271 1878h0M2289 1837h0M2292 1820h0M2158 1924h0M2291 1791h0M2292 1865h0M2183 1826h0M2192 1865h0M2168 1923h0M2259 1800h0M2151 1905h0M2280 1923h0M2277 1911h0M2193 1830h0M2181 1869h0M2266 1838h0M2192 1856h0M2173 1924h0M2192 1878h0M2187 1788h0M2296 1901h0M2151 1902h0M2300 1909h0M2296 1861h0M2185 1873h0M2179 1891h0M2178 1736h0M2175 1888h0M2172 1879h0M2192 1907h0M2292 1816h0M2274 1777h0M2185 1877h0M2150 1738h0M2165 1844h0M2294 1859h0M2279 1717h0M2187 1795h0M2256 1877h0M2182 1894h0M2228 1915h0M2299 1878h0M2153 1763h0M2189 1897h0M2278 1924h0M2234 1903h0M2264 1859h0M2295 1866h0M2297 1892h0M2298 1816h0M2271 1876h0M2231 1915h0M2257 1903h0M2300 1831h0M2156 1924h0M2169 1844h0M2254 1848h0M2151 1851h0M2260 1821h0M2183 1886h0M2298 1919h0M2173 1827h0M2243 1856h0M2152 1654h0M2190 1856h0M2289 1830h0M2287 1872h0M2227 1896h0M2181 1850h0M2294 1857h0M2151 1830h0M2169 1813h0M2150 1923h0M2266 1832h0M2299 1770h0M2225 1909h0M2283 1874h0M2186 1821h0M2151 1899h0M2189 1891h0M2250 1886h0M2250 1915h0M2255 1689h0M2297 1801h0M2243 1816h0M2264 1851h0M2151 1762h0M2281 1833h0M2291 1844h0M2238 1816h0M2252 1918h0M2159 1924h0M2245 1855h0M2230 1889h0M2233 1857h0M2243 1846h0M2192 1896h0M2296 1865h0M2156 1853h0M2235 1919h0M2150 1912h0M2183 1840h0M2287 1830h0M2189 1812h0M2247 1909h0M2293 1822h0M2159 1864h0M2253 1779h0M2266 1855h0M2275 1862h0M2279 1856h0M2297 1788h0M2292 1733h0M2150 1913h0M2300 1787h0M2275 1924h0M2280 1688h0M2301 1908h0M2278 1873h0M2234 1905h0M2172 1841h0M2247 1919h0M2268 1838h0M2298 1888h0M2235 1798h0M2191 1888h0M2175 1793h0M2229 1832h0M2150 1861h0M2264 1922h0M2242 1891h0M2192 1918h0M2152 1827h0M2172 1826h0M2257 1853h0M2192 1816h0M2280 1868h0M2275 1839h0M2230 1923h0M2243 1787h0M2150 1803h0M2188 1790h0M2288 1860h0M2241 1890h0M2278 1788h0M2179 1731h0M2192 1872h0M2190 1803h0M2191 1861h0M2170 1806h0M2156 1731h0M2297 1899h0M2295 1839h0M2233 1861h0M2271 1872h0M2270 1867h0M2170 1760h0M2152 1869h0M2231 1924h0M2297 1800h0M2297 1876h0M2193 1900h0M2159 1814h0M2173 1835h0M2301 1888h0M2256 1874h0M2274 1778h0M2150 1924h0M2171 1836h0M2232 1869h0M2242 1904h0M2267 1844h0M2274 1740h0M2150 1872h0M2236 1780h0M2193 1915h0M2298 1917h0M2190 1924h0M2295 1850h0M2161 1782h0M2270 1852h0M2193 1870h0M2225 1811h0M2236 1879h0M2269 1924h0M2278 1729h0M2189 1776h0M2249 1868h0M2171 1784h0M2150 1815h0M2237 1890h0M2294 1805h0M2293 1782h0M2193 1902h0M2300 1904h0M2152 1727h0M2192 1919h0M2276 1816h0M2183 1835h0M2289 1918h0M2190 1730h0M2293 1778h0M2176 1672h0M2150 1819h0M2245 1876h0M2299 1892h0M2248 1842h0M2236 1799h0M2279 1826h0M2158 1817h0M2274 1828h0M2294 1757h0M2290 1922h0M2245 1901h0M2193 1897h0M2261 1899h0M2193 1867h0M2297 1841h0M2190 1772h0M2178 1823h0M2299 1900h0M2150 1857h0M2177 1751h0M2260 1897h0M2192 1854h0M2238 1879h0M2242 1852h0M2266 1843h0M2296 1870h0M2193 1871h0M2172 1684h0M2230 1824h0M2266 1923h0M2187 1766h0M2296 1924h0M2270 1850h0M2257 1790h0M2170 1924h0M2193 1918h0M2261 1846h0M2301 1809h0M2193 1825h0M2287 1848h0M2152 1746h0M2287 1766h0M2275 1854h0M2150 1864h0M2291 1670h0M2150 1868h0M2299 1921h0M2150 1901h0M2289 1793h0M2302 1897h0M2297 1825h0M2289 1839h0M2265 1923h0M2260 1844h0M2232 1866h0M2293 1805h0M2169 1797h0M2178 1924h0M2281 1783h0M2193 1864h0M2192 1847h0M2168 1807h0M2150 1907h0M2242 1849h0M2177 1776h0M2275 1784h0M2170 1830h0M2150 1884h0M2231 1859h0M2163 1794h0M2291 1769h0M2192 1719h0M2150 1875h0M2298 1869h0M2225 1906h0M2225 1912h0M2183 1812h0M2298 1825h0M2193 1847h0M2289 1663h0M2299 1882h0M2242 1864h0M2193 1889h0M2281 1923h0M2299 1804h0M2229 1779h0M2286 1805h0M2282 1764h0M2176 1743h0M2173 1823h0M2153 1844h0M2300 1860h0M2180 1720h0M2151 1718h0M2229 1919h0M2229 1923h0M2150 1914h0M2175 1753h0M2179 1735h0M2155 1751h0M2245 1838h0M2285 1843h0M2192 1861h0M2232 1923h0M2227 1770h0M2154 1830h0M2299 1915h0M2299 1756h0M2150 1846h0M2230 1845h0M2280 1841h0M2239 1921h0M2193 1817h0M2253 1744h0M2302 1912h0M2302 1870h0M2287 1700h0M2158 1824h0M2275 1792h0M2191 1776h0M2297 1843h0M2150 1825h0M2302 1908h0M2301 1924h0M2191 1652h0M2193 1896h0M2301 1857h0M2262 1924h0M2278 1773h0M2244 1779h0M2242 1844h0M2302 1846h0M2150 1918h0M2173 1819h0M2280 1751h0M2172 1799h0M2174 1715h0M2193 1816h0M2227 1916h0M2163 1842h0M2186 1761h0M2180 1717h0M2263 1822h0M2158 1680h0M2279 1813h0M2274 1722h0M2300 1769h0M2275 1668h0M2170 1815h0M2298 1801h0M2161 1817h0M2161 1838h0M2150 1754h0M2244 1785h0M2193 1911h0M2298 1789h0M2231 1869h0M2507 1158h0M2507 1225h0M2584 1467h0M2506 1479h0M2506 1491h0M2506 1499h0M2506 1508h0M2506 1520h0M2506 1528h0M2506 1543h0M2506 1560h0M2636 1510h0M2646 1537h0M2555 1550h0M2571 1554h0M2584 1569h0M2636 1568h0M2568 1585h0M2572 1592h0M2568 1601h0M2524 1599h0M2555 1610h0M2599 1604h0M2616 1604h0M2615 1610h0M2646 1623h0M2514 1618h0M2511 1627h0M2527 1620h0M2506 1639h0M2530 1640h0M2518 1647h0M2573 1618h0M2573 1633h0M2579 1630h0M2573 1642h0M2617 1634h0M2553 1655h0M2643 1666h0M2575 1656h0M2569 1669h0M2587 1666h0M2583 1675h0M2609 1679h0M2511 1659h0M2505 1666h0M2553 1721h0M2630 1705h0M2652 1733h0M2625 1923h0M2575 1887h0M2553 1905h0M2511 1913h0M2530 1750h0M2574 1829h0M2601 1892h0M2568 1878h0M2637 1921h0M2515 1888h0M2630 1902h0M2579 1839h0M2575 1815h0M2652 1901h0M2520 1845h0M2525 1898h0M2652 1882h0M2535 1742h0M2615 1908h0M2578 1903h0M2587 1878h0M2578 1891h0M2529 1878h0M2622 1907h0M2621 1920h0M2512 1882h0M2628 1908h0M2575 1814h0M2603 1874h0M2508 1910h0M2573 1882h0M2572 1919h0M2580 1904h0M2623 1923h0M2523 1859h0M2586 1900h0M2591 1916h0M2587 1909h0M2621 1794h0M2594 1868h0M2607 1880h0M2610 1863h0M2615 1904h0M2526 1902h0M2602 1898h0M2624 1894h0M2607 1921h0M2555 1921h0M2552 1916h0M2557 1883h0M2514 1924h0M2583 1919h0M2652 1907h0M2586 1882h0M2599 1778h0M2607 1893h0M2616 1911h0M2595 1849h0M2644 1922h0M2531 1920h0M2578 1869h0M2592 1861h0M2576 1793h0M2574 1814h0M2510 1907h0M2586 1905h0M2648 1915h0M2581 1910h0M2550 1892h0M2581 1851h0M2510 1879h0M2600 1833h0M2550 1847h0M2508 1901h0M2575 1912h0M2566 1914h0M2598 1921h0M2577 1907h0M2648 1900h0M2567 1834h0M2593 1902h0M2526 1906h0M2589 1908h0M2551 1902h0M2576 1905h0M2630 1921h0M2609 1873h0M2616 1871h0M2568 1920h0M2523 1887h0M2586 1897h0M2645 1862h0M2568 1879h0M2651 1879h0M2575 1881h0M2568 1834h0M2651 1872h0M2506 1834h0M2633 1897h0M2580 1922h0M2566 1824h0M2511 1903h0M2509 1829h0M2516 1886h0M2594 1863h0M2652 1914h0M2632 1901h0M2519 1850h0M2523 1872h0M2509 1914h0M2611 1884h0M2525 1884h0M2648 1920h0M2515 1862h0M2625 1881h0M2580 1721h0M2615 1881h0M2522 1871h0M2588 1897h0M2573 1862h0M2650 1757h0M2542 1905h0M2634 1916h0M2579 1781h0M2530 1908h0M2566 1908h0M2572 1848h0M2516 1924h0M2650 1900h0M2521 1893h0M2590 1916h0M2621 1885h0M2588 1922h0M2524 1897h0M2553 1922h0M2514 1884h0M2529 1914h0M2527 1908h0M2567 1785h0M2636 1869h0M2600 1846h0M2532 1916h0M2589 1775h0M2512 1888h0M2625 1874h0M2591 1922h0M2509 1920h0M2570 1796h0M2562 1822h0M2552 1923h0M2630 1909h0M2588 1848h0M2527 1912h0M2612 1896h0M2619 1862h0M2569 1771h0M2603 1857h0M2647 1913h0M2531 1821h0M2567 1823h0M2570 1877h0M2516 1910h0M2604 1908h0M2596 1707h0M2559 1915h0M2606 1885h0M2605 1872h0M2636 1887h0M2633 1923h0M2526 1923h0M2520 1769h0M2573 1924h0M2574 1841h0M2594 1907h0M2568 1841h0M2514 1890h0M2523 1862h0M2579 1869h0M2641 1856h0M2590 1876h0M2649 1859h0M2514 1895h0M2525 1879h0M2593 1803h0M2640 1909h0M2587 1870h0M2529 1808h0M2581 1774h0M2627 1886h0M2632 1876h0M2514 1873h0M2537 1898h0M2574 1828h0M2579 1892h0M2575 1871h0M2652 1904h0M2612 1917h0M2586 1886h0M2517 1791h0M2634 1843h0M2527 1913h0M2588 1794h0M2612 1918h0M2523 1921h0M2600 1917h0M2512 1809h0M2583 1851h0M2569 1818h0M2620 1865h0M2579 1851h0M2568 1921h0M2579 1852h0M2528 1896h0M2598 1881h0M2521 1845h0M2650 1919h0M2513 1874h0M2568 1852h0M2574 1924h0M2522 1850h0M2552 1919h0M2650 1884h0M2573 1696h0M2573 1907h0M2633 1804h0M2545 1917h0M2612 1845h0M2522 1900h0M2588 1808h0M2572 1763h0M2507 1867h0M2529 1812h0M2574 1897h0M2568 1753h0M2622 1924h0M2635 1841h0M2524 1923h0M2575 1859h0M2575 1775h0M2512 1811h0M2640 1905h0M2584 1837h0M2652 1893h0M2576 1862h0M2622 1860h0M2566 1860h0M2587 1922h0M2520 1833h0M2643 1849h0M2560 1849h0M2638 1880h0M2565 1806h0M2522 1836h0M2569 1795h0M2527 1810h0M2536 1882h0M2508 1896h0M2603 1845h0M2576 1791h0M2559 1858h0M2563 1804h0M2575 1870h0M2560 1919h0M2607 1897h0M2555 1874h0M2536 1897h0M2510 1838h0M2571 1895h0M2517 1924h0M2586 1714h0M2592 1922h0M2640 1849h0M2652 1756h0M2537 1883h0M2521 1805h0M2561 1869h0M2624 1841h0M2603 1868h0M2532 1894h0M2586 1887h0M2522 1835h0M2572 1887h0M2614 1839h0M2531 1922h0M2615 1922h0M2600 1843h0M2616 1859h0M2614 1922h0M2600 1821h0M2551 1849h0M2590 1723h0M2553 1924h0M2550 1883h0M2575 1795h0M2517 1820h0M2543 1820h0M2593 1711h0M2649 1877h0M2636 1829h0M2550 1885h0M2595 1923h0M2570 1889h0M2600 1883h0M2650 1832h0M2626 1862h0M2560 1824h0M2644 1840h0M2568 1905h0M2594 1892h0M2561 1846h0M2578 1864h0M2581 1864h0M2617 1823h0M2580 1855h0M2540 1876h0M2602 1673h0M2552 1900h0M2519 1800h0M2631 1923h0M2547 1845h0M2563 1828h0M2621 1924h0M2594 1747h0M2605 1921h0M2604 1832h0M2633 1894h0M2641 1810h0M2648 1921h0M2647 1826h0M2585 1762h0M2573 1717h0M2642 1924h0M2649 1898h0M2518 1924h0M2533 1922h0M2576 1731h0M2641 1896h0M2593 1804h0M2590 1769h0M2547 1904h0M2630 1860h0M2639 1880h0M2546 1921h0M2537 1913h0M2571 1897h0M2517 1848h0M2541 1877h0M2508 1906h0M2527 1801h0M2629 1855h0M2522 1869h0M2555 1886h0M2566 1769h0M2579 1923h0M2563 1793h0M2519 1761h0M2602 1923h0M2601 1720h0M2562 1905h0M2644 1866h0M2510 1769h0M2603 1923h0M2541 1891h0M2553 1836h0M2598 1730h0M2508 1864h0M2537 1839h0M2583 1753h0M2522 1793h0M2510 1893h0M2560 1905h0M2592 1809h0M2576 1817h0M2534 1797h0M2589 1627h0M2629 1828h0M2652 1679h0M2589 1825h0M2613 1922h0M2636 1890h0M2594 1923h0M2639 1887h0M2588 1786h0M2597 1834h0M2573 1813h0M2532 1744h0M2550 1843h0M2522 1811h0M2651 1825h0M2647 1831h0M2545 1875h0M2570 1884h0M2652 1915h0M2562 1922h0M2510 1890h0M2531 1800h0M2543 1874h0M2626 1924h0M2550 1835h0M2511 1697h0M2511 1860h0M2566 1833h0M2602 1786h0M2523 1924h0M2520 1784h0M2586 1811h0M2652 1912h0M2652 1916h0M2651 1857h0M2557 1901h0M2613 1823h0M2602 1787h0M2585 1827h0M2591 1923h0M2602 1723h0M2587 1842h0M2572 1767h0M2567 1782h0M2594 1794h0M2561 1865h0M2552 1802h0M2571 1732h0M2508 1920h0M2606 1813h0M2624 1721h0M2632 1852h0M2561 1922h0M2592 1597h0M2546 1869h0M2603 1815h0M2626 1660h0M2532 1817h0M2552 1806h0M2529 1867h0M2576 1715h0M2600 1739h0M2652 1895h0M2579 1819h0M2614 1923h0M2569 1900h0M2605 1853h0M2585 1923h0M2569 1888h0M2570 1893h0M2605 1807h0M2635 1781h0M2578 1692h0M2554 1868h0M2568 1754h0M2599 1662h0M2613 1924h0M2650 1842h0M2583 1733h0M2530 1832h0M2533 1778h0M2548 1865h0M2530 1759h0M2534 1792h0M2508 1888h0M2615 1808h0M2589 1623h0M2612 1847h0M2629 1810h0M2634 1808h0M2506 1851h0M2526 1859h0M2604 1784h0M2644 1879h0M2569 1714h0M2522 1833h0M2651 1858h0M2520 1819h0M2614 1816h0M2524 1845h0M2548 1832h0M2648 1814h0M2614 1851h0M2551 1795h0M2575 1924h0M2556 1889h0M2589 1661h0M2567 1837h0M2529 1848h0M2649 1839h0M2589 1684h0M2561 1822h0M2651 1833h0M2538 1868h0M2576 1802h0M2520 1924h0M2507 1800h0M2599 1784h0M2508 1909h0M2560 1804h0M2563 1811h0M2567 1922h0M2563 1900h0M2532 1765h0M2630 1842h0M2509 1880h0M2630 1743h0M2508 1889h0M2512 1799h0M2519 1825h0M2521 1759h0M2607 1922h0M2562 1811h0M2594 1821h0M2626 1715h0M2630 1823h0M2650 1848h0M2588 1762h0M2569 1923h0M2623 1774h0M2614 1813h0M2529 1828h0M2579 1739h0M2582 1803h0M2652 1888h0M2623 1924h0M2568 1777h0M2510 1795h0M2616 1788h0M2545 1780h0M2508 1887h0M2511 1873h0M2600 1827h0M2532 1822h0M2567 1702h0M2571 1726h0M2561 1794h0M2551 1829h0M2610 1923h0M2627 1688h0M2568 1747h0M2652 1834h0M2595 1924h0M2632 1845h0M2549 1923h0M2610 1924h0M2651 1837h0M2610 1798h0M2614 1807h0M2571 1741h0M2535 1761h0M2637 1924h0M2566 1674h0M2650 1923h0M2589 1923h0M2560 1823h0M2632 1924h0M2604 1923h0M2618 1845h0M2525 1856h0M2577 1700h0M2514 1814h0M2595 1806h0M2550 1714h0M2652 1781h0M2652 1921h0M2510 1824h0M2506 1841h0M2552 1823h0M2590 1668h0M2535 1770h0M2531 1923h0M2637 1809h0M2640 1799h0M2626 1830h0M2633 1924h0M2551 1814h0M2614 1804h0M2511 1857h0M2547 1720h0M2518 1727h0M2652 1751h0M2522 1778h0M2628 1851h0M2520 1785h0M2646 1794h0M2603 1804h0M2539 1919h0M2629 1924h0M2605 1923h0M2652 1920h0M2601 1799h0M2643 1783h0M2593 1924h0M2553 1741h0M2622 1823h0M2613 1824h0M2624 1757h0M2568 1755h0M2549 1924h0M2549 1816h0M2593 1741h0M2627 1800h0M2506 1894h0M2507 1874h0M2574 1711h0M2529 1807h0M2628 1819h0M2507 1912h0M2626 1832h0M2898 1440h0M2898 1470h0M2898 1475h0M2898 1507h0M2892 1536h0M2902 1560h0M2880 1588h0M2894 1597h0M2902 1597h0M2881 1614h0M2894 1614h0M2970 1568h0M2970 1614h0M2957 1636h0M2961 1642h0M2935 1644h0M2896 1656h0M2892 1666h0M2894 1673h0M2926 1671h0M2937 1671h0M2937 1689h0M2956 1689h0M2881 1704h0M2889 1710h0M2903 1704h0M2937 1714h0M2961 1713h0M2977 1713h0M2877 1732h0M2896 1724h0M2906 1729h0M2926 1736h0M2919 1747h0M2952 1736h0M2963 1733h0M2977 1730h0M2957 1752h0M2933 1772h0M2926 1788h0M2945 1795h0M2974 1907h0M2883 1711h0M2916 1903h0M2938 1888h0M2968 1906h0M2885 1848h0M2970 1917h0M2949 1922h0M2885 1915h0M2888 1911h0M2967 1887h0M2917 1903h0M2951 1832h0M2951 1891h0M2978 1755h0M2971 1742h0M2893 1865h0M2976 1921h0M2893 1905h0M2885 1847h0M2959 1919h0M2978 1891h0M2894 1901h0M2878 1847h0M2972 1806h0M2952 1900h0M2956 1901h0M2887 1899h0M2920 1833h0M2877 1890h0M2895 1913h0M2894 1909h0M2893 1895h0M2969 1748h0M2966 1810h0M2881 1829h0M2958 1899h0M2950 1923h0M2890 1809h0M2973 1844h0M2885 1841h0M2950 1914h0M2908 1864h0M2886 1920h0M2961 1812h0M2882 1859h0M2958 1905h0M2967 1917h0M2896 1915h0M2896 1904h0M2913 1901h0M2934 1830h0M2876 1753h0M2959 1846h0M2952 1815h0M2951 1750h0M2919 1857h0M2969 1891h0M2903 1791h0M2897 1875h0M2972 1874h0M2912 1879h0M2917 1901h0M2885 1919h0M2882 1699h0M2883 1844h0M2905 1874h0M2964 1923h0M2952 1822h0M2880 1896h0M2894 1860h0M2886 1923h0M2881 1760h0M2888 1893h0M2905 1807h0M2888 1886h0M2948 1837h0M2937 1851h0M2879 1895h0M2977 1902h0M2885 1781h0M2939 1916h0M2916 1891h0M2954 1896h0M2953 1883h0M2965 1924h0M2918 1896h0M2916 1873h0M2904 1735h0M2885 1838h0M2921 1786h0M2887 1908h0M2916 1893h0M2955 1884h0M2903 1920h0M2946 1919h0M2960 1879h0M2938 1883h0M2915 1907h0M2908 1723h0M2893 1918h0M2978 1903h0M2959 1804h0M2908 1732h0M2889 1889h0M2941 1890h0M2970 1894h0M2896 1902h0M2954 1922h0M2885 1917h0M2894 1894h0M2976 1823h0M2885 1889h0M2883 1889h0M2885 1871h0M2977 1913h0M2892 1884h0M2965 1899h0M2889 1922h0M2961 1910h0M2910 1889h0M2936 1892h0M2878 1873h0M2954 1793h0M2977 1789h0M2962 1759h0M2954 1909h0M2920 1916h0M2970 1803h0M2940 1859h0M2957 1874h0M2886 1910h0M2883 1900h0M2963 1797h0M2919 1803h0M2968 1877h0M2883 1798h0M2953 1904h0M2978 1870h0M2886 1875h0M2901 1894h0M2962 1819h0M2974 1922h0M2973 1922h0M2962 1834h0M2887 1690h0M2887 1638h0M2919 1882h0M2903 1918h0M2950 1903h0M2919 1907h0M2941 1905h0M2978 1869h0M2963 1851h0M2884 1906h0M2955 1811h0M2915 1816h0M2904 1881h0M2920 1874h0M2917 1859h0M2899 1880h0M2974 1868h0M2936 1842h0M2883 1800h0M2905 1710h0M2949 1843h0M2964 1865h0M2948 1923h0M2922 1864h0M2957 1855h0M2922 1919h0M2951 1900h0M2881 1902h0M2885 1914h0M2923 1914h0M2947 1832h0M2970 1922h0M2916 1908h0M2978 1762h0M2905 1704h0M2918 1904h0M2973 1924h0M2971 1754h0M2933 1845h0M2978 1913h0M2879 1923h0M2910 1913h0M2921 1842h0M2918 1924h0M2978 1907h0M2939 1906h0M2888 1861h0M2881 1910h0M2978 1915h0M2976 1896h0M2893 1805h0M2885 1924h0M2894 1919h0M2912 1914h0M2879 1871h0M2956 1832h0M2921 1785h0M2905 1865h0M2921 1901h0M2884 1814h0M2880 1898h0M2917 1833h0M2967 1893h0M2972 1883h0M2977 1761h0M2898 1854h0M2974 1762h0M2928 1889h0M2919 1924h0M2947 1765h0M2960 1776h0M2961 1780h0M2875 1904h0M2878 1867h0M2953 1871h0M2968 1923h0M2903 1769h0M2877 1892h0M2890 1796h0M2955 1887h0M2910 1907h0M2928 1906h0M2907 1919h0M2949 1797h0M2959 1840h0M2953 1867h0M2886 1887h0M2878 1868h0M2958 1791h0M2919 1841h0M2875 1760h0M2896 1911h0M2910 1734h0M2947 1807h0M2939 1911h0M2944 1905h0M2900 1919h0M2884 1853h0M2882 1830h0M2898 1833h0M2942 1847h0M2882 1826h0M2942 1869h0M2969 1924h0M2878 1842h0M2972 1810h0M2923 1868h0M2881 1921h0M2914 1861h0M2906 1853h0M2880 1850h0M2939 1896h0M2978 1802h0M2893 1758h0M2922 1902h0M2882 1828h0M2879 1920h0M2965 1855h0M2888 1779h0M2882 1834h0M2965 1843h0M2876 1890h0M2964 1924h0M2929 1914h0M2953 1873h0M2965 1857h0M2905 1853h0M2977 1861h0M2904 1797h0M2932 1903h0M2895 1808h0M2907 1894h0M2884 1820h0M2978 1873h0M2953 1866h0M2930 1884h0M2880 1879h0M2920 1881h0M2905 1924h0M2923 1896h0M2975 1889h0M2954 1764h0M2915 1839h0M2904 1815h0M2978 1905h0M2903 1842h0M2875 1771h0M2925 1848h0M2917 1721h0M2973 1849h0M2956 1922h0M2904 1911h0M2958 1777h0M2915 1775h0M2919 1791h0M2879 1850h0M2923 1852h0M2915 1805h0M2940 1824h0M2939 1868h0M2959 1773h0M2917 1787h0M2975 1823h0M2894 1920h0M2955 1771h0M2940 1920h0M2970 1820h0M2963 1825h0M2900 1845h0M2887 1662h0M2891 1777h0M2891 1796h0M2892 1849h0M2977 1880h0M2881 1681h0M2972 1822h0M2923 1848h0M2920 1801h0M2884 1795h0M2975 1849h0M2961 1791h0M2962 1783h0M2938 1819h0M2879 1856h0M2976 1778h0M2875 1915h0M2903 1698h0M2919 1850h0M2978 1912h0M2971 1826h0M2946 1807h0M2921 1815h0M2919 1799h0M2916 1923h0M2877 1877h0M2899 1837h0M2978 1902h0M2939 1842h0M2938 1806h0M2939 1862h0M2918 1846h0M2978 1890h0M2877 1878h0M2949 1744h0M2953 1851h0M2954 1860h0M2961 1923h0M2955 1924h0M2959 1785h0M2942 1871h0M2955 1743h0M2918 1784h0M2890 1815h0M2952 1858h0M2895 1784h0M2912 1900h0M2934 1844h0M2972 1769h0M2882 1833h0M2953 1788h0M2894 1759h0M2924 1837h0M2938 1858h0M2918 1761h0M2878 1825h0M2978 1911h0M2901 1837h0M2975 1922h0M2885 1745h0M2950 1784h0M2949 1886h0M2885 1832h0M2942 1819h0M2888 1840h0M2893 1786h0M2875 1895h0M2901 1905h0M2966 1834h0M2977 1877h0M2883 1715h0M2938 1878h0M2956 1705h0M2876 1785h0M2970 1650h0M2978 1917h0M2886 1924h0M2924 1803h0M2900 1922h0M2881 1742h0M2886 1734h0M2960 1924h0M2977 1788h0M2955 1777h0M2977 1897h0M2935 1849h0M2970 1745h0M2878 1887h0M2947 1878h0M2899 1729h0M2884 1924h0M2883 1810h0M2904 1755h0M2950 1762h0M2882 1807h0M2905 1786h0M2892 1924h0M2877 1829h0M2908 1828h0M2880 1834h0M2948 1780h0M2926 1884h0M2915 1826h0M2876 1803h0M2879 1799h0M2963 1924h0M2883 1720h0M2894 1830h0M2885 1715h0M2937 1852h0M2978 1752h0M2978 1879h0M2908 1924h0M2970 1784h0M2941 1828h0M2921 1873h0M2978 1896h0M2876 1730h0M2956 1924h0M2923 1824h0M2885 1647h0M2904 1844h0M2895 1776h0M2950 1753h0M2937 1859h0M2886 1744h0M2877 1867h0M2905 1775h0M2906 1735h0M3233 1373h0M3233 1421h0M3233 1434h0M3204 1438h0M3204 1467h0M3204 1502h0M3233 1498h0M3226 1508h0M3226 1517h0M3233 1531h0M3195 1539h0M3232 1560h0M3232 1569h0M3232 1581h0M3232 1592h0M3232 1601h0M3232 1611h0M3232 1633h0M3232 1644h0M3259 1562h0M3204 1573h0M3204 1584h0M3195 1592h0M3204 1602h0M3177 1626h0M3195 1621h0M3195 1636h0M3204 1636h0M3213 1636h0M3259 1658h0M3257 1669h0M3259 1697h0M3197 1671h0M3210 1673h0M3226 1663h0M3229 1675h0M3226 1687h0M3231 1697h0M3231 1710h0M3181 1694h0M3193 1689h0M3195 1707h0M3212 1704h0M3231 1878h0M3255 1743h0M3198 1917h0M3247 1914h0M3216 1923h0M3212 1863h0M3249 1913h0M3195 1861h0M3214 1833h0M3212 1840h0M3237 1902h0M3260 1892h0M3254 1867h0M3230 1859h0M3216 1886h0M3218 1849h0M3260 1851h0M3247 1912h0M3206 1886h0M3234 1795h0M3195 1907h0M3209 1869h0M3197 1850h0M3251 1899h0M3224 1897h0M3201 1923h0M3212 1861h0M3223 1895h0M3250 1868h0M3241 1844h0M3204 1811h0M3232 1920h0M3202 1888h0M3249 1878h0M3253 1857h0M3240 1906h0M3199 1870h0M3253 1905h0M3228 1690h0M3243 1914h0M3255 1880h0M3231 1920h0M3250 1917h0M3233 1773h0M3243 1892h0M3237 1906h0M3205 1909h0M3234 1886h0M3229 1880h0M3240 1833h0M3195 1916h0M3209 1868h0M3225 1839h0M3198 1893h0M3203 1886h0M3232 1833h0M3236 1874h0M3208 1846h0M3202 1874h0M3231 1918h0M3235 1923h0M3208 1854h0M3233 1893h0M3216 1913h0M3197 1836h0M3244 1920h0M3255 1825h0M3204 1857h0M3218 1809h0M3257 1854h0M3225 1789h0M3256 1904h0M3227 1876h0M3208 1891h0M3252 1897h0M3181 1768h0M3254 1906h0M3216 1870h0M3207 1911h0M3255 1898h0M3254 1868h0M3255 1914h0M3199 1892h0M3248 1874h0M3233 1892h0M3258 1875h0M3215 1907h0M3232 1915h0M3256 1847h0M3211 1893h0M3205 1922h0M3195 1855h0M3259 1923h0M3217 1902h0M3234 1873h0M3255 1913h0M3235 1871h0M3181 1923h0M3190 1888h0M3210 1733h0M3217 1883h0M3235 1883h0M3259 1784h0M3237 1780h0M3208 1921h0M3203 1805h0M3259 1888h0M3260 1894h0M3248 1882h0M3239 1864h0M3249 1823h0M3239 1803h0M3225 1923h0M3208 1892h0M3206 1908h0M3198 1896h0M3199 1901h0M3254 1852h0M3260 1918h0M3220 1799h0M3234 1899h0M3189 1893h0M3227 1899h0M3261 1813h0M3251 1810h0M3207 1923h0M3247 1887h0M3184 1855h0M3259 1887h0M3196 1924h0M3188 1854h0M3231 1746h0M3258 1819h0M3225 1798h0M3231 1846h0M3249 1847h0M3221 1907h0M3252 1853h0M3213 1906h0M3234 1842h0M3261 1856h0M3201 1881h0M3181 1892h0M3221 1882h0M3242 1847h0M3225 1906h0M3225 1844h0M3202 1924h0M3214 1871h0M3222 1911h0M3245 1923h0M3203 1874h0M3218 1870h0M3228 1874h0M3214 1885h0M3196 1864h0M3248 1776h0M3248 1856h0M3256 1912h0M3254 1865h0M3201 1877h0M3260 1888h0M3231 1853h0M3209 1840h0M3239 1805h0M3196 1923h0M3227 1874h0M3224 1815h0M3241 1750h0M3251 1835h0M3209 1871h0M3254 1806h0M3214 1884h0M3259 1657h0M3258 1908h0M3233 1865h0M3181 1852h0M3227 1895h0M3181 1887h0M3196 1850h0M3182 1907h0M3205 1842h0M3209 1923h0M3257 1880h0M3228 1886h0M3199 1819h0M3204 1830h0M3258 1773h0M3184 1835h0M3208 1896h0M3246 1811h0M3247 1827h0M3261 1812h0M3208 1828h0M3254 1922h0M3230 1866h0M3196 1898h0M3176 1922h0M3243 1850h0M3244 1858h0M3258 1914h0M3248 1807h0M3239 1793h0M3199 1831h0M3260 1828h0M3227 1862h0M3220 1922h0M3220 1923h0M3224 1827h0M3260 1901h0M3209 1817h0M3261 1914h0M3175 1921h0M3200 1878h0M3178 1916h0M3197 1874h0M3233 1805h0M3212 1830h0M3198 1832h0M3258 1878h0M3219 1813h0M3203 1807h0M3243 1820h0M3201 1828h0M3237 1830h0M3251 1924h0M3183 1904h0M3208 1802h0M3218 1854h0M3260 1896h0M3244 1923h0M3234 1826h0M3204 1796h0M3256 1805h0M3259 1783h0M3260 1904h0M3259 1871h0M3248 1805h0M3193 1923h0M3258 1870h0M3260 1897h0M3182 1919h0M3213 1923h0M3259 1874h0M3240 1778h0M3178 1914h0M3256 1761h0M3191 1915h0M3209 1737h0M3261 1919h0M3256 1754h0M3175 1919h0M3229 1924h0M3197 1867h0M3204 1710h0M3240 1696h0M3261 1867h0M3175 1915h0M3247 1923h0M3245 1924h0M3234 1923h0M3256 1835h0M3231 1924h0M3175 1890h0M3213 1827h0M3201 1745h0M3256 1837h0M3207 1687h0M3254 1924h0M3196 1836h0M3203 1743h0M3261 1896h0M3210 1747h0M3261 1906h0M3194 1924h0M3181 1897h0M3256 1844h0M3218 1727h0M3199 1845h0M3236 1780h0M3198 1816h0M3221 1797h0M3261 1897h0M3180 1904h0M3249 1798h0M3261 1843h0M3249 1783h0M3203 1924h0M3210 1923h0M3222 1786h0M3258 1716h0M3219 1810h0M3215 1826h0M3182 1815h0M3222 1805h0M3201 1924h0M3261 1921h0M3206 1924h0M3198 1876h0M3199 1799h0M3182 1877h0M3197 1815h0M3193 1844h0M3238 1923h0M3236 1735h0M3197 1811h0M3216 1764h0M3183 1831h0M3182 1839h0M3233 1637h0M3261 1890h0M3198 1883h0M3245 1787h0M3261 1905h0M3260 1790h0M3253 1787h0M3182 1851h0M3253 1771h0M3200 1822h0M3260 1881h0M3246 1814h0M3180 1896h0M3260 1887h0M3182 1843h0M3221 1656h0M3257 1643h0M3253 1798h0M3241 1923h0M3256 1769h0M3218 1742h0M3198 1877h0M3239 1786h0M3210 1924h0M3175 1918h0M3240 1733h0M3227 1779h0M3176 1882h0M3209 1763h0M3196 1878h0M3229 1757h0M3194 1876h0M3259 1774h0M3216 1786h0M3209 1732h0M3213 1727h0M3175 1922h0M3240 1761h0M3240 1710h0M3260 1923h0M3221 1923h0M3182 1819h0M3199 1829h0M3219 1798h0M3183 1855h0M3200 1924h0M3221 1778h0M3259 1751h0M3178 1906h0M3209 1924h0M3229 1735h0M3233 1924h0M3261 1868h0M3182 1860h0M3261 1878h0M3261 1918h0M3239 1815h0M3212 1764h0M3251 1752h0M3195 1833h0M3192 1924h0M3201 1797h0M3261 1901h0M3228 1769h0M3260 1862h0M3261 1889h0M3175 1883h0M3236 1811h0M3237 1720h0M3259 1831h0M3211 1765h0M3253 1745h0M3196 1786h0M3259 1773h0M3219 1744h0M3182 1825h0M3179 1902h0M3229 1714h0M3236 1819h0M3243 1754h0M3254 1756h0M3220 1924h0M3224 1692h0M3181 1770h0M3177 1905h0M3240 1641h0M3257 1745h0M3180 1898h0M3175 1885h0M3261 1899h0M3239 1721h0M3210 1652h0M3185 1861h0M3238 1739h0M3192 1813h0M3257 1740h0M3175 1874h0M3236 1924h0M3208 1800h0M3248 1924h0M3200 1738h0M3236 1649h0M3181 1795h0M3255 1738h0M3254 1671h0M3250 1742h0M3260 1875h0M3188 1875h0M3230 1689h0M3206 1747h0M3175 1875h0M3257 1754h0M3208 1762h0M3221 1735h0M3258 1666h0M3209 1750h0M3210 1768h0M3261 1871h0M3181 1835h0M3261 1913h0M3176 1900h0M3207 1717h0M3256 1804h0M3176 1901h0M3206 1776h0M3248 1677h0M3231 1821h0M3195 1824h0M3260 1850h0M3175 1901h0M3251 1687h0M3199 1769h0M3175 1886h0M3175 1897h0M3257 1734h0M3241 1705h0M3254 1733h0M3221 1724h0M3175 1894h0M3256 1726h0M3259 1787h0M3447 1473h0M3449 1531h0M3498 1557h0M3420 1573h0M3420 1581h0M3449 1566h0M3461 1569h0M3463 1562h0M3463 1581h0M3463 1585h0M3437 1601h0M3499 1599h0M3420 1621h0M3436 1621h0M3447 1615h0M3453 1627h0M3448 1640h0M3467 1613h0M3467 1621h0M3467 1640h0M3481 1650h0M3495 1636h0M3495 1652h0M3494 1660h0M3422 1655h0M3414 1663h0M3422 1671h0M3424 1682h0M3414 1691h0M3422 1701h0M3447 1669h0M3447 1679h0M3447 1691h0M3445 1710h0M3448 1718h0M3465 1665h0M3462 1691h0M3467 1698h0M3463 1708h0M3481 1684h0M3481 1692h0M3495 1679h0M3494 1707h0M3502 1718h0M3431 1875h0M3421 1871h0M3416 1754h0M3416 1901h0M3483 1873h0M3430 1893h0M3416 1914h0M3433 1835h0M3432 1916h0M3430 1903h0M3467 1922h0M3420 1864h0M3415 1825h0M3474 1912h0M3476 1883h0M3498 1894h0M3435 1911h0M3490 1841h0M3417 1914h0M3428 1906h0M3420 1923h0M3491 1894h0M3431 1914h0M3430 1919h0M3435 1891h0M3431 1920h0M3427 1862h0M3417 1913h0M3416 1893h0M3493 1922h0M3416 1820h0M3487 1846h0M3437 1908h0M3428 1921h0M3437 1834h0M3460 1905h0M3436 1868h0M3432 1895h0M3433 1875h0M3463 1922h0M3439 1922h0M3436 1914h0M3437 1910h0M3418 1898h0M3436 1921h0M3419 1908h0M3466 1890h0M3440 1921h0M3473 1794h0M3435 1885h0M3418 1864h0M3467 1906h0M3458 1894h0M3415 1802h0M3432 1854h0M3443 1889h0M3486 1874h0M3475 1889h0M3435 1897h0M3504 1869h0M3417 1904h0M3474 1899h0M3433 1761h0M3474 1752h0M3433 1887h0M3465 1920h0M3416 1911h0M3430 1836h0M3430 1879h0M3432 1886h0M3469 1899h0M3429 1921h0M3467 1812h0M3444 1819h0M3431 1822h0M3423 1863h0M3495 1892h0M3457 1909h0M3417 1863h0M3419 1798h0M3487 1902h0M3415 1823h0M3418 1892h0M3419 1922h0M3421 1885h0M3416 1823h0M3495 1912h0M3435 1872h0M3467 1889h0M3496 1916h0M3453 1862h0M3415 1804h0M3472 1883h0M3432 1796h0M3416 1864h0M3415 1908h0M3437 1864h0M3463 1913h0M3468 1921h0M3485 1918h0M3416 1917h0M3490 1923h0M3471 1774h0M3415 1897h0M3434 1852h0M3420 1843h0M3450 1923h0M3484 1922h0M3485 1860h0M3485 1847h0M3449 1922h0M3416 1891h0M3425 1879h0M3490 1828h0M3457 1898h0M3433 1816h0M3434 1901h0M3442 1892h0M3435 1922h0M3451 1924h0M3452 1701h0M3454 1882h0M3488 1819h0M3487 1898h0M3495 1899h0M3427 1778h0M3416 1888h0M3434 1809h0M3482 1889h0M3415 1893h0M3460 1919h0M3478 1901h0M3484 1901h0M3430 1923h0M3470 1678h0M3431 1810h0M3489 1862h0M3486 1886h0M3468 1888h0M3423 1881h0M3457 1918h0M3434 1884h0M3486 1862h0M3441 1900h0M3447 1901h0M3459 1924h0M3475 1758h0M3417 1923h0M3433 1849h0M3435 1742h0M3504 1873h0M3455 1924h0M3473 1883h0M3495 1920h0M3418 1829h0M3427 1823h0M3475 1911h0M3416 1903h0M3428 1808h0M3416 1877h0M3487 1910h0M3434 1847h0M3489 1874h0M3444 1859h0M3497 1758h0M3435 1852h0M3440 1862h0M3496 1910h0M3487 1922h0M3480 1914h0M3432 1764h0M3450 1915h0M3444 1829h0M3422 1923h0M3475 1915h0M3491 1787h0M3431 1848h0M3447 1908h0M3432 1716h0M3492 1871h0M3455 1892h0M3431 1818h0M3438 1785h0M3417 1885h0M3436 1876h0M3434 1653h0M3478 1840h0M3433 1838h0M3491 1890h0M3449 1924h0M3430 1827h0M3426 1857h0M3432 1727h0M3433 1791h0M3433 1923h0M3477 1923h0M3430 1804h0M3426 1923h0M3434 1846h0M3429 1924h0M3437 1872h0M3472 1867h0M3449 1854h0M3415 1913h0M3428 1836h0M3503 1880h0M3428 1809h0M3495 1879h0M3417 1868h0M3504 1897h0M3470 1857h0M3497 1909h0M3474 1745h0M3427 1810h0M3435 1840h0M3480 1829h0M3415 1862h0M3497 1919h0M3504 1924h0M3436 1815h0M3490 1866h0M3474 1797h0M3441 1886h0M3445 1764h0M3483 1875h0M3430 1816h0M3435 1806h0M3496 1922h0M3435 1738h0M3460 1924h0M3436 1850h0M3428 1745h0M3456 1636h0M3496 1827h0M3453 1882h0M3416 1918h0M3451 1718h0M3415 1907h0M3416 1826h0M3498 1905h0M3418 1856h0M3417 1793h0M3436 1878h0M3430 1847h0M3419 1847h0M3475 1815h0M3455 1866h0M3434 1825h0M3502 1881h0M3466 1880h0M3416 1919h0M3438 1874h0M3452 1802h0M3415 1902h0M3415 1918h0M3415 1850h0M3468 1878h0M3503 1879h0M3417 1813h0M3483 1855h0M3417 1838h0M3438 1867h0M3429 1770h0M3415 1748h0M3436 1922h0M3415 1871h0M3416 1924h0M3437 1842h0M3416 1922h0M3472 1821h0M3416 1881h0M3433 1783h0M3453 1924h0M3433 1760h0M3461 1924h0M3456 1891h0M3427 1596h0M3417 1839h0M3472 1870h0M3487 1923h0M3485 1769h0M3455 1877h0M3415 1915h0M3417 1856h0M3483 1846h0M3436 1757h0M3467 1879h0M3429 1714h0M3417 1814h0M3501 1901h0M3415 1885h0M3493 1856h0M3484 1923h0M3444 1805h0M3497 1923h0M3441 1811h0M3449 1867h0M3472 1836h0M3455 1836h0M3415 1912h0M3438 1923h0M3497 1890h0M3415 1868h0M3454 1871h0M3503 1916h0M3491 1811h0M3471 1863h0M3439 1876h0M3454 1832h0M3452 1781h0M3494 1832h0M3502 1901h0M3502 1909h0M3416 1874h0M3503 1900h0M3489 1853h0M3445 1855h0M3504 1899h0M3494 1822h0M3429 1648h0M3470 1859h0M3437 1924h0M3480 1867h0M3489 1799h0M3430 1708h0M3473 1755h0M3429 1745h0M3479 1825h0M3490 1797h0M3435 1690h0M3502 1838h0M3430 1767h0M3415 1872h0M3501 1924h0M3463 1924h0M3451 1753h0M3489 1783h0M3465 1814h0M3489 1784h0M3502 1854h0M3487 1829h0M3502 1828h0M3427 1728h0M3475 1793h0M3500 1893h0M3415 1839h0M3432 1774h0M3472 1856h0M3435 1924h0M3417 1748h0M3504 1837h0M3415 1827h0M3443 1852h0M3504 1890h0M3496 1838h0M3445 1775h0M3415 1895h0M3425 1792h0M3432 1755h0M3474 1776h0M3503 1843h0M3486 1801h0M3487 1840h0M3416 1854h0M3415 1857h0M3471 1794h0M3453 1738h0M3472 1777h0M3418 1924h0M3433 1924h0M3415 1890h0M3471 1754h0M3432 1761h0M3445 1837h0M3424 1923h0M3415 1898h0M3469 1820h0M3415 1860h0M3417 1767h0M3443 1886h0M3442 1848h0M3468 1850h0M3436 1804h0M3485 1774h0M3415 1841h0M3418 1785h0M3415 1924h0M3415 1911h0M3475 1852h0M3431 1664h0M3435 1718h0M3435 1762h0M3432 1696h0M3417 1716h0M3462 1820h0M3453 1739h0M3504 1797h0M3498 1679h0M3415 1849h0M3443 1885h0M3468 1863h0M3492 1866h0M3415 1778h0M3471 1719h0M3415 1901h0M3415 1903h0M3503 1911h0M3444 1848h0M3443 1874h0M3504 1914h0M3445 1827h0M3487 1815h0M3473 1814h0M3487 1793h0M3469 1870h0M3439 1924h0M3417 1817h0M3449 1826h0M3476 1843h0M3444 1818h0M3503 1882h0M3415 1833h0M3437 1793h0M3496 1849h0M3415 1906h0M3487 1776h0M3444 1808h0M3473 1827h0M3457 1874h0M3435 1640h0M3418 1608h0M3417 1763h0M3468 1868h0M3449 1817h0M3416 1760h0M3448 1796h0M3417 1789h0M3451 1840h0M3476 1803h0M3445 1809h0M3502 1742h0M3446 1786h0M3503 1827h0M3432 1924h0M3415 1845h0M3472 1739h0M3415 1923h0M3415 1922h0M3437 1696h0M3433 1771h0M3461 1858h0M3473 1756h0M3436 1751h0M3476 1789h0M3470 1748h0M3432 1760h0M3415 1920h0M3504 1895h0M3461 1804h0M3415 1848h0M3461 1784h0M3415 1884h0M3415 1883h0M3473 1703h0M3495 1789h0M3417 1784h0M3502 1806h0M3416 1789h0M3451 1814h0M3496 1856h0M3415 1775h0M3496 1869h0M3466 1682h0M3468 1844h0M3458 1924h0M3504 1888h0M3483 1767h0M3476 1807h0M3474 1800h0M3450 1821h0M3415 1829h0M3494 1923h0M3415 1863h0M3476 1923h0M3429 1764h0M3484 1760h0M3471 1767h0M3504 1884h0M3449 1770h0M3483 1806h0M3415 1758h0M3469 1837h0M3495 1681h0M3429 1679h0M3429 1732h0M3491 1732h0M3415 1843h0M3415 1809h0M3470 1831h0M3500 1868h0M3427 1709h0M3504 1902h0M3415 1808h0M3415 1882h0M3415 1783h0M3476 1753h0M3452 1785h0M3502 1827h0M3415 1856h0M3453 1715h0M3499 1785h0M3415 1821h0M3460 1817h0M3431 1701h0M3460 1814h0M3429 1715h0M3427 1626h0M3431 1739h0M3415 1864h0M3415 1886h0M3490 1799h0M3418 1759h0M3427 1756h0M3421 1924h0M3471 1756h0M3663 1457h0M3663 1480h0M3658 1498h0M3664 1498h0M3659 1544h0M3664 1549h0M3663 1559h0M3658 1569h0M3663 1573h0M3660 1576h0M3668 1592h0M3664 1604h0M3657 1605h0M3706 1563h0M3643 1614h0M3643 1634h0M3643 1655h0M3687 1607h0M3686 1626h0M3684 1614h0M3706 1623h0M3696 1637h0M3707 1647h0M3707 1659h0M3707 1675h0M3682 1647h0M3686 1659h0M3682 1678h0M3698 1676h0M3654 1682h0M3652 1702h0M3680 1691h0M3696 1697h0M3704 1707h0M3707 1721h0M3643 1768h0M3647 1791h0M3643 1810h0M3666 1900h0M3668 1897h0M3668 1921h0M3698 1893h0M3703 1841h0M3661 1902h0M3699 1821h0M3677 1866h0M3685 1886h0M3692 1906h0M3664 1872h0M3707 1908h0M3649 1894h0M3661 1882h0M3666 1923h0M3685 1893h0M3697 1922h0M3666 1912h0M3677 1913h0M3699 1851h0M3667 1903h0M3675 1884h0M3661 1908h0M3707 1767h0M3676 1864h0M3707 1910h0M3663 1881h0M3655 1922h0M3653 1912h0M3658 1916h0M3695 1922h0M3671 1795h0M3694 1897h0M3659 1923h0M3702 1914h0M3678 1915h0M3693 1895h0M3689 1857h0M3659 1808h0M3660 1896h0M3652 1898h0M3667 1836h0M3704 1818h0M3659 1892h0M3679 1909h0M3700 1903h0M3662 1924h0M3693 1889h0M3650 1895h0M3670 1859h0M3674 1861h0M3682 1808h0M3673 1907h0M3704 1886h0M3674 1881h0M3658 1838h0M3680 1914h0M3707 1865h0M3687 1886h0M3651 1902h0M3690 1913h0M3684 1898h0M3662 1749h0M3666 1895h0M3698 1875h0M3675 1887h0M3693 1868h0M3671 1889h0M3662 1877h0M3681 1917h0M3687 1922h0M3674 1898h0M3675 1818h0M3664 1856h0M3681 1919h0M3671 1866h0M3677 1881h0M3656 1875h0M3707 1869h0M3687 1809h0M3659 1891h0M3677 1858h0M3671 1923h0M3676 1921h0M3677 1878h0M3655 1865h0M3675 1769h0M3687 1861h0M3674 1852h0M3681 1878h0M3658 1869h0M3697 1878h0M3661 1826h0M3661 1863h0M3672 1870h0M3685 1660h0M3670 1764h0M3701 1803h0M3655 1844h0M3696 1675h0M3686 1882h0M3656 1917h0M3679 1830h0M3690 1922h0M3683 1785h0M3697 1875h0M3655 1924h0M3707 1913h0M3705 1921h0M3645 1905h0M3672 1821h0M3662 1831h0M3703 1924h0M3680 1871h0M3661 1851h0M3676 1831h0M3660 1779h0M3675 1852h0M3690 1834h0M3672 1827h0M3679 1920h0M3684 1800h0M3659 1833h0M3667 1854h0M3698 1853h0M3686 1856h0M3689 1826h0M3653 1919h0M3674 1751h0M3647 1869h0M3692 1828h0M3678 1829h0M3666 1757h0M3693 1765h0M3658 1881h0M3700 1901h0M3697 1847h0M3673 1766h0M3698 1836h0M3663 1851h0M3683 1923h0M3660 1786h0M3690 1877h0M3696 1856h0M3706 1903h0M3686 1820h0M3691 1796h0M3699 1858h0M3675 1840h0M3682 1798h0M3650 1923h0M3677 1847h0M3659 1739h0M3660 1924h0M3697 1666h0M3662 1822h0M3696 1924h0M3667 1775h0M3687 1849h0M3691 1816h0M3662 1737h0M3681 1836h0M3655 1836h0M3700 1825h0M3677 1843h0M3658 1827h0M3656 1881h0M3707 1906h0M3696 1784h0M3699 1814h0M3691 1850h0M3664 1848h0M3682 1924h0M3651 1920h0M3658 1890h0M3662 1819h0M3670 1672h0M3706 1888h0M3661 1855h0M3688 1700h0M3662 1751h0M3659 1858h0M3647 1769h0M3700 1828h0M3676 1922h0M3649 1876h0M3687 1765h0M3695 1758h0M3679 1702h0M3675 1770h0M3653 1913h0M3663 1924h0M3664 1924h0M3705 1920h0M3669 1719h0M3707 1870h0M3706 1922h0M3676 1780h0M3659 1815h0M3698 1800h0M3706 1919h0M3678 1843h0M3687 1846h0M3704 1858h0M3664 1806h0M3673 1738h0M3696 1737h0M3654 1840h0M3698 1813h0M3658 1805h0M3692 1812h0M3663 1766h0M3685 1787h0M3655 1852h0M3691 1923h0M3663 1820h0M3692 1689h0M3707 1920h0M3695 1688h0M3702 1898h0M3653 1890h0M3694 1779h0M3650 1922h0M3674 1924h0M3676 1669h0M3705 1878h0M3686 1728h0M3707 1846h0M3707 1834h0M3687 1716h0M3703 1750h0M3672 1819h0M3696 1609h0M3650 1861h0M3678 1777h0M3675 1789h0M3678 1923h0M3662 1689h0M3660 1788h0M3683 1804h0M3672 1811h0M3705 1746h0M3703 1892h0M3669 1923h0M3704 1882h0M3664 1779h0M3665 1806h0M3659 1692h0M3652 1886h0M3691 1704h0M3664 1756h0M3699 1794h0M3671 1924h0M3676 1924h0M3705 1891h0M3666 1924h0M3707 1833h0M3669 1805h0M3699 1700h0M3660 1729h0M3703 1897h0M3654 1843h0M3707 1873h0M3698 1809h0M3670 1792h0M3707 1918h0M3669 1739h0M3685 1652h0M3679 1724h0M3650 1885h0M3685 1770h0M3656 1823h0M3695 1619h0M3689 1678h0M3679 1704h0M3654 1855h0M3663 1589h0M3704 1897h0M3706 1783h0M3649 1882h0M3690 1923h0M3686 1672h0M3654 1924h0M3673 1805h0M3661 1770h0M3647 1917h0M3645 1895h0M3707 1914h0M3672 1728h0M3705 1923h0M3706 1923h0M3651 1800h0M3707 1714h0M3659 1801h0M3706 1891h0M3677 1924h0M3666 1784h0M3652 1855h0M3654 1826h0M3660 1758h0M3659 1811h0M3685 1783h0M3706 1862h0M3687 1682h0M3667 1695h0M3662 1801h0M3694 1769h0M3689 1923h0M3696 1774h0M3707 1924h0M3705 1881h0M3685 1923h0M3688 1923h0M3655 1795h0M3674 1767h0M3704 1856h0M3654 1852h0M3701 1793h0M3653 1781h0M3698 1762h0M3670 1604h0M3677 1726h0M3655 1831h0M3703 1807h0M3652 1782h0M3679 1755h0M3644 1898h0M3661 1654h0M3707 1885h0M3704 1826h0M3692 1924h0M3645 1910h0M3652 1814h0M3670 1687h0M3646 1860h0M3705 1755h0M3700 1770h0M3707 1867h0M3707 1887h0M3687 1710h0M3662 1744h0M3707 1902h0M3656 1924h0M3705 1823h0M3654 1725h0M3687 1924h0M3690 1743h0M3687 1718h0M3657 1677h0M3703 1781h0M3707 1829h0M3707 1878h0M3679 1716h0M3687 1639h0M3658 1924h0M3685 1924h0M3673 1697h0M3707 1850h0M3696 1604h0M3660 1750h0M3681 1764h0M3701 1924h0M3707 1889h0M3707 1896h0M3702 1773h0M3674 1708h0M3648 1853h0M3653 1831h0M3644 1862h0M3651 1843h0M3670 1699h0M3707 1904h0M3707 1863h0M3661 1769h0M3707 1828h0M3649 1834h0M3694 1924h0M3707 1895h0M3707 1922h0M3700 1799h0M3706 1694h0M3659 1654h0M3707 1898h0M3686 1573h0M3680 1759h0M3699 1924h0M3704 1775h0M3668 1711h0M3676 1747h0M3700 1753h0M3694 1596h0M3677 1739h0M3707 1852h0M3668 1704h0M3682 1686h0M3693 1752h0M3653 1820h0M3651 1814h0M3705 1820h0M3704 1791h0M3659 1720h0M3707 1858h0M3648 1887h0M3707 1848h0M3705 1808h0M3659 1702h0M3694 1742h0M3704 1762h0M3650 1761h0M3668 1646h0M3707 1792h0M3707 1881h0M3668 1924h0M3648 1883h0M3646 1880h0M3693 1736h0M3658 1776h0M3689 1711h0M3707 1762h0M3660 1611h0M3699 1705h0M3681 1678h0M3652 1823h0M3707 1861h0M3647 1833h0M3669 1677h0M3688 1924h0M3698 1671h0M3684 1750h0M3663 1616h0M3689 1924h0M3707 1841h0M3704 1799h0M3663 1718h0M3707 1751h0M3678 1924h0M3698 1615h0M3664 1704h0M3689 1723h0M3707 1894h0M3690 1573h0M3680 1924h0M3646 1825h0M3646 1847h0M3644 1884h0M3655 1732h0M3707 1808h0M3707 1892h0M3705 1924h0M3654 1738h0M3668 1605h0M3668 1654h0M3645 1914h0M3688 1751h0M3706 1814h0M3645 1908h0M3698 1667h0M3697 1716h0M3698 1734h0M3706 1689h0M3678 1733h0M3707 1882h0M3644 1854h0M3661 1766h0M3707 1915h0M3695 1725h0M3671 1600h0M3660 1744h0M3648 1796h0M3658 1716h0M3644 1870h0M3659 1744h0M3689 1663h0M3695 1580h0M3644 1907h0M3707 1830h0M3707 1840h0M3645 1913h0M3658 1710h0M3870 1364h0M3870 1415h0M3855 1479h0M3870 1536h0M3880 1595h0M3880 1601h0M3848 1618h0M3849 1636h0M3867 1620h0M3870 1626h0M3863 1695h0M3879 1698h0M3871 1708h0M3880 1718h0M3848 1718h0M3850 1729h0M3862 1739h0M3876 1732h0M3880 1739h0M3871 1753h0M3847 1787h0M3866 1772h0M3862 1778h0M3865 1833h0M3865 1894h0M3866 1906h0M3861 1850h0M3868 1918h0M3859 1851h0M3858 1807h0M3860 1924h0M3861 1908h0M3861 1883h0M3858 1843h0M3875 1864h0M3880 1805h0M3850 1894h0M3859 1910h0M3866 1924h0M3865 1896h0M3868 1860h0M3850 1872h0M3856 1912h0M3850 1851h0M3864 1896h0M3851 1924h0M3870 1797h0M3852 1819h0M3870 1916h0M3855 1880h0M3858 1868h0M3858 1888h0M3869 1904h0M3867 1874h0M3857 1821h0M3864 1890h0M3857 1907h0M3872 1905h0M3871 1877h0M3857 1903h0M3868 1785h0M3870 1901h0M3865 1893h0M3862 1727h0M3861 1756h0M3867 1857h0M3853 1848h0M3863 1763h0M3871 1902h0M3858 1866h0M3869 1920h0M3850 1915h0M3871 1900h0M3868 1760h0M3854 1878h0M3849 1914h0M3849 1890h0M3867 1884h0M3853 1885h0M3855 1899h0M3858 1832h0M3861 1780h0M3869 1891h0M3871 1910h0M3850 1924h0M3867 1818h0M3874 1876h0M3873 1884h0M3851 1882h0M3870 1918h0M3874 1879h0M3866 1858h0M3848 1907h0M3867 1924h0M3863 1736h0M3850 1922h0M3868 1805h0M3875 1877h0M3862 1786h0M3868 1826h0M3874 1895h0M3864 1847h0M3858 1776h0M3850 1901h0M3848 1906h0M3863 1837h0M3858 1745h0M3883 1920h0M3876 1871h0M3864 1852h0M3873 1889h0M3851 1844h0M3849 1877h0M3881 1924h0M3881 1810h0M3868 1924h0M3875 1683h0M3855 1835h0M3850 1920h0M3868 1830h0M3861 1710h0M3860 1738h0M3874 1883h0M3848 1900h0M3867 1768h0M3872 1918h0M3851 1823h0M3858 1775h0M3848 1917h0M3849 1920h0M3873 1911h0M3848 1901h0M3849 1855h0M3876 1915h0M3874 1906h0M3853 1924h0M3862 1924h0M3854 1667h0M3858 1796h0M3865 1836h0M3854 1802h0M3848 1855h0M3859 1859h0M3861 1714h0M3859 1809h0M3848 1739h0M3850 1867h0M3878 1924h0M3867 1855h0M3860 1692h0M3849 1922h0M3871 1828h0M3869 1856h0M3875 1884h0M3857 1755h0M3848 1924h0M3860 1715h0M3873 1924h0M3864 1644h0M3848 1894h0M3875 1900h0M3851 1826h0M3878 1916h0M3875 1909h0M3849 1851h0M3862 1745h0M3868 1844h0M3848 1905h0M3863 1649h0M3855 1728h0M3859 1784h0M3850 1868h0M3865 1643h0M3883 1922h0M3870 1853h0M3850 1830h0M3848 1867h0M3882 1802h0M3881 1910h0M3856 1699h0M3867 1821h0M3880 1895h0M3848 1904h0M3878 1856h0M3848 1850h0M3865 1924h0M3852 1796h0M3850 1827h0M3869 1850h0M3859 1924h0M3877 1876h0M3882 1923h0M3849 1882h0M3868 1840h0M3857 1702h0M3879 1808h0M3864 1767h0M3853 1808h0M3880 1881h0M3849 1911h0M3871 1781h0M3848 1832h0M3876 1802h0M3858 1924h0M3862 1731h0M3859 1779h0M3864 1717h0M3850 1790h0"/><path fill="none" stroke-linecap="round" stroke-width="15" stroke="#bebebe" d="M775 1418h0M739 1449h0M789 1472h0M771 1478h0M771 1502h0M771 1510h0M771 1533h0M683 1533h0M709 1553h0M798 1557h0M662 1562h0M655 1588h0M655 1614h0M655 1631h0M655 1646h0M661 1665h0M562 1582h0M577 1591h0M562 1613h0M577 1611h0M577 1620h0M562 1634h0M577 1636h0M561 1647h0M570 1647h0M737 1607h0M771 1582h0M771 1595h0M771 1608h0M791 1617h0M786 1634h0M771 1644h0M771 1650h0M756 1662h0M761 1655h0M791 1653h0M791 1669h0M815 1665h0M691 1647h0M595 1671h0M559 1671h0M559 1681h0M559 1700h0M570 1704h0M622 1684h0M627 1689h0M622 1700h0M627 1716h0M605 1698h0M683 1685h0M691 1697h0M699 1700h0M664 1700h0M670 1697h0M737 1692h0M740 1684h0M758 1692h0M758 1702h0M758 1713h0M773 1685h0M806 1684h0M815 1684h0M815 1697h0M646 1717h0M699 1720h0M699 1734h0M577 1718h0M737 1720h0M739 1734h0M815 1723h0M815 1732h0M815 1740h0M815 1761h0M622 1714h0M695 1922h0M583 1894h0M693 1916h0M698 1897h0M698 1921h0M688 1854h0M741 1920h0M763 1902h0M794 1907h0M805 1915h0M597 1910h0M783 1906h0M737 1920h0M763 1763h0M575 1888h0M583 1868h0M795 1874h0M792 1607h0M664 1909h0M688 1910h0M651 1898h0M750 1924h0M809 1891h0M766 1812h0M790 1761h0M651 1914h0M813 1880h0M712 1895h0M641 1904h0M564 1890h0M595 1863h0M801 1909h0M789 1924h0M791 1913h0M766 1902h0M750 1914h0M603 1909h0M785 1921h0M769 1890h0M794 1656h0M772 1903h0M716 1918h0M639 1909h0M555 1859h0M599 1881h0M646 1892h0M706 1914h0M655 1781h0M778 1811h0M658 1884h0M775 1869h0M661 1896h0M565 1800h0M747 1775h0M603 1885h0M591 1869h0M674 1833h0M757 1920h0M793 1859h0M738 1887h0M746 1895h0M763 1882h0M742 1858h0M692 1902h0M652 1778h0M740 1736h0M584 1922h0M787 1847h0M793 1920h0M808 1900h0M792 1922h0M648 1905h0M816 1876h0M706 1899h0M785 1892h0M624 1924h0M665 1905h0M744 1882h0M737 1829h0M721 1758h0M557 1922h0M720 1883h0M646 1885h0M714 1890h0M656 1921h0M648 1889h0M809 1914h0M770 1890h0M784 1923h0M579 1863h0M783 1839h0M772 1896h0M681 1905h0M722 1907h0M723 1918h0M796 1924h0M570 1891h0M737 1809h0M716 1868h0M781 1812h0M644 1897h0M658 1768h0M801 1890h0M714 1882h0M608 1921h0M785 1908h0M635 1916h0M664 1916h0M800 1861h0M616 1843h0M701 1813h0M639 1876h0M647 1912h0M603 1896h0M798 1873h0M650 1892h0M798 1917h0M611 1886h0M719 1880h0M559 1863h0M689 1911h0M763 1814h0M705 1857h0M795 1907h0M697 1901h0M709 1914h0M658 1912h0M653 1922h0M624 1897h0M736 1859h0M750 1889h0M811 1910h0M714 1830h0M778 1885h0M785 1913h0M814 1883h0M696 1831h0M751 1869h0M556 1804h0M737 1774h0M688 1904h0M666 1868h0M602 1915h0M556 1919h0M754 1907h0M738 1789h0M687 1751h0M675 1912h0M732 1831h0M650 1914h0M721 1921h0M795 1830h0M785 1838h0M768 1897h0M612 1684h0M696 1895h0M620 1815h0M557 1901h0M642 1851h0M686 1827h0M810 1883h0M772 1849h0M641 1836h0M701 1832h0M765 1865h0M709 1890h0M632 1888h0M600 1780h0M790 1893h0M738 1913h0M724 1826h0M676 1850h0M653 1860h0M609 1892h0M767 1918h0M793 1870h0M772 1829h0M631 1709h0M750 1882h0M626 1899h0M773 1921h0M786 1924h0M734 1883h0M794 1853h0M805 1918h0M691 1905h0M806 1831h0M693 1893h0M631 1863h0M568 1912h0M764 1883h0M659 1795h0M768 1904h0M783 1847h0M811 1858h0M799 1868h0M789 1902h0M643 1899h0M641 1916h0M606 1807h0M701 1920h0M678 1700h0M808 1922h0M562 1913h0M760 1915h0M735 1921h0M638 1905h0M725 1874h0M689 1738h0M607 1897h0M613 1920h0M811 1881h0M800 1855h0M733 1861h0M659 1885h0M688 1902h0M806 1885h0M756 1786h0M813 1910h0M765 1923h0M789 1733h0M789 1865h0M653 1886h0M691 1923h0M697 1902h0M794 1877h0M795 1891h0M728 1909h0M776 1915h0M627 1881h0M803 1877h0M720 1901h0M757 1921h0M622 1812h0M555 1919h0M568 1882h0M688 1820h0M797 1888h0M767 1917h0M807 1896h0M783 1881h0M780 1860h0M760 1851h0M668 1912h0M720 1872h0M677 1886h0M718 1915h0M794 1900h0M639 1921h0M726 1866h0M712 1905h0M668 1916h0M702 1861h0M673 1831h0M757 1923h0M811 1888h0M782 1893h0M775 1823h0M658 1853h0M625 1828h0M787 1886h0M577 1840h0M737 1780h0M773 1855h0M629 1897h0M794 1854h0M674 1912h0M707 1915h0M804 1924h0M795 1640h0M697 1877h0M691 1885h0M754 1871h0M627 1654h0M765 1899h0M625 1919h0M709 1878h0M814 1916h0M804 1749h0M746 1899h0M691 1793h0M744 1921h0M727 1890h0M769 1835h0M685 1887h0M554 1859h0M580 1809h0M581 1872h0M731 1849h0M739 1879h0M744 1825h0M638 1922h0M652 1790h0M661 1906h0M729 1825h0M723 1924h0M624 1890h0M744 1908h0M741 1893h0M589 1794h0M614 1800h0M726 1901h0M673 1879h0M665 1923h0M722 1886h0M815 1897h0M594 1910h0M759 1865h0M786 1878h0M736 1873h0M733 1794h0M652 1843h0M776 1920h0M694 1793h0M670 1920h0M692 1916h0M771 1878h0M708 1835h0M767 1867h0M786 1825h0M566 1908h0M732 1900h0M780 1857h0M573 1787h0M748 1924h0M632 1858h0M784 1786h0M564 1903h0M665 1851h0M757 1896h0M733 1739h0M739 1878h0M643 1885h0M806 1924h0M750 1863h0M786 1872h0M697 1924h0M611 1870h0M601 1886h0M591 1870h0M622 1884h0M816 1904h0M583 1912h0M806 1817h0M660 1859h0M562 1910h0M715 1870h0M603 1902h0M642 1777h0M692 1724h0M651 1738h0M562 1833h0M640 1870h0M565 1883h0M567 1913h0M688 1921h0M689 1892h0M724 1803h0M606 1839h0M589 1853h0M599 1848h0M557 1863h0M583 1923h0M683 1900h0M721 1924h0M689 1805h0M675 1922h0M551 1797h0M629 1794h0M589 1912h0M697 1869h0M644 1859h0M650 1776h0M565 1918h0M756 1747h0M560 1882h0M697 1887h0M581 1890h0M686 1911h0M691 1856h0M696 1868h0M589 1921h0M579 1859h0M806 1787h0M558 1909h0M669 1903h0M586 1906h0M688 1859h0M740 1920h0M807 1787h0M660 1833h0M678 1858h0M626 1680h0M695 1908h0M686 1850h0M554 1922h0M691 1884h0M785 1897h0M764 1859h0M551 1891h0M566 1880h0M705 1913h0M640 1921h0M685 1919h0M714 1866h0M646 1924h0M749 1869h0M765 1870h0M569 1871h0M625 1876h0M641 1845h0M699 1871h0M724 1924h0M594 1890h0M736 1903h0M634 1924h0M776 1824h0M760 1890h0M761 1824h0M787 1844h0M619 1881h0M711 1924h0M569 1911h0M794 1616h0M662 1893h0M601 1743h0M802 1846h0M636 1898h0M609 1901h0M779 1920h0M556 1857h0M775 1846h0M738 1733h0M767 1843h0M710 1856h0M597 1864h0M690 1883h0M594 1892h0M596 1898h0M601 1876h0M805 1832h0M615 1709h0M608 1902h0M645 1867h0M572 1883h0M807 1817h0M816 1919h0M568 1895h0M597 1848h0M578 1923h0M796 1734h0M630 1924h0M805 1851h0M613 1919h0M689 1797h0M806 1865h0M569 1905h0M797 1848h0M614 1893h0M631 1924h0M634 1917h0M660 1889h0M640 1922h0M554 1893h0M558 1835h0M809 1862h0M634 1733h0M611 1900h0M770 1798h0M574 1799h0M743 1832h0M726 1695h0M573 1874h0M554 1844h0M684 1921h0M794 1805h0M678 1859h0M602 1864h0M592 1873h0M785 1802h0M645 1853h0M619 1921h0M724 1824h0M702 1923h0M586 1900h0M590 1921h0M635 1911h0M816 1889h0M785 1924h0M628 1904h0M694 1924h0M775 1838h0M619 1923h0M692 1857h0M625 1911h0M807 1791h0M618 1832h0M682 1889h0M566 1837h0M560 1800h0M576 1917h0M799 1828h0M758 1855h0M807 1867h0M726 1864h0M608 1909h0M596 1862h0M740 1847h0M700 1837h0M693 1866h0M656 1850h0M785 1821h0M752 1788h0M570 1907h0M677 1901h0M694 1879h0M800 1739h0M568 1805h0M692 1830h0M656 1829h0M653 1845h0M689 1798h0M607 1921h0M646 1867h0M582 1880h0M659 1862h0M761 1846h0M763 1760h0M730 1813h0M772 1831h0M725 1924h0M666 1863h0M567 1921h0M697 1762h0M574 1890h0M596 1771h0M562 1876h0M795 1723h0M705 1878h0M571 1846h0M651 1886h0M800 1813h0M615 1790h0M577 1805h0M655 1884h0M638 1867h0M643 1757h0M811 1863h0M564 1769h0M696 1876h0M768 1816h0M763 1879h0M720 1864h0M764 1772h0M703 1905h0M688 1846h0M704 1847h0M740 1923h0M638 1923h0M604 1881h0M794 1785h0M773 1923h0M815 1813h0M679 1892h0M581 1889h0M679 1923h0M556 1849h0M569 1812h0M748 1755h0M561 1872h0M795 1828h0M752 1924h0M813 1852h0M614 1812h0M732 1823h0M816 1909h0M815 1921h0M754 1827h0M747 1924h0M560 1885h0M658 1869h0M682 1843h0M556 1918h0M553 1853h0M605 1920h0M633 1850h0M673 1878h0M650 1868h0M794 1847h0M599 1857h0M787 1775h0M674 1867h0M553 1863h0M614 1804h0M709 1875h0M560 1873h0M610 1853h0M766 1792h0M722 1861h0M797 1824h0M569 1902h0M722 1841h0M676 1868h0M740 1872h0M646 1884h0M792 1924h0M674 1854h0M692 1820h0M592 1883h0M611 1810h0M814 1789h0M566 1797h0M586 1700h0M719 1844h0M572 1894h0M802 1748h0M639 1844h0M725 1712h0M640 1651h0M756 1847h0M810 1849h0M599 1836h0M555 1907h0M616 1852h0M750 1759h0M650 1880h0M614 1916h0M745 1924h0M713 1857h0M788 1818h0M614 1836h0M579 1846h0M588 1924h0M711 1855h0M815 1900h0M806 1749h0M652 1798h0M695 1869h0M656 1788h0M779 1878h0M794 1924h0M664 1900h0M672 1898h0M689 1874h0M793 1811h0M559 1746h0M813 1829h0M725 1827h0M813 1866h0M560 1861h0M595 1785h0M649 1877h0M661 1889h0M772 1923h0M554 1923h0M674 1924h0M816 1924h0M583 1897h0M799 1803h0M555 1756h0M563 1837h0M616 1835h0M625 1898h0M556 1916h0M807 1832h0M816 1845h0M556 1834h0M591 1860h0M763 1797h0M776 1924h0M735 1777h0M552 1872h0M670 1893h0M553 1848h0M652 1830h0M556 1884h0M812 1762h0M742 1822h0M706 1923h0M761 1923h0M755 1789h0M635 1779h0M576 1893h0M560 1863h0M767 1830h0M727 1858h0M809 1924h0M559 1843h0M699 1819h0M639 1665h0M763 1829h0M554 1909h0M691 1791h0M619 1783h0M815 1852h0M704 1790h0M785 1699h0M567 1859h0M733 1751h0M676 1799h0M619 1897h0M802 1808h0M814 1803h0M577 1802h0M663 1923h0M616 1794h0M790 1795h0M574 1923h0M692 1843h0M682 1922h0M693 1843h0M651 1800h0M626 1806h0M633 1839h0M747 1748h0M712 1924h0M641 1701h0M724 1740h0M784 1782h0M682 1858h0M658 1875h0M726 1834h0M794 1739h0M705 1851h0M577 1852h0M804 1844h0M696 1812h0M615 1923h0M626 1868h0M815 1913h0M799 1840h0M685 1775h0M554 1875h0M653 1798h0M627 1841h0M561 1922h0M554 1885h0M797 1729h0M618 1923h0M608 1851h0M651 1823h0M816 1907h0M725 1843h0M623 1900h0M614 1903h0M788 1790h0M566 1833h0M609 1879h0M622 1864h0M739 1847h0M582 1844h0M671 1877h0M810 1825h0M555 1759h0M619 1795h0M742 1832h0M663 1882h0M700 1847h0M814 1856h0M687 1824h0M579 1898h0M812 1843h0M688 1879h0M708 1870h0M616 1831h0M777 1829h0M750 1848h0M732 1921h0M813 1837h0M691 1869h0M802 1802h0M610 1837h0M738 1773h0M805 1765h0M815 1894h0M572 1900h0M566 1764h0M813 1796h0M551 1855h0M729 1814h0M731 1759h0M565 1745h0M573 1905h0M686 1812h0M815 1781h0M672 1837h0M567 1847h0M621 1909h0M722 1838h0M553 1922h0M689 1789h0M691 1840h0M601 1781h0M816 1887h0M624 1814h0M766 1759h0M813 1867h0M677 1816h0M599 1733h0M725 1706h0M711 1852h0M574 1757h0M747 1783h0M674 1835h0M674 1737h0M551 1906h0M563 1824h0M789 1795h0M649 1747h0M642 1776h0M553 1844h0M675 1682h0M640 1640h0M738 1749h0M703 1923h0M557 1923h0M815 1840h0M558 1727h0M601 1803h0M674 1845h0M639 1806h0M746 1791h0M749 1777h0M613 1741h0M816 1900h0M557 1753h0M668 1839h0M553 1845h0M653 1843h0M566 1816h0M713 1812h0M641 1761h0M816 1902h0M625 1829h0M762 1817h0M799 1923h0M713 1797h0M810 1924h0M686 1838h0M791 1736h0M593 1796h0M700 1746h0M675 1870h0M804 1702h0M697 1705h0M569 1788h0M758 1728h0M694 1777h0M786 1798h0M716 1923h0M551 1852h0M643 1835h0M724 1775h0M687 1806h0M553 1861h0M715 1816h0M816 1879h0M555 1879h0M601 1762h0M792 1787h0M812 1924h0M658 1922h0M565 1923h0M772 1764h0M792 1762h0M678 1883h0M786 1756h0M690 1864h0M708 1771h0M726 1840h0M662 1838h0M724 1799h0M628 1804h0M722 1785h0M563 1755h0M710 1784h0M651 1770h0M813 1817h0M649 1771h0M795 1743h0M795 1777h0M804 1763h0M763 1745h0M753 1924h0M682 1864h0M590 1850h0M628 1825h0M613 1798h0M714 1855h0M749 1820h0M784 1771h0M692 1924h0M762 1811h0M614 1704h0M736 1791h0M644 1802h0M616 1862h0M620 1862h0M631 1848h0M716 1841h0M789 1766h0M740 1816h0M662 1825h0M688 1869h0M652 1715h0M758 1757h0M626 1859h0M641 1684h0M784 1646h0M641 1648h0M815 1874h0M556 1786h0M800 1762h0M656 1813h0M629 1697h0M756 1732h0M627 1878h0M723 1817h0M569 1824h0M759 1843h0M630 1829h0M700 1751h0M569 1851h0M648 1924h0M693 1803h0M758 1923h0M745 1698h0M605 1809h0M756 1784h0M704 1817h0M770 1782h0M632 1831h0M631 1819h0M691 1658h0M626 1853h0M691 1924h0M765 1798h0M778 1784h0M742 1833h0M760 1816h0M552 1892h0M731 1780h0M700 1811h0M566 1848h0M792 1754h0M566 1688h0M642 1773h0M784 1764h0M760 1794h0M709 1822h0M795 1726h0M708 1792h0M738 1729h0M642 1793h0M609 1831h0M771 1923h0M758 1764h0M551 1863h0M692 1769h0M551 1913h0M766 1834h0M560 1923h0M681 1923h0M689 1781h0M762 1838h0M815 1786h0M717 1924h0M670 1790h0M718 1845h0M750 1832h0M594 1741h0M625 1843h0M628 1721h0M565 1674h0M629 1873h0M724 1761h0M796 1707h0M552 1885h0M723 1762h0M815 1644h0M569 1783h0M770 1787h0M732 1750h0M629 1924h0M642 1828h0M799 1697h0M770 1924h0M721 1785h0M759 1814h0M656 1811h0M616 1825h0M807 1777h0M816 1836h0M622 1866h0M793 1702h0M734 1840h0M641 1821h0M725 1845h0M607 1865h0M767 1805h0M604 1834h0M766 1740h0M720 1846h0M782 1716h0M750 1767h0M559 1793h0M771 1790h0M702 1699h0M739 1923h0M691 1723h0M806 1779h0M801 1801h0M592 1720h0M590 1829h0M586 1644h0M589 1846h0M624 1785h0M551 1890h0M609 1922h0M793 1675h0M679 1868h0M587 1639h0M815 1915h0M573 1834h0M675 1878h0M692 1670h0M567 1783h0M627 1766h0M551 1865h0M653 1807h0M763 1923h0M662 1821h0M714 1924h0M595 1783h0M562 1812h0M592 1804h0M590 1924h0M780 1703h0M735 1765h0M686 1825h0M612 1873h0M614 1738h0M682 1800h0M816 1823h0M813 1757h0M651 1817h0M744 1834h0M627 1816h0M555 1773h0M736 1764h0M762 1780h0M675 1924h0M798 1716h0M750 1799h0M802 1800h0M602 1725h0M597 1822h0M562 1766h0M552 1849h0M628 1771h0M763 1802h0M592 1754h0M617 1758h0M566 1748h0M734 1799h0M724 1700h0M643 1809h0M597 1917h0M593 1782h0M649 1785h0M785 1637h0M764 1731h0M590 1775h0M801 1736h0M811 1741h0M695 1756h0M706 1924h0M560 1810h0M814 1870h0M694 1708h0M779 1729h0M688 1676h0M713 1791h0M780 1710h0M708 1782h0M790 1767h0M600 1725h0M711 1745h0M816 1916h0M617 1769h0M814 1924h0M673 1827h0M786 1793h0M813 1806h0M784 1790h0M717 1783h0M691 1728h0M567 1819h0M781 1923h0M748 1835h0M801 1726h0M810 1765h0M553 1877h0M626 1773h0M710 1924h0M797 1636h0M665 1796h0M612 1712h0M653 1804h0M555 1833h0M559 1924h0M572 1827h0M552 1905h0M604 1818h0M771 1924h0M629 1771h0M747 1799h0M625 1790h0M771 1765h0M732 1791h0M614 1792h0M813 1864h0M552 1894h0M781 1781h0M575 1747h0M785 1650h0M592 1746h0M656 1809h0M744 1924h0M591 1808h0M694 1726h0M665 1924h0M693 1709h0M551 1859h0M648 1736h0M688 1651h0M642 1791h0M805 1773h0M1280 1251h0M1168 1466h0M1168 1496h0M1185 1479h0M1234 1489h0M1268 1478h0M1268 1534h0M1226 1560h0M1256 1553h0M1256 1589h0M1256 1617h0M1268 1634h0M1094 1623h0M1185 1628h0M1185 1640h0M1089 1662h0M1094 1673h0M1089 1685h0M1089 1705h0M1090 1710h0M1089 1724h0M1131 1702h0M1183 1695h0M1183 1704h0M1247 1673h0M1247 1708h0M1272 1681h0M1268 1689h0M1276 1691h0M1273 1702h0M1273 1717h0M1261 1718h0M1211 1718h0M1225 1716h0M1191 1724h0M1149 1745h0M1168 1745h0M1287 1739h0M1291 1752h0M1291 1763h0M1090 1889h0M1184 1907h0M1184 1803h0M1205 1887h0M1289 1828h0M1178 1917h0M1107 1735h0M1124 1894h0M1256 1869h0M1100 1918h0M1111 1866h0M1198 1911h0M1154 1924h0M1104 1921h0M1118 1912h0M1140 1888h0M1173 1858h0M1099 1895h0M1103 1834h0M1157 1833h0M1155 1856h0M1227 1899h0M1151 1877h0M1104 1859h0M1130 1916h0M1112 1899h0M1103 1799h0M1179 1888h0M1135 1827h0M1110 1840h0M1293 1754h0M1204 1843h0M1229 1914h0M1105 1904h0M1089 1908h0M1177 1880h0M1115 1874h0M1165 1899h0M1276 1845h0M1098 1895h0M1200 1868h0M1108 1892h0M1119 1702h0M1165 1919h0M1156 1912h0M1092 1915h0M1199 1876h0M1259 1924h0M1271 1899h0M1203 1924h0M1182 1840h0M1133 1890h0M1187 1915h0M1178 1856h0M1092 1920h0M1176 1917h0M1091 1797h0M1128 1922h0M1178 1830h0M1096 1877h0M1276 1873h0M1104 1891h0M1135 1917h0M1188 1894h0M1141 1901h0M1162 1831h0M1216 1919h0M1180 1920h0M1109 1830h0M1094 1916h0M1158 1823h0M1141 1907h0M1271 1901h0M1166 1876h0M1261 1886h0M1143 1905h0M1186 1911h0M1101 1859h0M1089 1890h0M1182 1838h0M1130 1894h0M1230 1924h0M1207 1919h0M1177 1885h0M1274 1915h0M1227 1894h0M1275 1891h0M1289 1906h0M1166 1913h0M1203 1923h0M1222 1910h0M1296 1917h0M1163 1792h0M1090 1919h0M1109 1907h0M1158 1805h0M1248 1891h0M1160 1893h0M1227 1914h0M1173 1865h0M1155 1868h0M1226 1908h0M1243 1682h0M1225 1898h0M1198 1901h0M1194 1900h0M1272 1833h0M1264 1842h0M1148 1901h0M1279 1916h0M1129 1885h0M1198 1916h0M1228 1804h0M1213 1919h0M1159 1815h0M1256 1868h0M1183 1842h0M1097 1887h0M1108 1923h0M1286 1911h0M1116 1780h0M1123 1859h0M1239 1784h0M1230 1886h0M1108 1857h0M1209 1883h0M1153 1907h0M1275 1909h0M1098 1880h0M1278 1899h0M1212 1861h0M1177 1893h0M1276 1863h0M1146 1878h0M1224 1914h0M1172 1913h0M1092 1770h0M1126 1922h0M1159 1908h0M1105 1812h0M1293 1859h0M1177 1792h0M1228 1783h0M1272 1915h0M1265 1824h0M1293 1900h0M1208 1823h0M1098 1916h0M1126 1874h0M1197 1919h0M1287 1924h0M1092 1812h0M1103 1885h0M1169 1882h0M1123 1890h0M1193 1835h0M1093 1856h0M1293 1772h0M1206 1900h0M1229 1915h0M1227 1922h0M1141 1763h0M1267 1917h0M1218 1921h0M1099 1855h0M1203 1872h0M1102 1912h0M1260 1883h0M1210 1862h0M1111 1790h0M1165 1870h0M1186 1883h0M1135 1874h0M1255 1907h0M1121 1879h0M1179 1906h0M1103 1918h0M1138 1832h0M1213 1898h0M1254 1829h0M1113 1906h0M1278 1917h0M1121 1908h0M1184 1841h0M1263 1916h0M1135 1883h0M1152 1913h0M1162 1862h0M1145 1913h0M1223 1891h0M1174 1891h0M1119 1861h0M1179 1898h0M1122 1864h0M1113 1894h0M1296 1847h0M1214 1916h0M1091 1858h0M1286 1894h0M1279 1923h0M1160 1843h0M1116 1912h0M1275 1923h0M1273 1868h0M1274 1831h0M1094 1849h0M1153 1921h0M1114 1883h0M1258 1905h0M1292 1888h0M1293 1880h0M1213 1797h0M1295 1855h0M1119 1918h0M1145 1855h0M1279 1806h0M1090 1899h0M1222 1882h0M1206 1774h0M1106 1830h0M1090 1921h0M1279 1810h0M1213 1870h0M1216 1897h0M1271 1920h0M1197 1860h0M1268 1911h0M1198 1861h0M1215 1833h0M1103 1900h0M1101 1803h0M1088 1846h0M1176 1862h0M1243 1884h0M1094 1920h0M1186 1916h0M1231 1920h0M1215 1898h0M1166 1921h0M1209 1890h0M1101 1832h0M1158 1886h0M1105 1791h0M1296 1830h0M1226 1883h0M1231 1857h0M1130 1913h0M1164 1910h0M1229 1826h0M1177 1793h0M1290 1880h0M1088 1896h0M1099 1897h0M1234 1765h0M1272 1922h0M1165 1891h0M1187 1704h0M1158 1837h0M1214 1921h0M1215 1899h0M1118 1908h0M1114 1880h0M1159 1853h0M1095 1886h0M1205 1908h0M1168 1820h0M1152 1881h0M1209 1893h0M1103 1838h0M1147 1840h0M1203 1859h0M1121 1896h0M1103 1871h0M1091 1756h0M1167 1859h0M1178 1920h0M1173 1919h0M1182 1924h0M1178 1787h0M1276 1923h0M1234 1864h0M1157 1883h0M1207 1851h0M1104 1885h0M1224 1844h0M1113 1915h0M1150 1916h0M1149 1867h0M1124 1727h0M1140 1755h0M1209 1820h0M1200 1882h0M1279 1859h0M1104 1810h0M1127 1873h0M1243 1699h0M1291 1764h0M1178 1921h0M1289 1794h0M1148 1847h0M1115 1921h0M1091 1833h0M1205 1924h0M1171 1852h0M1208 1894h0M1198 1864h0M1273 1840h0M1214 1876h0M1156 1878h0M1138 1908h0M1224 1762h0M1173 1900h0M1195 1919h0M1252 1889h0M1273 1834h0M1228 1906h0M1207 1678h0M1115 1676h0M1112 1851h0M1110 1823h0M1103 1924h0M1244 1908h0M1224 1849h0M1259 1897h0M1163 1808h0M1292 1866h0M1228 1793h0M1111 1883h0M1235 1921h0M1154 1897h0M1107 1845h0M1291 1842h0M1293 1899h0M1133 1871h0M1268 1824h0M1088 1857h0M1165 1922h0M1167 1811h0M1198 1882h0M1198 1880h0M1143 1896h0M1099 1910h0M1230 1912h0M1233 1871h0M1292 1853h0M1246 1877h0M1130 1911h0M1127 1923h0M1145 1894h0M1278 1810h0M1174 1924h0M1130 1922h0M1091 1915h0M1294 1839h0M1245 1671h0M1198 1885h0M1225 1870h0M1119 1789h0M1182 1861h0M1173 1873h0M1265 1923h0M1271 1878h0M1294 1896h0M1229 1766h0M1228 1893h0M1289 1746h0M1223 1924h0M1224 1759h0M1121 1845h0M1198 1858h0M1262 1924h0M1206 1839h0M1120 1851h0M1133 1849h0M1112 1766h0M1184 1831h0M1258 1875h0M1198 1904h0M1262 1885h0M1220 1848h0M1278 1697h0M1258 1853h0M1214 1826h0M1246 1863h0M1290 1885h0M1270 1873h0M1089 1853h0M1088 1911h0M1174 1811h0M1174 1865h0M1130 1864h0M1163 1776h0M1236 1921h0M1198 1889h0M1098 1849h0M1177 1781h0M1278 1853h0M1208 1787h0M1144 1865h0M1294 1889h0M1100 1924h0M1196 1784h0M1108 1835h0M1223 1870h0M1130 1905h0M1276 1807h0M1143 1848h0M1278 1688h0M1227 1758h0M1263 1766h0M1259 1895h0M1213 1913h0M1228 1894h0M1237 1893h0M1177 1864h0M1254 1850h0M1142 1914h0M1225 1839h0M1251 1858h0M1141 1876h0M1089 1822h0M1113 1922h0M1091 1745h0M1211 1924h0M1267 1803h0M1094 1840h0M1293 1861h0M1157 1798h0M1273 1876h0M1181 1830h0M1104 1866h0M1253 1924h0M1261 1862h0M1114 1922h0M1095 1783h0M1275 1874h0M1168 1789h0M1146 1886h0M1101 1749h0M1130 1862h0M1111 1722h0M1104 1794h0M1191 1830h0M1104 1799h0M1140 1852h0M1293 1878h0M1290 1879h0M1244 1687h0M1238 1818h0M1088 1893h0M1232 1895h0M1244 1916h0M1292 1818h0M1091 1867h0M1141 1862h0M1192 1778h0M1265 1852h0M1293 1825h0M1256 1909h0M1272 1924h0M1175 1830h0M1173 1828h0M1183 1878h0M1134 1922h0M1107 1870h0M1290 1837h0M1258 1923h0M1296 1831h0M1247 1876h0M1187 1877h0M1168 1791h0M1221 1845h0M1114 1824h0M1104 1817h0M1296 1749h0M1270 1924h0M1151 1921h0M1206 1695h0M1155 1820h0M1183 1874h0M1088 1919h0M1088 1910h0M1276 1924h0M1182 1851h0M1230 1875h0M1227 1813h0M1184 1821h0M1288 1875h0M1229 1901h0M1106 1755h0M1251 1922h0M1245 1855h0M1288 1867h0M1088 1864h0M1195 1772h0M1105 1805h0M1293 1905h0M1260 1830h0M1200 1872h0M1264 1859h0M1147 1921h0M1272 1894h0M1192 1869h0M1243 1912h0M1273 1890h0M1161 1802h0M1286 1924h0M1190 1826h0M1286 1830h0M1275 1924h0M1254 1803h0M1285 1873h0M1122 1921h0M1274 1841h0M1274 1828h0M1089 1866h0M1257 1876h0M1102 1829h0M1115 1840h0M1096 1776h0M1127 1833h0M1088 1856h0M1225 1853h0M1126 1924h0M1161 1845h0M1184 1850h0M1294 1893h0M1284 1861h0M1097 1782h0M1290 1838h0M1196 1753h0M1128 1680h0M1207 1672h0M1279 1836h0M1273 1886h0M1102 1819h0M1162 1786h0M1209 1857h0M1088 1817h0M1171 1782h0M1131 1922h0M1121 1832h0M1278 1769h0M1185 1924h0M1289 1763h0M1284 1924h0M1204 1844h0M1293 1877h0M1250 1897h0M1204 1799h0M1226 1825h0M1231 1924h0M1119 1721h0M1236 1842h0M1130 1781h0M1278 1924h0M1219 1880h0M1139 1788h0M1110 1803h0M1276 1881h0M1253 1832h0M1279 1816h0M1100 1789h0M1122 1858h0M1245 1670h0M1220 1845h0M1230 1867h0M1234 1923h0M1270 1856h0M1178 1842h0M1169 1805h0M1296 1920h0M1089 1876h0M1282 1892h0M1103 1690h0M1231 1886h0M1272 1819h0M1088 1903h0M1260 1822h0M1276 1884h0M1241 1907h0M1089 1805h0M1233 1896h0M1089 1845h0M1235 1776h0M1227 1803h0M1295 1883h0M1187 1770h0M1089 1916h0M1177 1822h0M1219 1791h0M1115 1823h0M1193 1921h0M1225 1787h0M1109 1778h0M1231 1862h0M1162 1835h0M1294 1907h0M1176 1838h0M1191 1852h0M1291 1718h0M1223 1811h0M1147 1922h0M1193 1922h0M1296 1868h0M1215 1862h0M1279 1830h0M1290 1847h0M1139 1919h0M1191 1923h0M1140 1796h0M1180 1806h0M1293 1874h0M1162 1844h0M1227 1795h0M1223 1869h0M1231 1803h0M1202 1924h0M1278 1778h0M1198 1736h0M1104 1727h0M1131 1784h0M1296 1724h0M1221 1804h0M1227 1924h0M1221 1888h0M1160 1783h0M1252 1831h0M1091 1746h0M1212 1812h0M1200 1857h0M1131 1770h0M1182 1820h0M1234 1924h0M1253 1820h0M1147 1923h0M1129 1794h0M1139 1762h0M1282 1813h0M1090 1871h0M1294 1888h0M1172 1799h0M1185 1747h0M1267 1864h0M1140 1793h0M1189 1868h0M1132 1839h0M1281 1838h0M1139 1784h0M1114 1733h0M1290 1762h0M1223 1760h0M1280 1784h0M1106 1817h0M1114 1799h0M1198 1781h0M1091 1740h0M1247 1872h0M1232 1872h0M1272 1814h0M1289 1767h0M1296 1727h0M1153 1826h0M1238 1868h0M1094 1826h0M1130 1924h0M1195 1843h0M1293 1814h0M1293 1799h0M1137 1783h0M1249 1842h0M1237 1905h0M1266 1791h0M1234 1794h0M1279 1784h0M1144 1786h0M1148 1814h0M1226 1818h0M1089 1738h0M1118 1765h0M1160 1754h0M1140 1764h0M1154 1828h0M1199 1822h0M1144 1845h0M1209 1804h0M1205 1844h0M1173 1848h0M1296 1765h0M1242 1907h0M1185 1668h0M1184 1806h0M1222 1858h0M1129 1783h0M1295 1894h0M1088 1886h0M1149 1720h0M1199 1808h0M1092 1921h0M1206 1924h0M1296 1834h0M1284 1811h0M1088 1907h0M1138 1756h0M1198 1857h0M1206 1699h0M1206 1837h0M1145 1923h0M1207 1819h0M1189 1795h0M1137 1808h0M1122 1923h0M1295 1839h0M1282 1924h0M1258 1837h0M1266 1822h0M1090 1742h0M1279 1924h0M1254 1810h0M1180 1817h0M1139 1754h0M1089 1779h0M1233 1877h0M1097 1653h0M1141 1791h0M1269 1924h0M1089 1849h0M1158 1922h0M1195 1857h0M1092 1749h0M1109 1775h0M1151 1923h0M1097 1787h0M1221 1766h0M1159 1649h0M1177 1924h0M1098 1749h0M1119 1690h0M1133 1923h0M1107 1808h0M1186 1656h0M1264 1791h0M1152 1884h0M1122 1825h0M1236 1777h0M1198 1790h0M1212 1844h0M1237 1760h0M1296 1869h0M1088 1905h0M1089 1868h0M1180 1924h0M1204 1701h0M1163 1924h0M1274 1822h0M1237 1923h0M1194 1767h0M1280 1757h0M1160 1776h0M1089 1840h0M1207 1816h0M1238 1902h0M1088 1761h0M1233 1773h0M1139 1772h0M1220 1811h0M1296 1916h0M1207 1834h0M1148 1816h0M1207 1720h0M1226 1924h0M1274 1698h0M1224 1829h0M1147 1924h0M1142 1808h0M1107 1759h0M1146 1721h0M1185 1773h0M1271 1808h0M1088 1884h0M1264 1814h0M1293 1789h0M1197 1838h0M1130 1797h0M1221 1814h0M1277 1742h0M1293 1810h0M1293 1904h0M1089 1842h0M1140 1803h0M1237 1855h0M1263 1795h0M1125 1817h0M1245 1836h0M1088 1891h0M1093 1769h0M1294 1780h0M1226 1850h0M1248 1920h0M1092 1784h0M1110 1774h0M1296 1902h0M1277 1798h0M1137 1812h0M1295 1911h0M1295 1882h0M1141 1814h0M1152 1806h0M1099 1776h0M1236 1805h0M1108 1924h0M1091 1791h0M1120 1923h0M1148 1736h0M1296 1757h0M1217 1923h0M1122 1691h0M1130 1826h0M1236 1762h0M1106 1815h0M1204 1675h0M1149 1822h0M1127 1924h0M1130 1776h0M1160 1752h0M1102 1774h0M1210 1924h0M1102 1756h0M1295 1880h0M1713 1150h0M1699 1337h0M1595 1438h0M1699 1434h0M1699 1437h0M1697 1491h0M1713 1498h0M1720 1528h0M1579 1504h0M1579 1525h0M1570 1536h0M1583 1533h0M1574 1549h0M1583 1565h0M1574 1581h0M1583 1585h0M1595 1575h0M1574 1601h0M1693 1569h0M1713 1569h0M1713 1579h0M1674 1588h0M1595 1607h0M1608 1607h0M1628 1615h0M1628 1623h0M1582 1626h0M1582 1637h0M1595 1640h0M1686 1615h0M1693 1611h0M1702 1613h0M1696 1627h0M1665 1630h0M1674 1636h0M1687 1644h0M1549 1655h0M1557 1668h0M1549 1681h0M1582 1671h0M1605 1671h0M1609 1675h0M1628 1658h0M1631 1673h0M1644 1668h0M1665 1658h0M1693 1671h0M1704 1672h0M1711 1679h0M1656 1687h0M1656 1695h0M1692 1701h0M1713 1701h0M1556 1724h0M1562 1732h0M1603 1711h0M1606 1720h0M1625 1726h0M1627 1734h0M1654 1721h0M1669 1721h0M1692 1721h0M1717 1721h0M1732 1726h0M1721 1743h0M1700 1737h0M1636 1750h0M1714 1924h0M1702 1910h0M1593 1788h0M1664 1877h0M1690 1912h0M1598 1817h0M1713 1800h0M1638 1875h0M1706 1868h0M1712 1923h0M1608 1915h0M1668 1906h0M1595 1876h0M1706 1909h0M1585 1811h0M1725 1893h0M1689 1908h0M1731 1892h0M1586 1921h0M1657 1909h0M1588 1912h0M1705 1906h0M1689 1892h0M1700 1917h0M1589 1907h0M1628 1800h0M1715 1874h0M1647 1909h0M1682 1859h0M1606 1832h0M1608 1924h0M1720 1835h0M1619 1806h0M1583 1885h0M1716 1891h0M1629 1892h0M1699 1879h0M1725 1896h0M1584 1923h0M1586 1907h0M1724 1869h0M1683 1795h0M1638 1920h0M1729 1807h0M1681 1913h0M1581 1852h0M1575 1924h0M1677 1838h0M1730 1821h0M1722 1878h0M1692 1895h0M1709 1921h0M1586 1862h0M1687 1791h0M1697 1874h0M1686 1863h0M1688 1921h0M1640 1881h0M1612 1890h0M1585 1831h0M1721 1824h0M1612 1908h0M1588 1829h0M1715 1871h0M1709 1883h0M1641 1909h0M1629 1837h0M1712 1920h0M1674 1815h0M1611 1880h0M1707 1915h0M1712 1870h0M1683 1798h0M1633 1809h0M1666 1870h0M1718 1907h0M1683 1910h0M1591 1818h0M1698 1865h0M1676 1907h0M1555 1924h0M1697 1638h0M1578 1897h0M1582 1882h0M1550 1877h0M1715 1918h0M1708 1820h0M1696 1728h0M1706 1876h0M1702 1885h0M1612 1866h0M1695 1880h0M1696 1813h0M1711 1735h0M1685 1898h0M1705 1885h0M1652 1899h0M1591 1878h0M1584 1823h0M1688 1877h0M1730 1884h0M1596 1885h0M1698 1814h0M1592 1917h0M1693 1900h0M1566 1910h0M1603 1918h0M1680 1919h0M1666 1785h0M1598 1829h0M1605 1824h0M1585 1888h0M1664 1786h0M1617 1911h0M1591 1919h0M1693 1829h0M1595 1896h0M1653 1911h0M1622 1875h0M1672 1839h0M1579 1908h0M1708 1782h0M1712 1826h0M1709 1895h0M1637 1910h0M1577 1897h0M1707 1920h0M1584 1874h0M1612 1921h0M1617 1924h0M1584 1876h0M1677 1918h0M1693 1883h0M1730 1863h0M1717 1922h0M1610 1873h0M1698 1686h0M1704 1920h0M1590 1901h0M1701 1837h0M1595 1875h0M1599 1903h0M1556 1924h0M1699 1923h0M1720 1904h0M1600 1885h0M1688 1797h0M1590 1851h0M1584 1851h0M1702 1858h0M1622 1888h0M1617 1861h0M1716 1904h0M1578 1919h0M1675 1908h0M1583 1873h0M1689 1884h0M1712 1801h0M1604 1803h0M1667 1839h0M1567 1909h0M1558 1885h0M1589 1911h0M1697 1856h0M1696 1867h0M1624 1881h0M1634 1829h0M1579 1902h0M1669 1875h0M1619 1888h0M1706 1924h0M1735 1920h0M1689 1880h0M1584 1857h0M1625 1915h0M1672 1857h0M1675 1878h0M1687 1881h0M1580 1913h0M1735 1905h0M1665 1848h0M1666 1919h0M1685 1838h0M1595 1799h0M1576 1885h0M1586 1849h0M1625 1822h0M1622 1774h0M1625 1867h0M1707 1831h0M1609 1852h0M1689 1891h0M1734 1905h0M1582 1859h0M1597 1845h0M1699 1751h0M1670 1704h0M1625 1792h0M1551 1868h0M1711 1883h0M1637 1876h0M1626 1916h0M1659 1906h0M1648 1854h0M1578 1917h0M1551 1911h0M1670 1715h0M1694 1717h0M1697 1899h0M1585 1922h0M1668 1924h0M1724 1904h0M1595 1918h0M1587 1856h0M1665 1923h0M1684 1903h0M1665 1918h0M1595 1735h0M1677 1919h0M1697 1923h0M1731 1891h0M1692 1924h0M1709 1923h0M1693 1764h0M1668 1832h0M1699 1784h0M1725 1839h0M1677 1904h0M1665 1798h0M1607 1857h0M1705 1898h0M1613 1739h0M1645 1914h0M1711 1860h0M1592 1919h0M1674 1738h0M1593 1916h0M1726 1904h0M1612 1893h0M1637 1902h0M1704 1924h0M1679 1875h0M1596 1904h0M1558 1900h0M1614 1903h0M1694 1768h0M1691 1854h0M1582 1855h0M1674 1880h0M1734 1897h0M1665 1865h0M1721 1869h0M1558 1924h0M1668 1739h0M1689 1819h0M1684 1749h0M1725 1915h0M1683 1854h0M1598 1748h0M1667 1900h0M1699 1924h0M1669 1832h0M1616 1891h0M1586 1922h0M1628 1912h0M1617 1814h0M1729 1878h0M1611 1834h0M1646 1924h0M1689 1887h0M1613 1901h0M1677 1900h0M1719 1881h0M1613 1775h0M1671 1843h0M1663 1783h0M1684 1879h0M1608 1909h0M1593 1921h0M1554 1881h0M1607 1860h0M1712 1838h0M1671 1828h0M1662 1914h0M1726 1827h0M1584 1787h0M1596 1920h0M1733 1920h0M1700 1827h0M1730 1805h0M1680 1900h0M1692 1891h0M1555 1917h0M1714 1861h0M1699 1895h0M1693 1924h0M1569 1808h0M1584 1793h0M1582 1745h0M1586 1866h0M1649 1806h0M1656 1846h0M1559 1924h0M1626 1854h0M1552 1821h0M1583 1776h0M1608 1876h0M1624 1920h0M1694 1840h0M1646 1886h0M1608 1886h0M1571 1872h0M1617 1905h0M1661 1847h0M1676 1874h0M1670 1888h0M1586 1787h0M1599 1860h0M1616 1835h0M1694 1827h0M1613 1846h0M1606 1874h0M1635 1887h0M1675 1894h0M1681 1828h0M1634 1766h0M1678 1884h0M1732 1909h0M1665 1863h0M1731 1922h0M1619 1852h0M1600 1920h0M1712 1843h0M1670 1857h0M1591 1921h0M1707 1840h0M1707 1799h0M1707 1846h0M1612 1924h0M1710 1846h0M1595 1874h0M1723 1924h0M1605 1914h0M1574 1914h0M1688 1753h0M1661 1850h0M1583 1777h0M1677 1869h0M1580 1864h0M1578 1892h0M1704 1811h0M1609 1899h0M1710 1790h0M1598 1810h0M1734 1912h0M1594 1921h0M1683 1822h0M1684 1769h0M1719 1865h0M1706 1815h0M1644 1907h0M1569 1909h0M1620 1924h0M1731 1827h0M1593 1863h0M1691 1786h0M1576 1863h0M1608 1835h0M1705 1635h0M1603 1901h0M1718 1807h0M1560 1890h0M1734 1908h0M1604 1850h0M1685 1924h0M1629 1894h0M1615 1809h0M1562 1804h0M1672 1784h0M1718 1819h0M1665 1783h0M1595 1745h0M1690 1770h0M1560 1900h0M1643 1871h0M1549 1914h0M1554 1912h0M1580 1834h0M1616 1803h0M1636 1907h0M1649 1918h0M1667 1749h0M1692 1816h0M1700 1794h0M1734 1887h0M1712 1924h0M1606 1869h0M1711 1924h0M1712 1859h0M1556 1918h0M1734 1891h0M1632 1870h0M1559 1915h0M1697 1808h0M1694 1631h0M1673 1847h0M1564 1917h0M1627 1898h0M1654 1876h0M1589 1922h0M1664 1764h0M1579 1844h0M1714 1859h0M1664 1754h0M1638 1870h0M1571 1891h0M1621 1924h0M1617 1834h0M1550 1912h0M1563 1868h0M1603 1843h0M1590 1850h0M1574 1880h0M1710 1794h0M1662 1922h0M1551 1918h0M1597 1778h0M1690 1755h0M1666 1749h0M1664 1901h0M1573 1867h0M1698 1692h0M1562 1809h0M1601 1757h0M1577 1858h0M1672 1760h0M1603 1839h0M1680 1921h0M1735 1856h0M1670 1924h0M1719 1786h0M1568 1833h0M1728 1833h0M1599 1791h0M1580 1924h0M1727 1856h0M1599 1809h0M1622 1824h0M1553 1889h0M1637 1866h0M1593 1749h0M1572 1860h0M1701 1676h0M1671 1697h0M1656 1891h0M1702 1759h0M1727 1816h0M1690 1774h0M1714 1793h0M1709 1817h0M1685 1846h0M1723 1839h0M1708 1924h0M1612 1758h0M1610 1749h0M1707 1847h0M1588 1733h0M1689 1757h0M1618 1811h0M1662 1765h0M1603 1815h0M1665 1782h0M1604 1852h0M1550 1908h0M1576 1924h0M1664 1857h0M1645 1898h0M1691 1853h0M1697 1775h0M1725 1798h0M1563 1921h0M1576 1897h0M1731 1843h0M1709 1783h0M1630 1917h0M1586 1923h0M1723 1849h0M1623 1862h0M1654 1879h0M1628 1827h0M1629 1918h0M1694 1799h0M1603 1795h0M1701 1847h0M1608 1891h0M1671 1693h0M1555 1863h0M1715 1753h0M1566 1905h0M1615 1819h0M1686 1744h0M1668 1776h0M1715 1857h0M1595 1811h0M1584 1924h0M1664 1821h0M1735 1853h0M1591 1841h0M1551 1883h0M1669 1888h0M1638 1887h0M1703 1748h0M1629 1838h0M1559 1785h0M1684 1924h0M1578 1770h0M1553 1865h0M1565 1801h0M1566 1862h0M1583 1805h0M1631 1862h0M1662 1795h0M1735 1919h0M1552 1924h0M1663 1786h0M1663 1924h0M1551 1870h0M1568 1903h0M1567 1882h0M1685 1793h0M1688 1763h0M1554 1844h0M1658 1898h0M1698 1721h0M1567 1808h0M1623 1921h0M1694 1924h0M1662 1814h0M1725 1869h0M1630 1854h0M1660 1922h0M1712 1676h0M1655 1890h0M1700 1632h0M1732 1878h0M1720 1752h0M1576 1856h0M1734 1895h0M1667 1834h0M1598 1786h0M1727 1798h0M1642 1923h0M1686 1816h0M1552 1923h0M1647 1820h0M1609 1797h0M1695 1924h0M1686 1790h0M1672 1752h0M1647 1797h0M1735 1899h0M1681 1923h0M1735 1841h0M1567 1873h0M1644 1801h0M1553 1869h0M1735 1918h0M1684 1629h0M1713 1785h0M1699 1766h0M1623 1905h0M1698 1684h0M1666 1652h0M1733 1845h0M1733 1832h0M1690 1813h0M1664 1803h0M1564 1921h0M1672 1750h0M1555 1901h0M1574 1837h0M1581 1801h0M1733 1827h0M1657 1844h0M1655 1924h0M1584 1818h0M1704 1763h0M1549 1923h0M1574 1924h0M1636 1765h0M1600 1743h0M1554 1850h0M1665 1887h0M1667 1924h0M1579 1805h0M1716 1773h0M1701 1741h0M1553 1891h0M1698 1924h0M1557 1877h0M1618 1786h0M1619 1848h0M1690 1924h0M1672 1924h0M1719 1774h0M1589 1923h0M1734 1892h0M1565 1840h0M1655 1858h0M1657 1823h0M1618 1802h0M1686 1735h0M1683 1808h0M1596 1752h0M1704 1689h0M1596 1800h0M1728 1869h0M1700 1743h0M1563 1695h0M1630 1922h0M1552 1858h0M1596 1924h0M1588 1782h0M1666 1776h0M1695 1703h0M1611 1924h0M1693 1808h0M1693 1686h0M1720 1782h0M1672 1737h0M1665 1774h0M1669 1744h0M1647 1798h0M1708 1660h0M1628 1844h0M1554 1767h0M1662 1756h0M1712 1729h0M1577 1752h0M1665 1805h0M1653 1850h0M1556 1847h0M1686 1924h0M1687 1783h0M1640 1922h0M1735 1914h0M1595 1759h0M1640 1923h0M1732 1861h0M1662 1796h0M1577 1854h0M1681 1809h0M1601 1792h0M1613 1791h0M1664 1864h0M1594 1757h0M1625 1807h0M1553 1862h0M1676 1923h0M1708 1778h0M1665 1746h0M1672 1742h0M1729 1800h0M1565 1842h0M1636 1772h0M1666 1924h0M1735 1915h0M1616 1924h0M1601 1785h0M1705 1810h0M1678 1924h0M1735 1903h0M1671 1790h0M1578 1817h0M1595 1760h0M1694 1699h0M1551 1858h0M1702 1644h0M1703 1742h0M1664 1868h0M1595 1721h0M1613 1728h0M1644 1806h0M1671 1726h0M1646 1813h0M1733 1825h0M1648 1841h0M1728 1922h0M1670 1801h0M1568 1856h0M1610 1778h0M1580 1768h0M1713 1704h0M1637 1857h0M1568 1828h0M1615 1734h0M1735 1880h0M1712 1771h0M1701 1924h0M1634 1788h0M1732 1866h0M1689 1924h0M1681 1766h0M1606 1924h0M1616 1846h0M1583 1779h0M1729 1812h0M1735 1811h0M1582 1800h0M1712 1668h0M1569 1924h0M1719 1768h0M1567 1854h0M1658 1875h0M1613 1727h0M1676 1787h0M1674 1924h0M1623 1774h0M1563 1816h0M1675 1809h0M1617 1837h0M1730 1756h0M1610 1828h0M1720 1789h0M1581 1708h0M1702 1772h0M1630 1852h0M1689 1750h0M1707 1646h0M1593 1628h0M1651 1785h0M1614 1772h0M1645 1837h0M1579 1729h0M1732 1821h0M1554 1854h0M1592 1924h0M1579 1722h0M1685 1739h0M1659 1834h0M1613 1773h0M1735 1862h0M1702 1736h0M1594 1766h0M1622 1924h0M1581 1748h0M1554 1902h0M1555 1833h0M1551 1873h0M1593 1677h0M1643 1868h0M1554 1851h0M1577 1781h0M1668 1736h0M1579 1849h0M1672 1759h0M1657 1866h0M1645 1866h0M1585 1924h0M1670 1775h0M1691 1624h0M2102 1292h0M2110 1401h0M2110 1475h0M2002 1494h0M2003 1552h0M2094 1569h0M2102 1578h0M2019 1597h0M2020 1623h0M2024 1620h0M2078 1610h0M1983 1655h0M1995 1653h0M1962 1672h0M2070 1652h0M2003 1675h0M1996 1694h0M2003 1689h0M1994 1711h0M2070 1684h0M2110 1687h0M2098 1701h0M2118 1707h0M2118 1723h0M2047 1692h0M2039 1698h0M2031 1707h0M2020 1718h0M2035 1730h0M2044 1726h0M2066 1705h0M2073 1711h0M2073 1718h0M1962 1726h0M1975 1734h0M1988 1739h0M1962 1747h0M1975 1753h0M1962 1765h0M2003 1746h0M2003 1755h0M2058 1733h0M2071 1736h0M2111 1743h0M2099 1753h0M2024 1923h0M2079 1902h0M2104 1830h0M1980 1924h0M2075 1905h0M1997 1871h0M2016 1779h0M2011 1882h0M1981 1916h0M1994 1720h0M2053 1920h0M2080 1877h0M2115 1909h0M2079 1904h0M2122 1895h0M1974 1914h0M2078 1894h0M2080 1858h0M2081 1874h0M2118 1876h0M2068 1875h0M2118 1874h0M2072 1900h0M2103 1904h0M2038 1914h0M2108 1884h0M1969 1852h0M2013 1753h0M2042 1861h0M2032 1924h0M1980 1880h0M2021 1916h0M2015 1873h0M2055 1826h0M2104 1820h0M2050 1884h0M2084 1918h0M2065 1924h0M2049 1903h0M2052 1887h0M2009 1903h0M2108 1915h0M2107 1852h0M2080 1855h0M2122 1899h0M2002 1785h0M2073 1914h0M2044 1919h0M1980 1868h0M2121 1850h0M2086 1847h0M2084 1892h0M1995 1910h0M2109 1919h0M2109 1871h0M2085 1884h0M2055 1870h0M2048 1866h0M2114 1807h0M2032 1898h0M2045 1921h0M2050 1806h0M2047 1924h0M1986 1921h0M2075 1844h0M2026 1899h0M2086 1769h0M2080 1903h0M1974 1921h0M2003 1773h0M2000 1849h0M2021 1884h0M2115 1837h0M2061 1858h0M1996 1919h0M2122 1855h0M2109 1921h0M2011 1799h0M2073 1796h0M2028 1917h0M1968 1873h0M2000 1826h0M2101 1866h0M1990 1906h0M2086 1895h0M1995 1903h0M2117 1862h0M2102 1796h0M2119 1849h0M1985 1885h0M2115 1921h0M2104 1906h0M2084 1863h0M2116 1803h0M2122 1857h0M1990 1920h0M2085 1886h0M2020 1905h0M2014 1900h0M2056 1706h0M2090 1910h0M1993 1897h0M2015 1794h0M2116 1891h0M2002 1875h0M2123 1917h0M2105 1728h0M1996 1918h0M2115 1868h0M2114 1924h0M2120 1912h0M2015 1849h0M1988 1854h0M1981 1915h0M1988 1898h0M1999 1887h0M2031 1916h0M2121 1907h0M1980 1888h0M2095 1924h0M2013 1906h0M2096 1820h0M2122 1922h0M1985 1907h0M2111 1898h0M1976 1899h0M2087 1774h0M1984 1891h0M2023 1906h0M2053 1819h0M2091 1880h0M2078 1914h0M2013 1876h0M2079 1924h0M2018 1909h0M1989 1703h0M2025 1924h0M2065 1916h0M2087 1851h0M1973 1922h0M2031 1864h0M2102 1893h0M2094 1901h0M2085 1922h0M2024 1898h0M2001 1878h0M2072 1911h0M2032 1883h0M2022 1896h0M2074 1834h0M2064 1893h0M2072 1896h0M2078 1884h0M2046 1924h0M1998 1882h0M2104 1734h0M2123 1921h0M1987 1879h0M2079 1697h0M1994 1760h0M2047 1910h0M2091 1893h0M2072 1875h0M2114 1838h0M2051 1924h0M2123 1899h0M1996 1805h0M2019 1920h0M2111 1924h0M2001 1895h0M2119 1765h0M2005 1882h0M2018 1919h0M2108 1868h0M2095 1841h0M2096 1828h0M2096 1879h0M2113 1882h0M1988 1793h0M2007 1812h0M2057 1840h0M2047 1895h0M2121 1872h0M2085 1878h0M2063 1914h0M2084 1923h0M1974 1913h0M1997 1826h0M2098 1891h0M1990 1848h0M2100 1873h0M2016 1879h0M2023 1802h0M1974 1901h0M2108 1859h0M2010 1827h0M1987 1707h0M1987 1759h0M2019 1842h0M2020 1885h0M1963 1897h0M2084 1859h0M2080 1862h0M2102 1921h0M2117 1882h0M2062 1924h0M1966 1827h0M2122 1907h0M2101 1916h0M2003 1848h0M2119 1880h0M2117 1889h0M2099 1920h0M2055 1857h0M2029 1896h0M2072 1822h0M2006 1811h0M2032 1863h0M1997 1828h0M2054 1916h0M2115 1794h0M2120 1835h0M2091 1837h0M2097 1865h0M2042 1922h0M2030 1860h0M2026 1857h0M1985 1789h0M2064 1913h0M2070 1923h0M2000 1904h0M2012 1812h0M2072 1883h0M2032 1915h0M2118 1804h0M2104 1836h0M2028 1914h0M2016 1893h0M2097 1909h0M2045 1887h0M1996 1921h0M2009 1918h0M2102 1735h0M2033 1882h0M2013 1873h0M2000 1854h0M2017 1818h0M2056 1916h0M1969 1888h0M2024 1924h0M2026 1895h0M2036 1842h0M2104 1711h0M2020 1878h0M2048 1873h0M2092 1924h0M2067 1884h0M2055 1900h0M2050 1852h0M2004 1807h0M2088 1847h0M2027 1924h0M2007 1923h0M2122 1849h0M2050 1880h0M2087 1878h0M1978 1884h0M1964 1883h0M2027 1902h0M2104 1850h0M2063 1849h0M2019 1924h0M1982 1782h0M1975 1911h0M1979 1880h0M2076 1872h0M2072 1923h0M2047 1870h0M2048 1924h0M2113 1740h0M1973 1918h0M2011 1830h0M2014 1891h0M2040 1857h0M2059 1868h0M1987 1856h0M2121 1848h0M1975 1855h0M2000 1827h0M2043 1767h0M2087 1859h0M2123 1884h0M2013 1911h0M2020 1877h0M2107 1829h0M2123 1910h0M2044 1659h0M2073 1738h0M2056 1846h0M2005 1876h0M2121 1867h0M2088 1784h0M2119 1852h0M2111 1851h0M1963 1888h0M1987 1781h0M2086 1820h0M1997 1915h0M1981 1806h0M1994 1734h0M2033 1874h0M2085 1874h0M2031 1889h0M2007 1924h0M2002 1921h0M1984 1798h0M1974 1878h0M2104 1749h0M2014 1869h0M1999 1838h0M2104 1800h0M2012 1831h0M2061 1875h0M2020 1873h0M1986 1722h0M2075 1716h0M2095 1869h0M1978 1807h0M2119 1824h0M2123 1914h0M2041 1922h0M1972 1823h0M2115 1924h0M2004 1845h0M2054 1819h0M2059 1876h0M2016 1847h0M1974 1911h0M2086 1844h0M2045 1911h0M2009 1844h0M2030 1709h0M2098 1839h0M2056 1899h0M2033 1842h0M2033 1909h0M2065 1873h0M2048 1909h0M2068 1865h0M2102 1742h0M1976 1862h0M2001 1810h0M2080 1836h0M2033 1763h0M1969 1867h0M2039 1888h0M1991 1920h0M2038 1909h0M2073 1724h0M1966 1858h0M2073 1831h0M2096 1864h0M2062 1904h0M2100 1924h0M2004 1907h0M2123 1906h0M2066 1924h0M2065 1863h0M1988 1823h0M2082 1924h0M1996 1842h0M2084 1820h0M2005 1768h0M2060 1879h0M2023 1841h0M2098 1851h0M2094 1826h0M2060 1892h0M2076 1830h0M2121 1877h0M2078 1778h0M2034 1819h0M2014 1866h0M2123 1909h0M2101 1819h0M2057 1834h0M1964 1920h0M2000 1830h0M1981 1803h0M2008 1806h0M2101 1924h0M2070 1826h0M1992 1815h0M2061 1908h0M2002 1839h0M2112 1807h0M2000 1924h0M2080 1852h0M2048 1900h0M2030 1863h0M1971 1849h0M2044 1894h0M1978 1823h0M1970 1913h0M2089 1830h0M2069 1823h0M2068 1845h0M2030 1844h0M1971 1922h0M2047 1801h0M2058 1807h0M2039 1831h0M1986 1735h0M2072 1857h0M2035 1814h0M2030 1724h0M2041 1875h0M2051 1807h0M2087 1815h0M2086 1794h0M2114 1756h0M2052 1790h0M1969 1914h0M1975 1838h0M2003 1783h0M2031 1792h0M2039 1841h0M2120 1830h0M2093 1855h0M2041 1923h0M1981 1857h0M2031 1821h0M1979 1814h0M2076 1759h0M2077 1736h0M2123 1919h0M2113 1731h0M1983 1786h0M1993 1922h0M2079 1724h0M2118 1924h0M2030 1869h0M2009 1823h0M2096 1859h0M2037 1870h0M2104 1785h0M1963 1885h0M2049 1847h0M2102 1808h0M2002 1853h0M1988 1892h0M2112 1819h0M2011 1872h0M2123 1840h0M2121 1860h0M1994 1839h0M2086 1804h0M2122 1871h0M2080 1739h0M1970 1907h0M2017 1857h0M2075 1739h0M2064 1747h0M1963 1863h0M2026 1863h0M2031 1849h0M2104 1754h0M2067 1924h0M2023 1775h0M2063 1828h0M1997 1853h0M2058 1840h0M2091 1803h0M2038 1906h0M1992 1802h0M2032 1736h0M2123 1789h0M2011 1804h0M2118 1773h0M1964 1894h0M2102 1842h0M2109 1793h0M1995 1808h0M2112 1839h0M2003 1781h0M2007 1804h0M1970 1839h0M2014 1809h0M2023 1797h0M2029 1758h0M1981 1867h0M1993 1832h0M2110 1924h0M1990 1832h0M2004 1858h0M2105 1767h0M2122 1862h0M2049 1814h0M2037 1852h0M1990 1879h0M2122 1870h0M2008 1863h0M2050 1843h0M2073 1771h0M2117 1815h0M2111 1787h0M2122 1834h0M2048 1804h0M2048 1739h0M2106 1923h0M2123 1912h0M2123 1922h0M2058 1817h0M2078 1761h0M2114 1814h0M2099 1924h0M1963 1878h0M2004 1868h0M1992 1794h0M2038 1837h0M1991 1781h0M2032 1814h0M2083 1799h0M1977 1766h0M2122 1830h0M1997 1863h0M2018 1923h0M1983 1875h0M2070 1832h0M2074 1765h0M1980 1826h0M2119 1811h0M2123 1901h0M2006 1883h0M2032 1733h0M2049 1839h0M1990 1922h0M1993 1696h0M2061 1803h0M2087 1777h0M2003 1818h0M2099 1756h0M2119 1794h0M2097 1924h0M2111 1784h0M1972 1845h0M1988 1751h0M1996 1797h0M2104 1758h0M1986 1664h0M2103 1708h0M1990 1857h0M1964 1866h0M1982 1864h0M1985 1845h0M2076 1744h0M1965 1869h0M1985 1839h0M2012 1832h0M2012 1828h0M1985 1792h0M2122 1826h0M1985 1869h0M1990 1781h0M2110 1776h0M2017 1828h0M2058 1802h0M2087 1784h0M1963 1874h0M1978 1813h0M1971 1827h0M1984 1704h0M2122 1865h0M2123 1902h0M2010 1924h0M2123 1806h0M2354 1261h0M2354 1373h0M2419 1446h0M2433 1449h0M2466 1469h0M2377 1499h0M2377 1515h0M2400 1543h0M2419 1568h0M2434 1560h0M2434 1570h0M2466 1584h0M2336 1602h0M2336 1630h0M2372 1611h0M2376 1642h0M2372 1676h0M2433 1610h0M2459 1601h0M2464 1617h0M2356 1644h0M2356 1659h0M2457 1644h0M2461 1653h0M2467 1655h0M2459 1668h0M2459 1682h0M2409 1662h0M2410 1676h0M2412 1688h0M2412 1697h0M2356 1689h0M2354 1698h0M2343 1710h0M2366 1704h0M2373 1714h0M2330 1724h0M2432 1689h0M2442 1692h0M2433 1710h0M2447 1707h0M2411 1707h0M2407 1718h0M2412 1730h0M2386 1721h0M2382 1733h0M2441 1723h0M2444 1742h0M2467 1691h0M2467 1716h0M2460 1734h0M2464 1742h0M2426 1882h0M2383 1923h0M2364 1906h0M2383 1912h0M2437 1886h0M2477 1900h0M2475 1910h0M2442 1888h0M2350 1918h0M2418 1916h0M2457 1913h0M2382 1824h0M2444 1918h0M2389 1701h0M2437 1905h0M2395 1908h0M2391 1887h0M2455 1886h0M2389 1854h0M2466 1851h0M2399 1893h0M2401 1873h0M2464 1767h0M2443 1877h0M2474 1865h0M2405 1873h0M2404 1923h0M2438 1919h0M2421 1920h0M2417 1880h0M2438 1861h0M2457 1865h0M2394 1768h0M2358 1924h0M2475 1906h0M2474 1914h0M2444 1924h0M2430 1897h0M2389 1873h0M2445 1924h0M2368 1839h0M2446 1884h0M2475 1878h0M2474 1920h0M2363 1919h0M2391 1892h0M2441 1864h0M2449 1863h0M2367 1903h0M2405 1863h0M2345 1816h0M2466 1920h0M2379 1886h0M2393 1863h0M2458 1901h0M2430 1912h0M2475 1889h0M2391 1886h0M2445 1918h0M2422 1859h0M2471 1914h0M2470 1899h0M2400 1917h0M2379 1924h0M2395 1814h0M2403 1919h0M2449 1880h0M2433 1892h0M2392 1923h0M2376 1807h0M2389 1895h0M2400 1779h0M2367 1919h0M2388 1852h0M2407 1867h0M2378 1854h0M2365 1912h0M2360 1872h0M2392 1896h0M2473 1924h0M2391 1905h0M2476 1854h0M2360 1857h0M2405 1923h0M2363 1857h0M2379 1911h0M2469 1893h0M2364 1880h0M2441 1870h0M2367 1897h0M2401 1893h0M2381 1878h0M2454 1900h0M2360 1877h0M2477 1857h0M2393 1882h0M2409 1850h0M2454 1907h0M2398 1781h0M2376 1923h0M2460 1835h0M2363 1916h0M2431 1910h0M2464 1806h0M2426 1923h0M2386 1888h0M2391 1911h0M2409 1897h0M2394 1907h0M2476 1905h0M2411 1923h0M2399 1898h0M2447 1906h0M2404 1845h0M2445 1831h0M2388 1870h0M2387 1902h0M2354 1914h0M2478 1897h0M2477 1910h0M2468 1834h0M2436 1879h0M2389 1858h0M2447 1909h0M2409 1870h0M2382 1924h0M2402 1915h0M2377 1876h0M2388 1844h0M2457 1919h0M2402 1903h0M2360 1874h0M2409 1916h0M2427 1901h0M2404 1879h0M2426 1804h0M2373 1817h0M2387 1923h0M2387 1870h0M2433 1912h0M2376 1869h0M2447 1822h0M2403 1912h0M2439 1920h0M2426 1757h0M2454 1894h0M2458 1900h0M2370 1923h0M2375 1864h0M2377 1809h0M2389 1924h0M2408 1838h0M2410 1860h0M2442 1775h0M2454 1918h0M2430 1896h0M2373 1844h0M2377 1924h0M2424 1731h0M2390 1924h0M2447 1890h0M2399 1922h0M2347 1885h0M2463 1861h0M2442 1762h0M2400 1890h0M2437 1832h0M2452 1893h0M2379 1908h0M2398 1922h0M2431 1788h0M2442 1896h0M2460 1892h0M2382 1842h0M2462 1880h0M2412 1884h0M2366 1902h0M2451 1869h0M2367 1860h0M2374 1818h0M2410 1888h0M2475 1880h0M2430 1805h0M2385 1858h0M2374 1907h0M2477 1765h0M2452 1851h0M2425 1884h0M2337 1908h0M2454 1725h0M2403 1923h0M2415 1885h0M2438 1922h0M2466 1850h0M2399 1838h0M2465 1912h0M2380 1897h0M2359 1904h0M2464 1879h0M2432 1880h0M2413 1909h0M2364 1865h0M2458 1865h0M2447 1685h0M2429 1892h0M2443 1924h0M2440 1873h0M2342 1878h0M2398 1714h0M2393 1805h0M2404 1803h0M2379 1786h0M2456 1872h0M2421 1903h0M2436 1867h0M2465 1817h0M2416 1876h0M2370 1831h0M2411 1792h0M2459 1849h0M2360 1859h0M2426 1875h0M2374 1827h0M2400 1847h0M2415 1852h0M2339 1860h0M2444 1862h0M2429 1791h0M2393 1862h0M2393 1813h0M2408 1859h0M2402 1794h0M2457 1852h0M2400 1815h0M2446 1853h0M2376 1897h0M2428 1908h0M2452 1813h0M2428 1889h0M2369 1857h0M2347 1903h0M2447 1924h0M2474 1880h0M2357 1893h0M2447 1774h0M2451 1801h0M2476 1857h0M2398 1857h0M2464 1886h0M2406 1834h0M2352 1914h0M2362 1896h0M2449 1747h0M2350 1832h0M2411 1897h0M2375 1895h0M2459 1919h0M2427 1924h0M2442 1840h0M2474 1836h0M2457 1872h0M2432 1873h0M2413 1843h0M2341 1898h0M2418 1895h0M2428 1865h0M2413 1922h0M2428 1872h0M2476 1863h0M2349 1908h0M2425 1923h0M2447 1845h0M2470 1922h0M2386 1816h0M2405 1758h0M2426 1865h0M2444 1732h0M2413 1923h0M2398 1824h0M2344 1866h0M2359 1834h0M2423 1843h0M2375 1721h0M2477 1767h0M2477 1860h0M2355 1879h0M2386 1833h0M2424 1872h0M2334 1880h0M2464 1875h0M2419 1777h0M2448 1699h0M2466 1826h0M2331 1871h0M2471 1923h0M2478 1813h0M2424 1858h0M2461 1864h0M2384 1798h0M2394 1923h0M2437 1843h0M2423 1870h0M2429 1808h0M2472 1877h0M2338 1922h0M2466 1841h0M2360 1879h0M2444 1853h0M2452 1821h0M2378 1807h0M2336 1893h0M2375 1835h0M2380 1795h0M2364 1838h0M2367 1918h0M2411 1869h0M2467 1848h0M2445 1835h0M2477 1856h0M2478 1762h0M2429 1850h0M2379 1887h0M2402 1787h0M2377 1782h0M2419 1831h0M2396 1834h0M2413 1865h0M2371 1882h0M2344 1836h0M2450 1847h0M2381 1788h0M2466 1924h0M2344 1869h0M2373 1889h0M2369 1923h0M2446 1743h0M2429 1826h0M2361 1831h0M2392 1796h0M2390 1784h0M2430 1770h0M2450 1824h0M2474 1883h0M2446 1732h0M2423 1768h0M2342 1883h0M2468 1869h0M2375 1875h0M2349 1913h0M2478 1900h0M2370 1847h0M2476 1798h0M2432 1768h0M2459 1701h0M2378 1805h0M2430 1851h0M2415 1924h0M2476 1868h0M2429 1801h0M2446 1822h0M2368 1818h0M2447 1745h0M2445 1840h0M2466 1843h0M2441 1801h0M2475 1849h0M2370 1805h0M2422 1833h0M2342 1824h0M2476 1916h0M2478 1911h0M2411 1682h0M2473 1797h0M2363 1876h0M2337 1910h0M2371 1888h0M2447 1757h0M2411 1835h0M2397 1924h0M2340 1921h0M2433 1724h0M2436 1801h0M2349 1890h0M2364 1872h0M2434 1834h0M2448 1778h0M2338 1912h0M2370 1751h0M2359 1924h0M2466 1783h0M2477 1916h0M2461 1822h0M2387 1808h0M2356 1905h0M2344 1880h0M2418 1777h0M2475 1924h0M2399 1766h0M2429 1846h0M2331 1867h0M2421 1754h0M2459 1921h0M2356 1859h0M2357 1924h0M2402 1824h0M2475 1922h0M2462 1767h0M2376 1924h0M2454 1848h0M2399 1728h0M2428 1924h0M2379 1797h0M2430 1779h0M2357 1894h0M2441 1789h0M2399 1924h0M2453 1761h0M2452 1756h0M2465 1758h0M2446 1762h0M2453 1765h0M2447 1799h0M2471 1828h0M2476 1874h0M2425 1641h0M2359 1889h0M2462 1806h0M2439 1831h0M2356 1924h0M2437 1825h0M2399 1758h0M2424 1923h0M2383 1739h0M2401 1765h0M2436 1775h0M2452 1785h0M2445 1821h0M2455 1921h0M2477 1878h0M2431 1822h0M2331 1913h0M2444 1746h0M2378 1765h0M2443 1778h0M2448 1924h0M2335 1907h0M2410 1923h0M2449 1744h0M2341 1844h0M2399 1740h0M2477 1762h0M2426 1814h0M2385 1745h0M2411 1819h0M2360 1851h0M2337 1923h0M2469 1665h0M2467 1747h0M2450 1721h0M2361 1848h0M2409 1828h0M2401 1709h0M2344 1865h0M2344 1875h0M2436 1717h0M2348 1764h0M2448 1839h0M2447 1801h0M2477 1879h0M2372 1923h0M2439 1812h0M2343 1863h0M2378 1798h0M2477 1894h0M2343 1738h0M2429 1823h0M2465 1796h0M2382 1767h0M2467 1808h0M2377 1764h0M2449 1924h0M2441 1924h0M2378 1779h0M2440 1781h0M2465 1739h0M2468 1825h0M2447 1803h0M2469 1794h0M2391 1924h0M2384 1718h0M2434 1742h0M2363 1813h0M2458 1924h0M2348 1796h0M2355 1854h0M2459 1773h0M2814 1482h0M2693 1543h0M2738 1554h0M2738 1560h0M2764 1563h0M2693 1570h0M2710 1575h0M2814 1565h0M2814 1576h0M2814 1585h0M2814 1594h0M2691 1599h0M2688 1614h0M2691 1627h0M2690 1634h0M2691 1652h0M2681 1660h0M2723 1605h0M2737 1585h0M2737 1594h0M2737 1614h0M2737 1627h0M2784 1602h0M2768 1631h0M2814 1611h0M2812 1630h0M2824 1626h0M2822 1637h0M2808 1637h0M2814 1652h0M2814 1662h0M2814 1673h0M2784 1643h0M2783 1658h0M2792 1660h0M2802 1665h0M2736 1671h0M2724 1685h0M2732 1687h0M2753 1681h0M2749 1692h0M2756 1700h0M2688 1698h0M2707 1691h0M2781 1687h0M2823 1695h0M2806 1698h0M2812 1708h0M2824 1710h0M2696 1714h0M2707 1714h0M2770 1919h0M2761 1841h0M2751 1823h0M2731 1865h0M2760 1916h0M2825 1845h0M2787 1904h0M2732 1840h0M2751 1901h0M2816 1920h0M2781 1823h0M2680 1891h0M2757 1893h0M2778 1856h0M2741 1902h0M2777 1863h0M2696 1918h0M2759 1909h0M2793 1921h0M2776 1845h0M2715 1858h0M2740 1837h0M2751 1590h0M2755 1899h0M2788 1919h0M2748 1840h0M2727 1701h0M2725 1875h0M2725 1896h0M2721 1791h0M2680 1862h0M2716 1908h0M2726 1883h0M2750 1876h0M2733 1807h0M2761 1903h0M2752 1888h0M2745 1828h0M2735 1837h0M2788 1885h0M2730 1910h0M2731 1917h0M2741 1917h0M2685 1867h0M2794 1865h0M2761 1847h0M2742 1896h0M2731 1826h0M2688 1909h0M2730 1886h0M2731 1727h0M2747 1900h0M2732 1876h0M2748 1906h0M2750 1909h0M2778 1914h0M2762 1850h0M2784 1921h0M2747 1827h0M2738 1823h0M2740 1919h0M2769 1914h0M2755 1916h0M2754 1755h0M2820 1904h0M2755 1917h0M2794 1857h0M2756 1919h0M2680 1897h0M2776 1921h0M2682 1741h0M2731 1804h0M2691 1912h0M2773 1864h0M2718 1876h0M2774 1844h0M2759 1861h0M2733 1906h0M2736 1921h0M2710 1903h0M2781 1913h0M2803 1914h0M2729 1829h0M2807 1914h0M2684 1903h0M2770 1832h0M2780 1898h0M2807 1911h0M2707 1772h0M2751 1830h0M2711 1853h0M2763 1890h0M2696 1912h0M2773 1853h0M2816 1855h0M2733 1910h0M2790 1924h0M2762 1870h0M2731 1889h0M2764 1922h0M2722 1739h0M2690 1897h0M2814 1801h0M2681 1864h0M2743 1919h0M2817 1870h0M2757 1798h0M2681 1874h0M2764 1900h0M2819 1920h0M2783 1889h0M2702 1830h0M2786 1917h0M2760 1810h0M2760 1841h0M2760 1832h0M2680 1914h0M2714 1864h0M2817 1853h0M2747 1923h0M2779 1865h0M2737 1890h0M2753 1850h0M2680 1900h0M2796 1857h0M2735 1876h0M2793 1922h0M2731 1915h0M2784 1785h0M2800 1918h0M2775 1911h0M2767 1869h0M2737 1758h0M2725 1782h0M2759 1871h0M2760 1866h0M2729 1901h0M2691 1908h0M2794 1866h0M2729 1845h0M2817 1910h0M2730 1759h0M2779 1815h0M2779 1906h0M2768 1904h0M2777 1730h0M2702 1923h0M2712 1874h0M2686 1922h0M2753 1794h0M2698 1893h0M2758 1921h0M2767 1768h0M2800 1889h0M2682 1781h0M2685 1882h0M2766 1845h0M2744 1894h0M2786 1913h0M2697 1864h0M2686 1841h0M2733 1884h0M2711 1857h0M2815 1919h0M2692 1924h0M2766 1873h0M2758 1800h0M2818 1863h0M2751 1887h0M2734 1883h0M2729 1870h0M2738 1860h0M2812 1920h0M2696 1914h0M2812 1901h0M2751 1885h0M2706 1922h0M2741 1808h0M2732 1640h0M2680 1840h0M2682 1892h0M2716 1912h0M2819 1855h0M2788 1849h0M2709 1754h0M2726 1873h0M2803 1885h0M2813 1886h0M2681 1907h0M2786 1871h0M2681 1860h0M2824 1899h0M2779 1921h0M2745 1869h0M2810 1840h0M2810 1906h0M2728 1909h0M2739 1924h0M2785 1890h0M2732 1837h0M2818 1916h0M2808 1788h0M2700 1872h0M2682 1850h0M2685 1817h0M2771 1869h0M2815 1838h0M2759 1762h0M2765 1859h0M2725 1923h0M2685 1922h0M2800 1924h0M2751 1871h0M2714 1877h0M2750 1884h0M2728 1865h0M2691 1594h0M2775 1890h0M2801 1779h0M2803 1796h0M2751 1870h0M2813 1891h0M2680 1907h0M2756 1821h0M2682 1881h0M2760 1792h0M2699 1848h0M2787 1886h0M2788 1890h0M2734 1730h0M2801 1757h0M2768 1790h0M2750 1658h0M2749 1868h0M2731 1853h0M2688 1852h0M2746 1840h0M2680 1879h0M2717 1912h0M2783 1642h0M2778 1896h0M2800 1914h0M2737 1883h0M2803 1793h0M2817 1896h0M2724 1910h0M2689 1885h0M2784 1789h0M2725 1919h0M2791 1839h0M2704 1762h0M2691 1906h0M2682 1823h0M2764 1879h0M2731 1869h0M2789 1741h0M2813 1798h0M2819 1918h0M2714 1853h0M2731 1832h0M2787 1879h0M2694 1910h0M2750 1922h0M2760 1878h0M2791 1908h0M2760 1780h0M2707 1921h0M2708 1921h0M2789 1924h0M2714 1921h0M2781 1877h0M2680 1838h0M2749 1854h0M2807 1891h0M2732 1923h0M2709 1795h0M2821 1892h0M2762 1760h0M2693 1873h0M2785 1828h0M2811 1898h0M2730 1924h0M2761 1752h0M2816 1813h0M2786 1850h0M2684 1857h0M2699 1912h0M2759 1814h0M2748 1864h0M2817 1887h0M2681 1743h0M2684 1924h0M2773 1870h0M2769 1824h0M2820 1880h0M2717 1923h0M2731 1797h0M2759 1816h0M2704 1885h0M2714 1911h0M2695 1821h0M2763 1896h0M2783 1832h0M2785 1901h0M2700 1877h0M2765 1889h0M2751 1702h0M2781 1808h0M2709 1921h0M2742 1813h0M2732 1738h0M2719 1908h0M2681 1844h0M2693 1908h0M2732 1853h0M2696 1923h0M2703 1914h0M2784 1838h0M2720 1757h0M2807 1924h0M2713 1903h0M2732 1703h0M2820 1739h0M2695 1901h0M2740 1856h0M2685 1865h0M2746 1878h0M2799 1887h0M2728 1732h0M2779 1884h0M2820 1912h0M2710 1888h0M2681 1752h0M2793 1698h0M2763 1770h0M2798 1881h0M2764 1886h0M2817 1785h0M2813 1867h0M2782 1866h0M2749 1653h0M2731 1772h0M2758 1922h0M2752 1922h0M2725 1709h0M2789 1801h0M2680 1837h0M2682 1819h0M2733 1679h0M2814 1753h0M2815 1763h0M2762 1697h0M2821 1906h0M2691 1880h0M2728 1860h0M2785 1899h0M2771 1874h0M2709 1819h0M2805 1798h0M2778 1923h0M2740 1764h0M2726 1761h0M2721 1902h0M2824 1893h0M2766 1684h0M2795 1896h0M2766 1888h0M2741 1855h0M2816 1832h0M2790 1799h0M2746 1814h0M2777 1922h0M2711 1828h0M2785 1760h0M2697 1923h0M2697 1826h0M2795 1758h0M2767 1921h0M2690 1827h0M2750 1923h0M2680 1890h0M2787 1831h0M2738 1924h0M2739 1729h0M2786 1811h0M2682 1923h0M2809 1811h0M2800 1912h0M2727 1833h0M2741 1797h0M2815 1858h0M2814 1876h0M2762 1923h0M2705 1909h0M2772 1924h0M2680 1876h0M2728 1823h0M2709 1875h0M2731 1821h0M2782 1786h0M2680 1912h0M2743 1801h0M2729 1711h0M2681 1922h0M2684 1835h0M2698 1854h0M2794 1826h0M2687 1864h0M2688 1831h0M2766 1923h0M2815 1837h0M2812 1783h0M2802 1832h0M2680 1889h0M2749 1849h0M2697 1903h0M2690 1924h0M2686 1860h0M2808 1895h0M2708 1768h0M2811 1859h0M2680 1893h0M2690 1799h0M2680 1918h0M2680 1887h0M2817 1717h0M2761 1923h0M2792 1805h0M2730 1851h0M2771 1840h0M2810 1903h0M2809 1684h0M2815 1831h0M2785 1852h0M2689 1802h0M2795 1908h0M2698 1894h0M2814 1841h0M2711 1888h0M2729 1851h0M2680 1905h0M2761 1755h0M2795 1874h0M2822 1881h0M2816 1818h0M2681 1815h0M2733 1924h0M2680 1848h0M2723 1716h0M2725 1814h0M2725 1771h0M2812 1878h0M2782 1922h0M2802 1901h0M2809 1863h0M2761 1818h0M2778 1882h0M2802 1761h0M2823 1915h0M2816 1849h0M2759 1782h0M2781 1863h0M2743 1710h0M2729 1842h0M2813 1807h0M2817 1834h0M2787 1797h0M2680 1851h0M2784 1924h0M2825 1920h0M2761 1803h0M2681 1858h0M2693 1924h0M2816 1921h0M2785 1814h0M2714 1895h0M2711 1898h0M2814 1857h0M2729 1846h0M2788 1776h0M2680 1910h0M2715 1923h0M2727 1743h0M2751 1791h0M2701 1871h0M2791 1860h0M2792 1924h0M2819 1866h0M2696 1780h0M2746 1735h0M2740 1841h0M2728 1756h0M2809 1777h0M2739 1820h0M2680 1845h0M2749 1700h0M2825 1832h0M2810 1720h0M2825 1919h0M2682 1832h0M2698 1769h0M2753 1803h0M2778 1789h0M2730 1780h0M2698 1839h0M2812 1871h0M2808 1806h0M2824 1906h0M2765 1924h0M2825 1812h0M2720 1888h0M2732 1850h0M2760 1794h0M2784 1788h0M2701 1815h0M2824 1922h0M2690 1846h0M2810 1873h0M2702 1784h0M2741 1706h0M2684 1809h0M2763 1716h0M2693 1792h0M2790 1763h0M2788 1924h0M2702 1762h0M2825 1844h0M2726 1860h0M2681 1872h0M2782 1781h0M2729 1787h0M2808 1815h0M2821 1876h0M2804 1884h0M2746 1923h0M2722 1744h0M2727 1924h0M2786 1788h0M2738 1742h0M2753 1784h0M2805 1803h0M2750 1786h0M2796 1871h0M2735 1639h0M2680 1880h0M2710 1859h0M2813 1849h0M2762 1802h0M2747 1732h0M2732 1748h0M2786 1803h0M2799 1770h0M2805 1868h0M2706 1867h0M2797 1748h0M2808 1858h0M2748 1792h0M2714 1866h0M2817 1764h0M2762 1782h0M2688 1752h0M2729 1717h0M2750 1770h0M2738 1696h0M2703 1752h0M2722 1854h0M2697 1744h0M2703 1794h0M2697 1924h0M2824 1912h0M2814 1768h0M2794 1759h0M2736 1777h0M2821 1862h0M2712 1825h0M2683 1829h0M2764 1799h0M2699 1766h0M2775 1836h0M2821 1874h0M2751 1923h0M2750 1736h0M2741 1754h0M2794 1850h0M2688 1761h0M2701 1735h0M2681 1857h0M2760 1775h0M2683 1779h0M2700 1755h0M2761 1744h0M2735 1677h0M2761 1704h0M2753 1923h0M2791 1773h0M2680 1858h0M2749 1715h0M2808 1813h0M2760 1715h0M2752 1782h0M2708 1800h0M2680 1870h0M2804 1806h0M2796 1846h0M2709 1792h0M2732 1785h0M2803 1771h0M2742 1713h0M2759 1736h0M2803 1831h0M2793 1841h0M2753 1745h0M2680 1859h0M2688 1817h0M2825 1897h0M2802 1784h0M2695 1924h0M2789 1793h0M2794 1839h0M2788 1827h0M2744 1924h0M2741 1760h0M2785 1769h0M2699 1843h0M2711 1797h0M2732 1666h0M2822 1879h0M2760 1815h0M2779 1808h0M2738 1766h0M2751 1779h0M2800 1781h0M2776 1924h0M2763 1736h0M2688 1751h0M2803 1876h0M2726 1702h0M2734 1635h0M2778 1815h0M2815 1829h0M2680 1619h0M2766 1782h0M2806 1825h0M2762 1748h0M2761 1616h0M2726 1820h0M2753 1729h0M2732 1794h0M2753 1710h0M2786 1773h0M2682 1831h0M2780 1794h0M2719 1793h0M2725 1832h0M2680 1920h0M2785 1924h0M2725 1852h0M2723 1847h0M2791 1740h0M2753 1726h0M2733 1688h0M2802 1732h0M2799 1827h0M2770 1824h0M2741 1751h0M2743 1766h0M2811 1712h0M2681 1924h0M2825 1912h0M2751 1774h0M2779 1923h0M2680 1864h0M2815 1772h0M2702 1807h0M2710 1922h0M2742 1720h0M2778 1814h0M2680 1901h0M2765 1702h0M2825 1921h0M2824 1826h0M2803 1839h0M2680 1904h0M2762 1634h0M2725 1673h0M2696 1626h0M2735 1791h0M2825 1864h0M2685 1737h0M2732 1606h0M2798 1857h0M2811 1855h0M2773 1729h0M2696 1807h0M2726 1823h0M2800 1847h0M2790 1729h0M2721 1721h0M2735 1641h0M2681 1746h0M2747 1758h0M2794 1734h0M2680 1921h0M2790 1755h0M2804 1822h0M2755 1923h0M2824 1821h0M2680 1917h0M2801 1792h0M2681 1799h0M2825 1907h0M2754 1683h0M2710 1791h0M2680 1810h0M2790 1789h0M2823 1868h0M2766 1770h0M2707 1922h0M2680 1750h0M2824 1834h0M2814 1774h0M2751 1675h0M2751 1743h0M2743 1776h0M2779 1754h0M2699 1707h0M2782 1924h0M2680 1818h0M2719 1751h0M2771 1818h0M2734 1924h0M2705 1923h0M2815 1802h0M2699 1841h0M2766 1701h0M2681 1764h0M2790 1788h0M2750 1652h0M2684 1779h0M2800 1714h0M2735 1681h0M2814 1923h0M2824 1892h0M2755 1723h0M2680 1873h0M2820 1778h0M2708 1770h0M2684 1733h0M2825 1843h0M2682 1742h0M2789 1752h0M2680 1894h0M2695 1801h0M2734 1589h0M2724 1725h0M2718 1851h0M2742 1693h0M2749 1782h0M2797 1742h0M2724 1806h0M2822 1878h0M2750 1650h0M2680 1785h0M2736 1596h0M2689 1769h0M2773 1924h0M2729 1839h0M2751 1689h0M2794 1705h0M2745 1924h0M2785 1825h0M2822 1882h0M2709 1838h0M2680 1882h0M2680 1811h0M2761 1692h0M2713 1923h0M2710 1811h0M3080 1272h0M3106 1346h0M3107 1404h0M3106 1443h0M3106 1447h0M3107 1523h0M3111 1579h0M3106 1595h0M3046 1620h0M3075 1642h0M3086 1646h0M3080 1653h0M3081 1668h0M3077 1675h0M3111 1653h0M3111 1684h0M3038 1692h0M3029 1698h0M3029 1704h0M3076 1695h0M3087 1694h0M3076 1705h0M3107 1721h0M3029 1721h0M3044 1732h0M3029 1737h0M3035 1750h0M3068 1736h0M3083 1714h0M3091 1721h0M3086 1736h0M3045 1765h0M3035 1772h0M3028 1781h0M3118 1750h0M3073 1916h0M3087 1919h0M3083 1900h0M3048 1923h0M3088 1873h0M3110 1900h0M3113 1700h0M3032 1894h0M3085 1901h0M3123 1881h0M3098 1914h0M3108 1705h0M3044 1829h0M3122 1734h0M3105 1880h0M3112 1840h0M3110 1879h0M3040 1901h0M3101 1902h0M3085 1907h0M3123 1913h0M3120 1905h0M3065 1902h0M3102 1889h0M3100 1914h0M3072 1918h0M3087 1774h0M3063 1832h0M3045 1842h0M3032 1856h0M3074 1870h0M3098 1916h0M3120 1907h0M3072 1866h0M3098 1896h0M3071 1830h0M3113 1882h0M3114 1889h0M3113 1902h0M3090 1916h0M3107 1910h0M3102 1852h0M3113 1918h0M3072 1919h0M3071 1873h0M3041 1912h0M3085 1872h0M3115 1824h0M3118 1804h0M3086 1919h0M3075 1872h0M3067 1892h0M3071 1923h0M3087 1873h0M3110 1702h0M3105 1889h0M3107 1835h0M3090 1919h0M3037 1855h0M3089 1893h0M3087 1818h0M3073 1903h0M3104 1865h0M3043 1894h0M3051 1867h0M3090 1907h0M3087 1850h0M3118 1737h0M3103 1875h0M3078 1888h0M3089 1890h0M3081 1923h0M3041 1923h0M3088 1882h0M3107 1915h0M3106 1924h0M3064 1906h0M3095 1889h0M3094 1815h0M3115 1921h0M3047 1817h0M3057 1859h0M3117 1829h0M3109 1835h0M3032 1876h0M3072 1916h0M3116 1899h0M3070 1917h0M3042 1885h0M3093 1858h0M3116 1896h0M3091 1923h0M3071 1908h0M3033 1917h0M3031 1903h0M3061 1920h0M3086 1861h0M3099 1851h0M3094 1808h0M3105 1829h0M3083 1912h0M3038 1846h0M3084 1923h0M3062 1852h0M3123 1901h0M3067 1921h0M3109 1780h0M3094 1852h0M3077 1874h0M3116 1821h0M3121 1908h0M3117 1882h0M3088 1863h0M3030 1855h0M3028 1858h0M3122 1831h0M3076 1891h0M3098 1923h0M3039 1923h0M3031 1922h0M3056 1908h0M3109 1872h0M3077 1878h0M3048 1847h0M3108 1691h0M3068 1712h0M3115 1864h0M3066 1895h0M3121 1784h0M3046 1898h0M3030 1899h0M3085 1838h0M3122 1914h0M3108 1671h0M3117 1890h0M3046 1921h0M3111 1921h0M3105 1775h0M3057 1914h0M3116 1867h0M3055 1921h0M3095 1814h0M3089 1658h0M3072 1813h0M3097 1874h0M3113 1864h0M3034 1923h0M3069 1874h0M3057 1868h0M3103 1832h0M3070 1865h0M3089 1667h0M3100 1833h0M3108 1744h0M3050 1844h0M3090 1792h0M3068 1887h0M3120 1806h0M3033 1913h0M3072 1861h0M3088 1834h0M3042 1715h0M3073 1839h0M3117 1870h0M3120 1898h0M3108 1815h0M3119 1892h0M3093 1865h0M3108 1924h0M3101 1880h0M3032 1857h0M3067 1888h0M3032 1887h0M3120 1852h0M3095 1924h0M3116 1810h0M3088 1776h0M3052 1900h0M3123 1911h0M3117 1835h0M3111 1804h0M3095 1697h0M3081 1924h0M3070 1790h0M3042 1914h0M3086 1836h0M3037 1881h0M3121 1778h0M3121 1885h0M3031 1727h0M3122 1888h0M3122 1906h0M3123 1899h0M3051 1905h0M3033 1872h0M3095 1824h0M3043 1758h0M3114 1703h0M3108 1785h0M3121 1919h0M3118 1872h0M3108 1848h0M3086 1869h0M3048 1694h0M3088 1924h0M3117 1922h0M3083 1849h0M3088 1759h0M3105 1781h0M3070 1924h0M3073 1807h0M3073 1924h0M3068 1854h0M3032 1717h0M3115 1851h0M3117 1863h0M3116 1847h0M3114 1792h0M3074 1863h0M3028 1720h0M3031 1885h0M3046 1808h0M3086 1830h0M3110 1843h0M3098 1924h0M3106 1849h0M3081 1852h0M3029 1906h0M3106 1852h0M3116 1923h0M3062 1754h0M3082 1759h0M3075 1845h0M3068 1883h0M3123 1826h0M3064 1900h0M3119 1923h0M3093 1839h0M3093 1779h0M3121 1773h0M3031 1920h0M3030 1889h0M3087 1828h0M3060 1920h0M3034 1877h0M3063 1896h0M3119 1861h0M3039 1883h0M3067 1851h0M3067 1857h0M3069 1923h0M3063 1851h0M3036 1696h0M3120 1758h0M3070 1767h0M3083 1924h0M3122 1874h0M3063 1863h0M3069 1829h0M3092 1801h0M3123 1776h0M3093 1789h0M3088 1778h0M3122 1862h0M3044 1801h0M3074 1818h0M3110 1732h0M3062 1888h0M3028 1921h0M3029 1885h0M3121 1868h0M3112 1780h0M3049 1877h0M3123 1894h0M3034 1850h0M3037 1923h0M3054 1862h0M3073 1795h0M3056 1878h0M3113 1658h0M3070 1694h0M3041 1789h0M3103 1835h0M3123 1883h0M3065 1850h0M3087 1801h0M3074 1767h0M3117 1811h0M3104 1819h0M3090 1783h0M3075 1830h0M3101 1923h0M3031 1713h0M3100 1846h0M3108 1720h0M3028 1734h0M3031 1754h0M3029 1726h0M3085 1773h0M3031 1916h0M3068 1847h0M3103 1664h0M3122 1836h0M3047 1811h0M3116 1797h0M3121 1694h0M3084 1773h0M3122 1761h0M3032 1724h0M3073 1792h0M3028 1916h0M3121 1796h0M3123 1848h0M3051 1924h0M3038 1861h0M3122 1824h0M3104 1924h0M3042 1768h0M3061 1801h0M3050 1905h0M3071 1800h0M3046 1755h0M3121 1922h0M3045 1835h0M3122 1871h0M3053 1845h0M3080 1761h0M3123 1916h0M3086 1924h0M3110 1797h0M3068 1924h0M3093 1784h0M3084 1817h0M3117 1813h0M3119 1757h0M3070 1808h0M3033 1799h0M3105 1816h0M3120 1815h0M3121 1769h0M3044 1857h0M3115 1923h0M3089 1805h0M3042 1776h0M3123 1803h0M3047 1923h0M3122 1854h0M3028 1856h0M3033 1865h0M3107 1811h0M3122 1789h0M3040 1878h0M3046 1756h0M3065 1842h0M3114 1657h0M3029 1786h0M3058 1886h0M3089 1794h0M3072 1827h0M3123 1918h0M3070 1751h0M3123 1833h0M3069 1757h0M3062 1922h0M3030 1923h0M3052 1815h0M3087 1797h0M3075 1777h0M3122 1890h0M3065 1923h0M3123 1909h0M3061 1889h0M3045 1812h0M3071 1782h0M3118 1924h0M3030 1758h0M3069 1812h0M3123 1887h0M3042 1860h0M3114 1757h0M3031 1923h0M3123 1743h0M3106 1699h0M3102 1924h0M3050 1891h0M3028 1910h0M3038 1924h0M3101 1812h0M3097 1798h0M3028 1922h0M3043 1792h0M3074 1777h0M3075 1780h0M3105 1768h0M3094 1924h0M3113 1779h0M3091 1680h0M3072 1800h0M3043 1790h0M3036 1866h0M3031 1866h0M3032 1879h0M3104 1726h0M3032 1831h0M3085 1687h0M3090 1702h0M3112 1923h0M3123 1904h0M3113 1767h0M3074 1801h0M3070 1826h0M3030 1863h0M3121 1841h0M3063 1814h0M3070 1796h0M3123 1758h0M3028 1901h0M3047 1841h0M3103 1701h0M3123 1907h0M3065 1731h0M3113 1749h0M3107 1683h0M3094 1787h0M3043 1840h0M3073 1827h0M3028 1917h0M3123 1884h0M3121 1815h0M3060 1845h0M3112 1665h0M3032 1875h0M3123 1765h0M3097 1720h0M3030 1871h0M3123 1780h0M3050 1924h0M3103 1761h0M3123 1854h0M3123 1769h0M3112 1624h0M3123 1873h0M3046 1758h0M3094 1793h0M3089 1637h0M3087 1785h0M3089 1688h0M3121 1753h0M3070 1697h0M3122 1868h0M3031 1894h0M3123 1875h0M3117 1714h0M3042 1835h0M3123 1851h0M3042 1828h0M3123 1822h0M3029 1865h0M3109 1796h0M3096 1774h0M3076 1810h0M3054 1728h0M3084 1825h0M3036 1698h0M3122 1861h0M3040 1777h0M3102 1746h0M3064 1780h0M3122 1755h0M3103 1797h0M3108 1719h0M3031 1879h0M3104 1783h0M3099 1640h0M3123 1859h0M3032 1782h0M3101 1768h0M3122 1804h0M3070 1762h0M3059 1738h0M3112 1732h0M3095 1749h0M3116 1681h0M3044 1832h0M3106 1748h0M3030 1832h0M3065 1773h0M3087 1791h0M3106 1698h0M3090 1674h0M3123 1922h0M3107 1807h0M3077 1924h0M3104 1794h0M3089 1738h0M3112 1716h0M3033 1808h0M3069 1820h0M3034 1829h0M3071 1741h0M3043 1867h0M3031 1825h0M3089 1651h0M3062 1923h0M3046 1855h0M3103 1742h0M3095 1770h0M3028 1880h0M3031 1692h0M3107 1672h0M3052 1858h0M3371 1505h0M3371 1517h0M3379 1537h0M3371 1550h0M3379 1550h0M3322 1581h0M3322 1594h0M3347 1584h0M3301 1627h0M3322 1627h0M3322 1639h0M3322 1649h0M3322 1659h0M3322 1672h0M3322 1682h0M3347 1630h0M3366 1627h0M3386 1640h0M3366 1662h0M3291 1668h0M3301 1668h0M3291 1678h0M3310 1685h0M3320 1700h0M3310 1701h0M3315 1713h0M3377 1685h0M3378 1702h0M3344 1697h0M3366 1720h0M3360 1736h0M3388 1720h0M3344 1726h0M3344 1753h0M3326 1890h0M3385 1896h0M3328 1889h0M3384 1881h0M3371 1919h0M3291 1872h0M3328 1896h0M3369 1885h0M3328 1729h0M3308 1923h0M3342 1905h0M3361 1883h0M3321 1902h0M3381 1863h0M3308 1912h0M3322 1884h0M3315 1819h0M3368 1871h0M3387 1887h0M3295 1910h0M3297 1913h0M3307 1922h0M3311 1885h0M3301 1852h0M3324 1906h0M3303 1894h0M3314 1916h0M3328 1900h0M3302 1861h0M3297 1894h0M3322 1852h0M3296 1766h0M3306 1672h0M3382 1826h0M3322 1897h0M3346 1898h0M3300 1923h0M3372 1849h0M3308 1904h0M3321 1875h0M3331 1848h0M3317 1901h0M3297 1843h0M3313 1907h0M3322 1803h0M3384 1858h0M3375 1917h0M3362 1893h0M3344 1895h0M3323 1867h0M3385 1858h0M3345 1797h0M3295 1924h0M3329 1913h0M3323 1922h0M3313 1863h0M3361 1903h0M3328 1918h0M3325 1922h0M3297 1890h0M3331 1858h0M3307 1872h0M3386 1875h0M3329 1915h0M3371 1909h0M3362 1910h0M3303 1906h0M3321 1919h0M3310 1809h0M3296 1872h0M3385 1889h0M3297 1852h0M3331 1916h0M3386 1870h0M3314 1896h0M3341 1885h0M3330 1898h0M3341 1892h0M3336 1914h0M3324 1872h0M3323 1883h0M3358 1844h0M3372 1891h0M3377 1884h0M3303 1812h0M3314 1889h0M3345 1885h0M3359 1847h0M3370 1907h0M3304 1922h0M3350 1886h0M3298 1875h0M3322 1853h0M3371 1899h0M3297 1878h0M3297 1764h0M3322 1871h0M3370 1904h0M3293 1900h0M3300 1860h0M3361 1906h0M3290 1869h0M3337 1827h0M3295 1792h0M3290 1840h0M3327 1887h0M3321 1921h0M3331 1918h0M3301 1849h0M3296 1917h0M3353 1913h0M3386 1891h0M3298 1779h0M3337 1922h0M3346 1791h0M3372 1908h0M3351 1895h0M3294 1826h0M3299 1808h0M3324 1923h0M3323 1844h0M3346 1865h0M3361 1870h0M3386 1821h0M3295 1917h0M3344 1862h0M3346 1840h0M3357 1922h0M3344 1911h0M3326 1921h0M3325 1810h0M3298 1890h0M3322 1844h0M3327 1906h0M3340 1874h0M3301 1833h0M3338 1898h0M3297 1858h0M3296 1886h0M3295 1903h0M3323 1862h0M3304 1825h0M3321 1846h0M3315 1882h0M3374 1923h0M3368 1884h0M3311 1778h0M3297 1882h0M3322 1923h0M3338 1825h0M3343 1830h0M3387 1874h0M3325 1874h0M3340 1921h0M3371 1900h0M3323 1840h0M3300 1822h0M3293 1916h0M3374 1920h0M3324 1788h0M3343 1849h0M3376 1914h0M3290 1895h0M3322 1787h0M3316 1920h0M3336 1859h0M3378 1870h0M3294 1911h0M3379 1904h0M3386 1833h0M3369 1827h0M3325 1884h0M3305 1884h0M3292 1885h0M3356 1859h0M3340 1861h0M3341 1846h0M3331 1784h0M3375 1921h0M3317 1857h0M3310 1751h0M3328 1879h0M3363 1923h0M3377 1872h0M3290 1864h0M3301 1793h0M3371 1851h0M3329 1900h0M3351 1900h0M3294 1924h0M3360 1922h0M3302 1924h0M3291 1907h0M3377 1866h0M3293 1923h0M3308 1814h0M3337 1818h0M3345 1871h0M3340 1922h0M3380 1799h0M3318 1724h0M3378 1865h0M3379 1923h0M3306 1832h0M3291 1908h0M3293 1919h0M3290 1893h0M3294 1839h0M3297 1846h0M3336 1922h0M3345 1819h0M3381 1908h0M3302 1851h0M3290 1886h0M3382 1911h0M3325 1840h0M3385 1864h0M3370 1803h0M3384 1903h0M3293 1913h0M3304 1835h0M3369 1835h0M3304 1800h0M3385 1921h0M3387 1923h0M3386 1851h0M3313 1831h0M3306 1924h0M3293 1851h0M3291 1827h0M3367 1922h0M3343 1832h0M3299 1803h0M3337 1923h0M3317 1830h0M3304 1691h0M3387 1786h0M3317 1842h0M3321 1819h0M3347 1920h0M3322 1793h0M3290 1902h0M3319 1924h0M3304 1626h0M3305 1848h0M3303 1860h0M3387 1886h0M3371 1923h0M3322 1924h0M3291 1917h0M3356 1865h0M3363 1879h0M3342 1843h0M3290 1903h0M3290 1884h0M3358 1885h0M3308 1924h0M3317 1849h0M3310 1843h0M3357 1860h0M3320 1833h0M3325 1751h0M3321 1798h0M3305 1924h0M3386 1922h0M3290 1900h0M3299 1777h0M3320 1827h0M3290 1916h0M3327 1747h0M3299 1719h0M3380 1924h0M3291 1882h0M3380 1821h0M3291 1767h0M3301 1657h0M3337 1884h0M3381 1859h0M3344 1814h0M3342 1838h0M3371 1791h0M3341 1862h0M3350 1878h0M3341 1768h0M3315 1924h0M3300 1757h0M3385 1881h0M3292 1923h0M3369 1849h0M3372 1809h0M3325 1790h0M3325 1814h0M3383 1909h0M3291 1877h0M3290 1897h0M3320 1824h0M3291 1808h0M3304 1849h0M3341 1852h0M3370 1805h0M3321 1829h0M3320 1818h0M3298 1823h0M3343 1824h0M3380 1841h0M3366 1861h0M3292 1843h0M3380 1736h0M3387 1802h0M3345 1790h0M3291 1826h0M3369 1776h0M3303 1698h0M3327 1733h0M3387 1876h0M3377 1826h0M3321 1766h0M3350 1843h0M3331 1837h0M3293 1725h0M3296 1754h0M3326 1765h0M3387 1909h0M3336 1832h0M3357 1841h0M3290 1877h0M3328 1924h0M3294 1860h0M3336 1809h0M3383 1841h0M3299 1687h0M3345 1828h0M3372 1880h0M3291 1848h0M3370 1852h0M3307 1854h0M3353 1869h0M3387 1819h0M3294 1618h0M3291 1851h0M3300 1779h0M3360 1818h0M3320 1600h0M3373 1811h0M3293 1858h0M3321 1808h0M3361 1923h0M3364 1923h0M3295 1720h0M3367 1788h0M3322 1831h0M3386 1703h0M3295 1817h0M3326 1869h0M3324 1834h0M3344 1833h0M3308 1805h0M3308 1754h0M3292 1799h0M3310 1778h0M3337 1799h0M3290 1836h0M3305 1711h0M3364 1844h0M3291 1913h0M3313 1787h0M3290 1904h0M3338 1862h0M3340 1870h0M3383 1797h0M3303 1736h0M3337 1873h0M3308 1725h0M3290 1891h0M3291 1793h0M3336 1818h0M3344 1764h0M3307 1760h0M3346 1782h0M3305 1788h0M3379 1857h0M3323 1745h0M3387 1839h0M3330 1809h0M3385 1773h0M3290 1887h0M3303 1740h0M3320 1727h0M3324 1759h0M3310 1743h0M3382 1757h0M3290 1905h0M3309 1765h0M3366 1923h0M3384 1781h0M3360 1923h0M3290 1906h0M3369 1793h0M3381 1776h0M3351 1809h0M3364 1853h0M3301 1721h0M3300 1784h0M3290 1876h0M3328 1780h0M3309 1924h0M3347 1821h0M3386 1850h0M3328 1751h0M3351 1862h0M3305 1735h0M3313 1801h0M3368 1779h0M3386 1787h0M3385 1854h0M3380 1745h0M3379 1750h0M3299 1775h0M3379 1766h0M3342 1811h0M3349 1924h0M3291 1921h0M3331 1717h0M3359 1923h0M3387 1847h0M3364 1924h0M3291 1796h0M3295 1818h0M3377 1923h0M3345 1833h0M3387 1885h0M3331 1834h0M3387 1900h0M3324 1767h0M3325 1803h0M3329 1766h0M3386 1856h0M3378 1924h0M3290 1835h0M3318 1691h0M3385 1791h0M3387 1868h0M3328 1823h0M3351 1763h0M3387 1867h0M3381 1813h0M3325 1792h0M3331 1757h0M3309 1764h0M3386 1796h0M3345 1794h0M3329 1724h0M3534 1568h0M3536 1605h0M3579 1620h0M3557 1631h0M3545 1643h0M3557 1646h0M3579 1675h0M3589 1687h0M3579 1695h0M3590 1702h0M3606 1691h0M3611 1701h0M3531 1694h0M3555 1692h0M3553 1707h0M3565 1708h0M3563 1723h0M3577 1718h0M3592 1724h0M3546 1740h0M3565 1740h0M3535 1755h0M3587 1746h0M3604 1746h0M3610 1752h0M3534 1792h0M3534 1810h0M3531 1833h0M3603 1909h0M3601 1778h0M3594 1878h0M3540 1888h0M3535 1804h0M3605 1901h0M3598 1900h0M3563 1905h0M3587 1895h0M3561 1924h0M3593 1851h0M3578 1910h0M3602 1868h0M3601 1882h0M3553 1901h0M3605 1871h0M3601 1867h0M3531 1921h0M3575 1910h0M3585 1869h0M3573 1915h0M3591 1850h0M3538 1908h0M3558 1894h0M3597 1844h0M3602 1840h0M3551 1847h0M3535 1846h0M3558 1924h0M3532 1906h0M3558 1897h0M3616 1830h0M3560 1772h0M3553 1886h0M3576 1913h0M3584 1903h0M3536 1923h0M3566 1907h0M3557 1915h0M3571 1903h0M3587 1870h0M3599 1811h0M3591 1923h0M3591 1910h0M3598 1919h0M3587 1923h0M3607 1923h0M3566 1903h0M3614 1674h0M3605 1885h0M3602 1740h0M3608 1891h0M3538 1919h0M3616 1748h0M3540 1913h0M3605 1890h0M3561 1920h0M3535 1842h0M3596 1886h0M3609 1848h0M3563 1900h0M3599 1916h0M3577 1920h0M3612 1922h0M3613 1804h0M3542 1889h0M3610 1917h0M3589 1771h0M3601 1924h0M3532 1862h0M3590 1916h0M3556 1908h0M3597 1840h0M3605 1912h0M3611 1919h0M3613 1921h0M3532 1884h0M3606 1894h0M3552 1892h0M3565 1924h0M3585 1840h0M3614 1881h0M3539 1862h0M3600 1801h0M3609 1889h0M3555 1879h0M3610 1923h0M3598 1828h0M3574 1880h0M3611 1910h0M3588 1896h0M3611 1898h0M3615 1881h0M3542 1914h0M3597 1838h0M3608 1858h0M3572 1779h0M3539 1763h0M3616 1915h0M3555 1861h0M3559 1882h0M3609 1904h0M3556 1917h0M3582 1740h0M3602 1827h0M3542 1918h0M3574 1876h0M3576 1906h0M3613 1762h0M3597 1861h0M3608 1846h0M3577 1923h0M3553 1882h0M3551 1895h0M3609 1826h0M3543 1897h0M3550 1919h0M3542 1911h0M3551 1924h0M3576 1896h0M3613 1865h0M3586 1848h0M3561 1808h0M3552 1882h0M3585 1885h0M3571 1899h0M3609 1806h0M3601 1797h0M3609 1837h0M3532 1918h0M3586 1923h0M3571 1768h0M3541 1796h0M3616 1912h0M3566 1894h0M3603 1876h0M3560 1884h0M3561 1796h0M3561 1876h0M3535 1848h0M3532 1903h0M3592 1808h0M3614 1887h0M3614 1863h0M3532 1732h0M3580 1859h0M3587 1868h0M3597 1859h0M3615 1870h0M3585 1855h0M3588 1924h0M3572 1865h0M3541 1881h0M3614 1866h0M3534 1870h0M3605 1778h0M3534 1895h0M3533 1761h0M3535 1854h0M3554 1908h0M3535 1912h0M3591 1778h0M3615 1878h0M3588 1860h0M3602 1798h0M3572 1821h0M3603 1677h0M3586 1879h0M3615 1867h0M3546 1907h0M3568 1922h0M3548 1923h0M3592 1923h0M3606 1852h0M3577 1896h0M3540 1705h0M3588 1841h0M3616 1924h0M3537 1794h0M3569 1923h0M3585 1839h0M3585 1923h0M3615 1819h0M3571 1868h0M3613 1820h0M3561 1822h0M3610 1904h0M3534 1785h0M3601 1786h0M3543 1881h0M3616 1856h0M3616 1911h0M3539 1832h0M3538 1834h0M3532 1889h0M3616 1917h0M3590 1924h0M3600 1726h0M3586 1850h0M3536 1814h0M3604 1827h0M3543 1879h0M3610 1842h0M3570 1923h0M3583 1810h0M3574 1852h0M3555 1865h0M3554 1857h0M3541 1875h0M3613 1895h0M3616 1910h0M3533 1923h0M3605 1813h0M3593 1781h0M3592 1775h0M3562 1869h0M3547 1863h0M3547 1924h0M3611 1900h0M3567 1888h0M3579 1885h0M3614 1798h0M3572 1838h0M3616 1880h0M3550 1793h0M3534 1781h0M3546 1832h0M3594 1838h0M3557 1766h0M3605 1817h0M3616 1852h0M3586 1809h0M3545 1875h0M3596 1831h0M3599 1784h0M3531 1920h0M3531 1922h0M3572 1810h0M3589 1816h0M3599 1767h0M3537 1924h0M3553 1828h0M3559 1870h0M3536 1875h0M3532 1876h0M3577 1846h0M3616 1848h0M3551 1787h0M3534 1857h0M3531 1832h0M3531 1841h0M3577 1840h0M3616 1863h0M3539 1775h0M3531 1883h0M3531 1915h0M3548 1708h0M3571 1851h0M3598 1822h0M3532 1866h0M3571 1765h0M3539 1757h0M3587 1924h0M3539 1725h0M3616 1843h0M3613 1897h0M3532 1901h0M3563 1817h0M3600 1745h0M3558 1854h0M3586 1924h0M3563 1861h0M3616 1849h0M3561 1806h0M3596 1924h0M3570 1771h0M3604 1785h0M3536 1786h0M3531 1909h0M3539 1859h0M3533 1777h0M3615 1887h0M3589 1776h0M3545 1792h0M3572 1842h0M3600 1693h0M3532 1900h0M3604 1797h0M3586 1766h0M3539 1709h0M3616 1908h0M3596 1784h0M3616 1923h0M3532 1852h0M3536 1845h0M3564 1924h0M3545 1820h0M3536 1685h0M3534 1762h0M3601 1668h0M3597 1728h0M3547 1870h0M3562 1818h0M3579 1814h0M3597 1766h0M3590 1790h0M3531 1881h0M3584 1792h0M3539 1716h0M3606 1774h0M3603 1924h0M3600 1759h0M3571 1843h0M3564 1783h0M3556 1924h0M3614 1892h0M3561 1765h0M3615 1835h0M3612 1900h0M3536 1822h0M3537 1847h0M3609 1728h0M3616 1865h0M3608 1812h0M3550 1850h0M3567 1924h0M3573 1769h0M3615 1892h0M3551 1789h0M3615 1924h0M3587 1838h0M3549 1924h0M3606 1777h0M3770 1346h0M3788 1406h0M3803 1450h0M3770 1502h0M3803 1495h0M3803 1504h0M3803 1511h0M3769 1537h0M3770 1540h0M3802 1549h0M3803 1560h0M3770 1578h0M3792 1595h0M3801 1610h0M3803 1615h0M3789 1624h0M3790 1631h0M3737 1610h0M3738 1624h0M3739 1639h0M3739 1649h0M3742 1684h0M3774 1649h0M3769 1669h0M3782 1658h0M3789 1678h0M3801 1655h0M3802 1682h0M3762 1691h0M3772 1688h0M3764 1698h0M3787 1701h0M3795 1695h0M3737 1711h0M3737 1721h0M3742 1727h0M3769 1726h0M3762 1736h0M3790 1911h0M3793 1920h0M3759 1891h0M3780 1890h0M3788 1773h0M3799 1921h0M3758 1874h0M3780 1898h0M3781 1916h0M3768 1895h0M3789 1923h0M3761 1816h0M3761 1869h0M3789 1855h0M3775 1844h0M3755 1918h0M3762 1917h0M3757 1882h0M3762 1921h0M3785 1894h0M3780 1808h0M3802 1659h0M3794 1828h0M3767 1782h0M3794 1775h0M3767 1902h0M3774 1742h0M3773 1867h0M3775 1834h0M3776 1911h0M3780 1829h0M3794 1901h0M3762 1893h0M3753 1868h0M3795 1923h0M3760 1880h0M3755 1691h0M3802 1874h0M3770 1881h0M3782 1773h0M3791 1862h0M3761 1914h0M3775 1848h0M3774 1906h0M3801 1917h0M3752 1849h0M3779 1876h0M3778 1919h0M3779 1860h0M3759 1806h0M3780 1859h0M3780 1922h0M3743 1790h0M3775 1832h0M3757 1797h0M3778 1874h0M3790 1856h0M3796 1893h0M3757 1830h0M3776 1845h0M3768 1888h0M3776 1871h0M3799 1861h0M3801 1871h0M3778 1910h0M3802 1908h0M3770 1818h0M3781 1910h0M3758 1879h0M3787 1905h0M3758 1900h0M3766 1865h0M3799 1863h0M3777 1919h0M3784 1624h0M3768 1909h0M3750 1811h0M3782 1849h0M3767 1910h0M3799 1895h0M3738 1858h0M3759 1868h0M3756 1911h0M3777 1868h0M3759 1707h0M3757 1904h0M3794 1834h0M3800 1901h0M3797 1870h0M3764 1655h0M3756 1907h0M3765 1750h0M3774 1875h0M3797 1889h0M3782 1922h0M3803 1707h0M3745 1844h0M3794 1924h0M3778 1923h0M3766 1829h0M3743 1824h0M3777 1816h0M3775 1811h0M3778 1830h0M3758 1835h0M3779 1870h0M3802 1858h0M3783 1794h0M3779 1885h0M3796 1924h0M3759 1893h0M3748 1867h0M3759 1852h0M3767 1847h0M3799 1886h0M3766 1827h0M3771 1912h0M3793 1796h0M3803 1793h0M3802 1912h0M3801 1861h0M3776 1842h0M3786 1849h0M3773 1865h0M3781 1870h0M3767 1921h0M3769 1871h0M3788 1768h0M3803 1895h0M3758 1921h0M3802 1833h0M3780 1857h0M3798 1885h0M3759 1851h0M3795 1873h0M3751 1888h0M3781 1807h0M3794 1816h0M3763 1805h0M3789 1791h0M3756 1877h0M3800 1880h0M3770 1922h0M3769 1833h0M3777 1924h0M3802 1901h0M3800 1921h0M3794 1885h0M3766 1924h0M3794 1866h0M3796 1830h0M3756 1920h0M3801 1603h0M3781 1708h0M3769 1849h0M3797 1858h0M3766 1847h0M3781 1924h0M3781 1871h0M3757 1923h0M3755 1696h0M3771 1789h0M3803 1916h0M3782 1838h0M3771 1780h0M3803 1906h0M3783 1889h0M3749 1819h0M3759 1759h0M3746 1872h0M3769 1836h0M3760 1849h0M3752 1918h0M3785 1818h0M3775 1790h0M3801 1852h0M3763 1826h0M3803 1900h0M3786 1817h0M3774 1745h0M3801 1882h0M3797 1825h0M3788 1869h0M3780 1826h0M3784 1812h0M3794 1805h0M3797 1880h0M3763 1837h0M3762 1818h0M3793 1872h0M3766 1798h0M3797 1923h0M3788 1836h0M3801 1879h0M3799 1799h0M3803 1901h0M3781 1884h0M3758 1895h0M3743 1876h0M3802 1866h0M3802 1923h0M3803 1911h0M3802 1815h0M3748 1875h0M3756 1924h0M3780 1699h0M3795 1852h0M3770 1924h0M3766 1804h0M3786 1887h0M3750 1901h0M3761 1860h0M3803 1690h0M3746 1897h0M3779 1800h0M3785 1595h0M3794 1843h0M3736 1858h0M3739 1915h0M3803 1618h0M3795 1881h0M3759 1803h0M3796 1793h0M3799 1849h0M3756 1847h0M3774 1924h0M3786 1876h0M3787 1773h0M3798 1826h0M3783 1781h0M3738 1877h0M3782 1924h0M3746 1921h0M3795 1807h0M3775 1862h0M3739 1908h0M3745 1851h0M3746 1811h0M3738 1909h0M3797 1771h0M3797 1838h0M3803 1889h0M3738 1910h0M3736 1861h0M3803 1886h0M3755 1830h0M3803 1898h0M3748 1880h0M3800 1835h0M3761 1741h0M3775 1853h0M3772 1772h0M3758 1676h0M3801 1817h0M3752 1917h0M3745 1861h0M3737 1916h0M3758 1738h0M3787 1659h0M3790 1924h0M3754 1912h0M3773 1853h0M3783 1805h0M3771 1643h0M3773 1924h0M3783 1924h0M3772 1675h0M3803 1902h0M3802 1813h0M3780 1754h0M3758 1672h0M3803 1864h0M3773 1733h0M3758 1662h0M3787 1749h0M3803 1915h0M3803 1919h0M3799 1703h0M3794 1792h0M3803 1904h0M3757 1852h0M3748 1901h0M3751 1794h0M3739 1894h0M3803 1910h0M3752 1865h0M3760 1774h0M3798 1842h0M3799 1839h0M3736 1918h0M3741 1908h0M3803 1867h0M3758 1789h0M3736 1805h0M3745 1845h0M3786 1605h0M3756 1838h0M3802 1861h0M3783 1753h0M3801 1848h0M3795 1736h0M3747 1884h0M3760 1772h0M3803 1876h0M3755 1923h0M3755 1861h0M3758 1787h0M3794 1780h0M3748 1922h0M3800 1826h0M3803 1909h0M3801 1923h0M3794 1791h0M3803 1787h0M3736 1900h0M3754 1924h0M3740 1860h0M3801 1742h0M3800 1741h0M3793 1924h0M3778 1761h0M3784 1924h0M3763 1764h0M3803 1893h0M3787 1924h0M3803 1878h0M3798 1775h0M3803 1636h0M3763 1747h0M3803 1883h0M3762 1819h0M3758 1924h0M3762 1924h0M3797 1756h0M3758 1763h0M3758 1775h0M3802 1745h0M3746 1841h0M3802 1686h0M3739 1831h0M3798 1778h0M3770 1650h0M3788 1690h0M3748 1923h0M3744 1837h0M3802 1873h0M3801 1628h0M3777 1717h0M3803 1859h0M3744 1891h0M3794 1761h0M3746 1922h0M3783 1728h0M3800 1687h0M3737 1906h0M3803 1872h0M3803 1873h0M3736 1895h0M3803 1860h0M3763 1924h0M3802 1737h0M3742 1791h0M3755 1656h0M3803 1921h0M3738 1894h0M3802 1794h0M3797 1716h0M3737 1909h0M3741 1841h0M3802 1835h0M3782 1740h0M3736 1920h0M3782 1712h0M3773 1764h0M3803 1855h0M3737 1911h0M3757 1760h0M3799 1778h0M3742 1887h0M3736 1909h0M3800 1654h0M3745 1711h0M3797 1746h0M3771 1764h0M3803 1912h0M3801 1732h0M3775 1720h0M3758 1736h0M3786 1587h0M3760 1683h0M3737 1883h0M3757 1755h0M3758 1779h0M3759 1924h0M3803 1892h0M3798 1731h0M3803 1740h0M3794 1670h0M3803 1785h0M3736 1917h0M3803 1782h0M3736 1879h0M3745 1824h0M3757 1780h0M3780 1707h0M3745 1810h0M3955 1157h0M3953 1427h0M3955 1444h0M3955 1456h0M3953 1472h0M3956 1489h0M3953 1505h0M3953 1523h0M3956 1525h0M3953 1539h0M3955 1552h0M3956 1568h0M3961 1579h0M3930 1559h0M3930 1565h0M3943 1565h0M3943 1575h0M3929 1607h0M3929 1627h0M3943 1607h0M3958 1607h0M3958 1644h0M3930 1678h0M3930 1679h0M3958 1671h0M3960 1684h0M3950 1688h0M3958 1701h0M3935 1711h0M3930 1729h0M3942 1746h0M3935 1763h0M3930 1769h0M3950 1714h0M3962 1736h0M3955 1755h0M3960 1774h0M3940 1884h0M3947 1924h0M3954 1767h0M3930 1875h0M3936 1903h0M3945 1740h0M3931 1923h0M3955 1907h0M3957 1872h0M3953 1824h0M3963 1924h0M3965 1862h0M3956 1914h0M3930 1885h0M3962 1904h0M3962 1873h0M3943 1769h0M3950 1895h0M3952 1908h0M3950 1914h0M3943 1874h0M3959 1914h0M3938 1897h0M3949 1918h0M3949 1919h0M3951 1918h0M3961 1905h0M3949 1910h0M3955 1860h0M3962 1906h0M3967 1890h0M3959 1915h0M3966 1886h0M3936 1918h0M3953 1895h0M3941 1915h0M3938 1837h0M3937 1888h0M3937 1856h0M3948 1902h0M3947 1869h0M3961 1772h0M3954 1893h0M3932 1924h0M3960 1913h0M3949 1891h0M3964 1857h0M3937 1904h0M3966 1902h0M3963 1902h0M3961 1704h0M3961 1874h0M3961 1911h0M3964 1900h0M3952 1832h0M3950 1876h0M3959 1887h0M3946 1880h0M3958 1848h0M3955 1873h0M3950 1884h0M3961 1917h0M3962 1924h0M3952 1922h0M3943 1921h0M3931 1898h0M3932 1893h0M3953 1846h0M3967 1886h0M3964 1868h0M3963 1913h0M3938 1909h0M3957 1839h0M3947 1828h0M3937 1923h0M3967 1888h0M3960 1849h0M3952 1923h0M3954 1879h0M3954 1707h0M3934 1869h0M3963 1808h0M3942 1812h0M3958 1832h0M3962 1722h0M3933 1901h0M3953 1924h0M3932 1837h0M3963 1876h0M3963 1915h0M3959 1829h0M3949 1837h0M3932 1726h0M3931 1695h0M3953 1710h0M3956 1924h0M3938 1798h0M3947 1788h0M3964 1904h0M3940 1808h0M3967 1857h0M3966 1923h0M3950 1789h0M3955 1750h0M3964 1911h0M3938 1741h0M3944 1780h0M3931 1910h0M3949 1821h0M3948 1853h0M3948 1856h0M3961 1827h0M3930 1867h0M3960 1817h0M3932 1907h0M3964 1917h0M3944 1799h0M3931 1922h0M3940 1855h0M3956 1817h0M3936 1740h0M3940 1758h0M3937 1845h0M3936 1798h0M3952 1658h0M3930 1823h0M3965 1913h0M3937 1861h0M3960 1924h0M3965 1847h0M3938 1814h0M3931 1836h0M3963 1799h0M3950 1838h0M3942 1840h0M3934 1841h0M3942 1773h0M3942 1823h0M3948 1814h0M3952 1652h0M3962 1841h0M3943 1793h0M3931 1902h0M3941 1853h0M3958 1809h0M3930 1907h0M3934 1788h0M3948 1778h0M3930 1879h0M3933 1913h0M3953 1704h0M3951 1684h0M3965 1910h0M3931 1893h0M3958 1806h0M3953 1808h0M3930 1922h0M3966 1865h0M3953 1804h0M3965 1924h0M3950 1797h0M3955 1694h0M3964 1721h0M3950 1753h0M3961 1705h0M3949 1788h0M3937 1854h0M3962 1742h0M3963 1822h0M3965 1877h0M3954 1713h0M3964 1797h0M3966 1898h0M3954 1724h0M3964 1710h0M3965 1793h0M3966 1924h0M3948 1924h0M3967 1883h0M3932 1835h0M3965 1915h0M3930 1902h0M3959 1924h0M3936 1860h0M3951 1750h0M3967 1818h0M3938 1807h0M3935 1802h0M3951 1781h0M3965 1807h0M3930 1920h0M3965 1905h0M3934 1855h0M3952 1756h0M3953 1673h0M3938 1923h0M3951 1630h0M3965 1840h0M3955 1735h0M3950 1792h0M3936 1849h0M3966 1829h0M3931 1895h0M3945 1755h0M3950 1786h0M3957 1739h0M3967 1918h0M3951 1683h0M3942 1741h0M3931 1859h0M3941 1786h0M3937 1825h0M3953 1646h0M3932 1705h0M3930 1923h0M3958 1802h0M3967 1880h0M3944 1765h0M3964 1792h0M3955 1699h0M3936 1848h0M3937 1810h0M3955 1664h0M3957 1784h0M3933 1804h0M3953 1706h0M3940 1751h0M3931 1917h0M3931 1854h0M3960 1800h0M3942 1737h0M3953 1763h0M3943 1720h0M3967 1919h0M3965 1907h0M3941 1784h0M3956 1751h0M3957 1749h0M3933 1924h0M3948 1700h0M3942 1775h0M3930 1908h0M3961 1770h0M3967 1923h0M3962 1752h0M3931 1740h0M3966 1877h0M3934 1842h0M3964 1665h0M3939 1775h0M3930 1835h0M3965 1815h0M3932 1809h0M3930 1710h0M3931 1839h0M3931 1911h0M3930 1874h0M3961 1746h0M3934 1845h0M3931 1748h0M3964 1720h0M3931 1738h0M3936 1781h0M3965 1838h0M3966 1894h0M3930 1899h0M3944 1687h0M3931 1796h0M3939 1738h0M3931 1760h0"/></g><g fill="#00cc00"><circle cx="873.3" cy="574.0" r="13.5"/><circle cx="873.3" cy="970.0" r="13.5"/><circle cx="1384.0" cy="300.0" r="13.5"/><circle cx="1384.0" cy="316.0" r="13.5"/><circle cx="1384.0" cy="500.7" r="13.5"/><circle cx="1467.3" cy="875.3" r="13.5"/><circle cx="1494.7" cy="954.7" r="13.5"/><circle cx="1467.3" cy="1007.3" r="13.5"/><circle cx="1713.3" cy="856.7" r="13.5"/><circle cx="2101.9" cy="298.3" r="13.5"/><circle cx="2464.2" cy="183.2" r="13.5"/><circle cx="2353.8" cy="1016.0" r="13.5"/><circle cx="2353.0" cy="1042.5" r="13.5"/><circle cx="2353.0" cy="1055.0" r="13.5"/><circle cx="2507.0" cy="978.0" r="13.5"/><circle cx="2507.0" cy="1025.4" r="13.5"/><circle cx="2507.0" cy="1109.3" r="13.5"/><circle cx="2710.0" cy="719.7" r="13.5"/><circle cx="3346.0" cy="183.4" r="13.5"/><circle cx="3348.0" cy="881.0" r="13.5"/><circle cx="3955.0" cy="399.4" r="13.5"/><circle cx="3955.0" cy="775.6" r="13.5"/></g><line x1="223.2" y1="1112" x2="4018" y2="1112" stroke="#000" stroke-width="5.9" stroke-dasharray="22.9 8.015"/><rect x="222.1" y="35.7" width="3.7" height="1891" fill="#000"/><rect x="207" y="1922.5" width="16" height="3.9" fill="#000"/><text x="189.5" y="1947.0" font-size="62.5" text-anchor="end">0</text><rect x="207" y="1632.3" width="16" height="3.9" fill="#000"/><text x="189.5" y="1656.8" font-size="62.5" text-anchor="end">2</text><rect x="207" y="1342.1" width="16" height="3.9" fill="#000"/><text x="189.5" y="1366.6" font-size="62.5" text-anchor="end">4</text><rect x="207" y="1052.0" width="16" height="3.9" fill="#000"/><text x="189.5" y="1076.4" font-size="62.5" text-anchor="end">6</text><rect x="207" y="761.8" width="16" height="3.9" fill="#000"/><text x="189.5" y="786.2" font-size="62.5" text-anchor="end">8</text><rect x="207" y="471.6" width="16" height="3.9" fill="#000"/><text x="187.0" y="496.0" font-size="62.5" text-anchor="end">10</text><rect x="207" y="181.4" width="16" height="3.9" fill="#000"/><text x="187.0" y="205.8" font-size="62.5" text-anchor="end">12</text><text x="387.0" y="2004" font-size="62.5" text-anchor="middle">1</text><text x="684.0" y="2004" font-size="62.5" text-anchor="middle">2</text><text x="952.0" y="2004" font-size="62.5" text-anchor="middle">3</text><text x="1191.3" y="2004" font-size="62.5" text-anchor="middle">4</text><text x="1421.8" y="2004" font-size="62.5" text-anchor="middle">5</text><text x="1641.2" y="2004" font-size="62.5" text-anchor="middle">6</text><text x="1848.0" y="2004" font-size="62.5" text-anchor="middle">7</text><text x="2042.0" y="2004" font-size="62.5" text-anchor="middle">8</text><text x="2226.2" y="2004" font-size="62.5" text-anchor="middle">9</text><text x="2404.0" y="2004" font-size="62.5" text-anchor="middle">10</text><text x="2578.5" y="2004" font-size="62.5" text-anchor="middle">11</text><text x="2752.5" y="2004" font-size="62.5" text-anchor="middle">12</text><text x="2916.0" y="2004" font-size="62.5" text-anchor="middle">13</text><text x="3064.3" y="2004" font-size="62.5" text-anchor="middle">14</text><text x="3205.8" y="2004" font-size="62.5" text-anchor="middle">15</text><text x="3338.3" y="2004" font-size="62.5" text-anchor="middle">16</text><text x="3459.3" y="2004" font-size="62.5" text-anchor="middle">17</text><text x="3573.3" y="2004" font-size="62.5" text-anchor="middle">18</text><text x="3675.3" y="2004" font-size="62.5" text-anchor="middle">19</text><text x="3769.5" y="2004" font-size="62.5" text-anchor="middle">20</text><text x="3857.5" y="2004" font-size="62.5" text-anchor="middle">21</text><text x="3938.8" y="2004" font-size="62.5" text-anchor="middle">22</text><text x="2121" y="2080.3" font-size="64.5" text-anchor="middle">Chromosome</text><g transform="translate(80,979) rotate(-90) scale(1.11,1)"><text x="0" y="0" font-size="62" text-anchor="middle">−log<tspan font-size="43" dy="8.5">10</tspan><tspan dy="-8.5"> (p value)</tspan></text></g></svg></body></html>
